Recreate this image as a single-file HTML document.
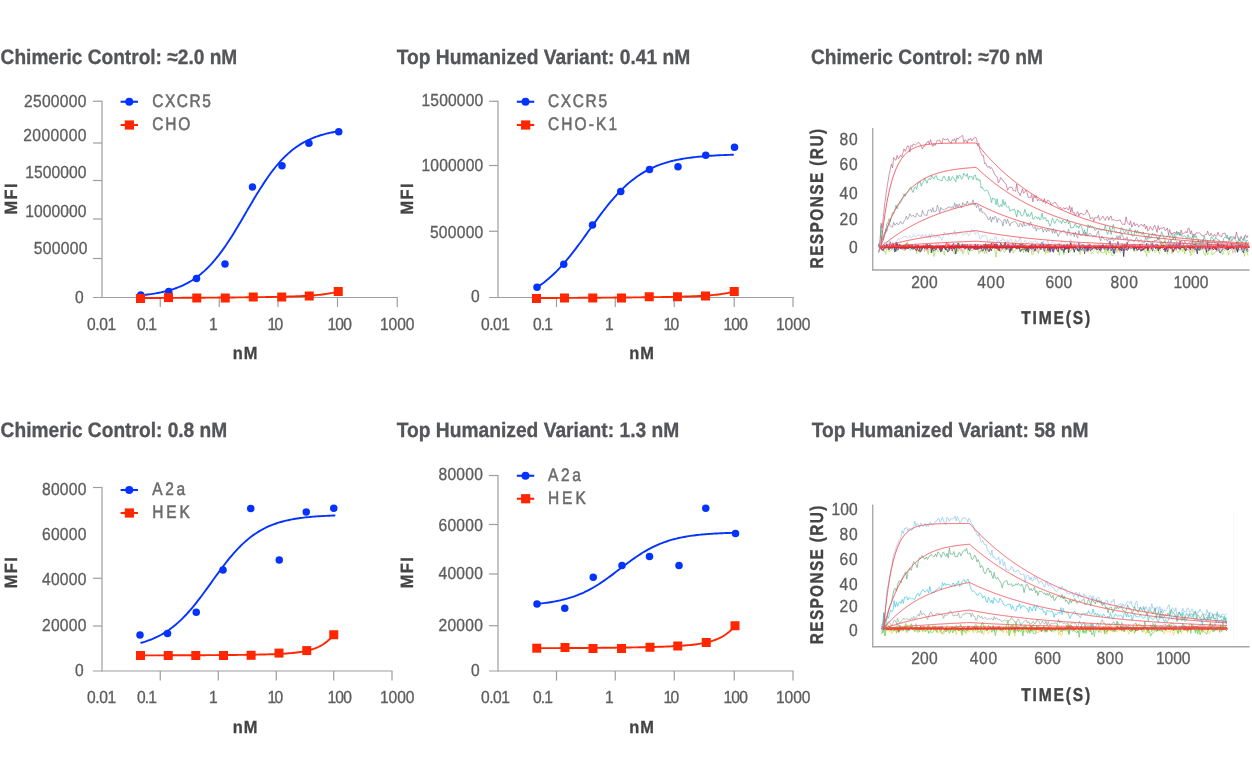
<!DOCTYPE html>
<html lang="en">
<head>
<meta charset="utf-8">
<title>Binding affinity: chimeric control vs. top humanized variant</title>
<style>
html, body { margin: 0; padding: 0; background: #ffffff; }
body { width: 1252px; height: 763px; overflow: hidden; }
svg { display: block; font-family: "Liberation Sans", sans-serif; text-rendering: geometricPrecision; }
</style>
</head>
<body>
<svg width="1252" height="763" viewBox="0 0 1252 763">
<defs>
<filter id="bl" x="-2%" y="-10%" width="104%" height="120%"><feGaussianBlur stdDeviation="0.55"/></filter>
</defs>
<rect width="1252" height="763" fill="#ffffff"/>
<text font-size="19.5" fill="#545558" font-weight="bold" stroke="#545558" stroke-width="0.3" textLength="236.65" lengthAdjust="spacingAndGlyphs" transform="translate(0.60 63.60) scale(1 1.07)">Chimeric Control: ≈2.0 nM</text>
<text font-size="19.5" fill="#545558" font-weight="bold" stroke="#545558" stroke-width="0.3" textLength="293.55" lengthAdjust="spacingAndGlyphs" transform="translate(396.70 63.60) scale(1 1.07)">Top Humanized Variant: 0.41 nM</text>
<text font-size="19.5" fill="#545558" font-weight="bold" stroke="#545558" stroke-width="0.3" textLength="232.00" lengthAdjust="spacingAndGlyphs" transform="translate(811.00 63.60) scale(1 1.07)">Chimeric Control: ≈70 nM</text>
<text font-size="19.5" fill="#545558" font-weight="bold" stroke="#545558" stroke-width="0.3" textLength="226.65" lengthAdjust="spacingAndGlyphs" transform="translate(0.60 437.35) scale(1 1.07)">Chimeric Control: 0.8 nM</text>
<text font-size="19.5" fill="#545558" font-weight="bold" stroke="#545558" stroke-width="0.3" textLength="282.55" lengthAdjust="spacingAndGlyphs" transform="translate(396.70 437.35) scale(1 1.07)">Top Humanized Variant: 1.3 nM</text>
<text font-size="19.5" fill="#545558" font-weight="bold" stroke="#545558" stroke-width="0.3" textLength="276.80" lengthAdjust="spacingAndGlyphs" transform="translate(811.70 437.35) scale(1 1.07)">Top Humanized Variant: 58 nM</text>
<line x1="102.00" y1="100.75" x2="102.00" y2="298.00" stroke="#9e9e9e" stroke-width="1.2"/>
<line x1="93.00" y1="101.25" x2="102.00" y2="101.25" stroke="#9e9e9e" stroke-width="1.2"/>
<line x1="93.00" y1="143.00" x2="102.00" y2="143.00" stroke="#9e9e9e" stroke-width="1.2"/>
<line x1="93.00" y1="180.50" x2="102.00" y2="180.50" stroke="#9e9e9e" stroke-width="1.2"/>
<line x1="93.00" y1="219.00" x2="102.00" y2="219.00" stroke="#9e9e9e" stroke-width="1.2"/>
<line x1="93.00" y1="258.50" x2="102.00" y2="258.50" stroke="#9e9e9e" stroke-width="1.2"/>
<line x1="93.00" y1="297.50" x2="397.75" y2="297.50" stroke="#9e9e9e" stroke-width="1.2"/>
<line x1="160.25" y1="297.50" x2="160.25" y2="307.10" stroke="#9e9e9e" stroke-width="1.2"/>
<line x1="219.25" y1="297.50" x2="219.25" y2="307.10" stroke="#9e9e9e" stroke-width="1.2"/>
<line x1="278.00" y1="297.50" x2="278.00" y2="307.10" stroke="#9e9e9e" stroke-width="1.2"/>
<line x1="337.50" y1="297.50" x2="337.50" y2="307.10" stroke="#9e9e9e" stroke-width="1.2"/>
<line x1="397.25" y1="297.50" x2="397.25" y2="307.10" stroke="#9e9e9e" stroke-width="1.2"/>
<text font-size="15.6" fill="#5e5e5e" stroke="#5e5e5e" stroke-width="0.3" textLength="62.65" lengthAdjust="spacing" transform="translate(23.90 107.00) scale(1 1.12)">2500000</text>
<text font-size="15.6" fill="#5e5e5e" stroke="#5e5e5e" stroke-width="0.3" textLength="63.40" lengthAdjust="spacing" transform="translate(23.15 140.50) scale(1 1.12)">2000000</text>
<text font-size="15.6" fill="#5e5e5e" stroke="#5e5e5e" stroke-width="0.3" textLength="61.40" lengthAdjust="spacing" transform="translate(25.15 178.00) scale(1 1.12)">1500000</text>
<text font-size="15.6" fill="#5e5e5e" stroke="#5e5e5e" stroke-width="0.3" textLength="61.40" lengthAdjust="spacing" transform="translate(25.15 216.75) scale(1 1.12)">1000000</text>
<text font-size="15.6" fill="#5e5e5e" stroke="#5e5e5e" stroke-width="0.3" textLength="53.90" lengthAdjust="spacing" transform="translate(33.65 253.75) scale(1 1.12)">500000</text>
<text font-size="15.6" fill="#5e5e5e" stroke="#5e5e5e" stroke-width="0.3" textLength="8.40" lengthAdjust="spacing" transform="translate(74.90 302.50) scale(1 1.12)">0</text>
<text font-size="15.6" fill="#5e5e5e" stroke="#5e5e5e" stroke-width="0.3" textLength="29.40" lengthAdjust="spacing" transform="translate(86.90 329.50) scale(1 1.12)">0.01</text>
<text font-size="15.6" fill="#5e5e5e" stroke="#5e5e5e" stroke-width="0.3" textLength="20.15" lengthAdjust="spacing" transform="translate(136.90 329.50) scale(1 1.12)">0.1</text>
<text font-size="15.6" fill="#5e5e5e" stroke="#5e5e5e" stroke-width="0.3" textLength="5.90" lengthAdjust="spacing" transform="translate(208.90 329.50) scale(1 1.12)">1</text>
<text font-size="15.6" fill="#5e5e5e" stroke="#5e5e5e" stroke-width="0.3" textLength="15.90" lengthAdjust="spacing" transform="translate(267.40 329.50) scale(1 1.12)">10</text>
<text font-size="15.6" fill="#5e5e5e" stroke="#5e5e5e" stroke-width="0.3" textLength="24.65" lengthAdjust="spacing" transform="translate(327.40 329.50) scale(1 1.12)">100</text>
<text font-size="15.6" fill="#5e5e5e" stroke="#5e5e5e" stroke-width="0.3" textLength="34.65" lengthAdjust="spacing" transform="translate(379.90 329.50) scale(1 1.12)">1000</text>
<text font-size="16.4" fill="#444444" font-weight="bold" stroke="#444444" stroke-width="0.3" text-anchor="middle" transform="translate(245.60 358.75) scale(1 1.07)" letter-spacing="0.9">nM</text>
<text font-size="16.4" fill="#444444" font-weight="bold" stroke="#444444" stroke-width="0.3" text-anchor="middle" transform="translate(17.00 198.20) rotate(-90) scale(1 1.08)" letter-spacing="1.5">MFI</text>
<line x1="120.60" y1="101.75" x2="138.00" y2="101.75" stroke="#0433ff" stroke-width="2.1"/>
<circle cx="129.25" cy="101.75" r="4" fill="#0433ff"/>
<line x1="120.60" y1="125.00" x2="138.00" y2="125.00" stroke="#ff2600" stroke-width="2.1"/>
<rect x="124.80" y="120.40" width="9.2" height="9.2" fill="#ff2600"/>
<text font-size="15.5" fill="#6b6b6b" stroke="#6b6b6b" stroke-width="0.45" textLength="58.60" lengthAdjust="spacing" transform="translate(152.20 107.15) scale(1 1.17)">CXCR5</text>
<text font-size="15.5" fill="#6b6b6b" stroke="#6b6b6b" stroke-width="0.45" textLength="38.10" lengthAdjust="spacing" transform="translate(152.20 130.10) scale(1 1.17)">CHO</text>
<path d="M141.00,295.26 L142.66,295.10 L144.31,294.92 L145.97,294.73 L147.62,294.53 L149.28,294.32 L150.93,294.09 L152.59,293.85 L154.24,293.59 L155.90,293.32 L157.55,293.02 L159.21,292.71 L160.87,292.38 L162.52,292.02 L164.18,291.64 L165.83,291.24 L167.49,290.82 L169.14,290.36 L170.80,289.88 L172.45,289.37 L174.11,288.82 L175.76,288.24 L177.42,287.63 L179.08,286.98 L180.73,286.29 L182.39,285.56 L184.04,284.78 L185.70,283.96 L187.35,283.10 L189.01,282.18 L190.66,281.21 L192.32,280.19 L193.97,279.11 L195.63,277.98 L197.29,276.78 L198.94,275.53 L200.60,274.21 L202.25,272.82 L203.91,271.37 L205.56,269.85 L207.22,268.26 L208.87,266.59 L210.53,264.86 L212.18,263.05 L213.84,261.17 L215.50,259.22 L217.15,257.19 L218.81,255.09 L220.46,252.92 L222.12,250.68 L223.77,248.37 L225.43,246.00 L227.08,243.56 L228.74,241.06 L230.39,238.51 L232.05,235.90 L233.71,233.24 L235.36,230.55 L237.02,227.81 L238.67,225.04 L240.33,222.24 L241.98,219.42 L243.64,216.58 L245.29,213.74 L246.95,210.89 L248.61,208.05 L250.26,205.22 L251.92,202.40 L253.57,199.60 L255.23,196.84 L256.88,194.10 L258.54,191.41 L260.19,188.76 L261.85,186.16 L263.50,183.61 L265.16,181.12 L266.82,178.69 L268.47,176.32 L270.13,174.02 L271.78,171.78 L273.44,169.62 L275.09,167.53 L276.75,165.51 L278.40,163.57 L280.06,161.69 L281.71,159.89 L283.37,158.17 L285.03,156.51 L286.68,154.93 L288.34,153.42 L289.99,151.97 L291.65,150.59 L293.30,149.28 L294.96,148.03 L296.61,146.84 L298.27,145.71 L299.92,144.64 L301.58,143.63 L303.24,142.67 L304.89,141.75 L306.55,140.89 L308.20,140.08 L309.86,139.31 L311.51,138.58 L313.17,137.90 L314.82,137.25 L316.48,136.64 L318.13,136.07 L319.79,135.52 L321.45,135.02 L323.10,134.54 L324.76,134.08 L326.41,133.66 L328.07,133.26 L329.72,132.89 L331.38,132.54 L333.03,132.21 L334.69,131.89 L336.34,131.60 L338.00,131.33" fill="none" stroke="#0433ff" stroke-width="1.9" stroke-linejoin="round" stroke-linecap="round"/>
<path d="M140.50,298.02 L142.50,298.01 L144.49,298.00 L146.49,297.99 L148.49,297.99 L150.49,297.98 L152.48,297.97 L154.48,297.96 L156.48,297.95 L158.48,297.94 L160.47,297.93 L162.47,297.92 L164.47,297.91 L166.47,297.90 L168.46,297.89 L170.46,297.88 L172.46,297.87 L174.46,297.86 L176.45,297.85 L178.45,297.84 L180.45,297.83 L182.45,297.82 L184.44,297.81 L186.44,297.79 L188.44,297.78 L190.44,297.77 L192.43,297.76 L194.43,297.74 L196.43,297.73 L198.43,297.72 L200.42,297.71 L202.42,297.69 L204.42,297.68 L206.42,297.66 L208.41,297.65 L210.41,297.63 L212.41,297.62 L214.41,297.60 L216.40,297.59 L218.40,297.57 L220.40,297.56 L222.40,297.54 L224.39,297.52 L226.39,297.51 L228.39,297.49 L230.39,297.47 L232.38,297.45 L234.38,297.43 L236.38,297.41 L238.38,297.39 L240.37,297.37 L242.37,297.35 L244.37,297.33 L246.37,297.31 L248.36,297.29 L250.36,297.26 L252.36,297.24 L254.36,297.21 L256.35,297.19 L258.35,297.16 L260.35,297.13 L262.35,297.11 L264.34,297.08 L266.34,297.04 L268.34,297.01 L270.34,296.98 L272.33,296.94 L274.33,296.90 L276.33,296.86 L278.33,296.82 L280.32,296.78 L282.32,296.73 L284.32,296.68 L286.32,296.63 L288.31,296.57 L290.31,296.51 L292.31,296.44 L294.31,296.37 L296.30,296.30 L298.30,296.22 L300.30,296.13 L302.30,296.04 L304.29,295.93 L306.29,295.82 L308.29,295.70 L310.29,295.57 L312.28,295.42 L314.28,295.26 L316.28,295.09 L318.28,294.90 L320.27,294.69 L322.27,294.46 L324.27,294.21 L326.27,293.93 L328.26,293.62 L330.26,293.27 L332.26,292.90 L334.26,292.48 L336.25,292.01 L338.25,291.50" fill="none" stroke="#ff2600" stroke-width="1.9" stroke-linejoin="round" stroke-linecap="round"/>
<circle cx="140.75" cy="295.00" r="3.75" fill="#0433ff"/>
<circle cx="168.75" cy="291.50" r="3.75" fill="#0433ff"/>
<circle cx="196.50" cy="278.50" r="3.75" fill="#0433ff"/>
<circle cx="225.00" cy="264.10" r="3.75" fill="#0433ff"/>
<circle cx="252.50" cy="187.00" r="3.75" fill="#0433ff"/>
<circle cx="282.00" cy="165.75" r="3.75" fill="#0433ff"/>
<circle cx="308.90" cy="143.25" r="3.75" fill="#0433ff"/>
<circle cx="338.75" cy="131.75" r="3.75" fill="#0433ff"/>
<rect x="136.00" y="294.00" width="9" height="9" fill="#ff2600"/>
<rect x="164.00" y="293.10" width="9" height="9" fill="#ff2600"/>
<rect x="192.25" y="293.50" width="9" height="9" fill="#ff2600"/>
<rect x="220.75" y="293.50" width="9" height="9" fill="#ff2600"/>
<rect x="248.75" y="292.50" width="9" height="9" fill="#ff2600"/>
<rect x="277.25" y="292.50" width="9" height="9" fill="#ff2600"/>
<rect x="304.75" y="291.50" width="9" height="9" fill="#ff2600"/>
<rect x="333.75" y="287.00" width="9" height="9" fill="#ff2600"/>
<line x1="498.00" y1="100.75" x2="498.00" y2="298.00" stroke="#9e9e9e" stroke-width="1.2"/>
<line x1="489.00" y1="101.25" x2="498.00" y2="101.25" stroke="#9e9e9e" stroke-width="1.2"/>
<line x1="489.00" y1="165.50" x2="498.00" y2="165.50" stroke="#9e9e9e" stroke-width="1.2"/>
<line x1="489.00" y1="231.25" x2="498.00" y2="231.25" stroke="#9e9e9e" stroke-width="1.2"/>
<line x1="489.00" y1="297.50" x2="793.50" y2="297.50" stroke="#9e9e9e" stroke-width="1.2"/>
<line x1="556.50" y1="297.50" x2="556.50" y2="307.10" stroke="#9e9e9e" stroke-width="1.2"/>
<line x1="615.25" y1="297.50" x2="615.25" y2="307.10" stroke="#9e9e9e" stroke-width="1.2"/>
<line x1="674.25" y1="297.50" x2="674.25" y2="307.10" stroke="#9e9e9e" stroke-width="1.2"/>
<line x1="734.25" y1="297.50" x2="734.25" y2="307.10" stroke="#9e9e9e" stroke-width="1.2"/>
<line x1="793.00" y1="297.50" x2="793.00" y2="307.10" stroke="#9e9e9e" stroke-width="1.2"/>
<text font-size="15.6" fill="#5e5e5e" stroke="#5e5e5e" stroke-width="0.3" textLength="61.90" lengthAdjust="spacing" transform="translate(421.40 105.60) scale(1 1.12)">1500000</text>
<text font-size="15.6" fill="#5e5e5e" stroke="#5e5e5e" stroke-width="0.3" textLength="61.90" lengthAdjust="spacing" transform="translate(421.40 171.25) scale(1 1.12)">1000000</text>
<text font-size="15.6" fill="#5e5e5e" stroke="#5e5e5e" stroke-width="0.3" textLength="53.40" lengthAdjust="spacing" transform="translate(429.90 237.50) scale(1 1.12)">500000</text>
<text font-size="15.6" fill="#5e5e5e" stroke="#5e5e5e" stroke-width="0.3" textLength="8.65" lengthAdjust="spacing" transform="translate(470.90 302.00) scale(1 1.12)">0</text>
<text font-size="15.6" fill="#5e5e5e" stroke="#5e5e5e" stroke-width="0.3" textLength="29.10" lengthAdjust="spacing" transform="translate(480.90 329.50) scale(1 1.12)">0.01</text>
<text font-size="15.6" fill="#5e5e5e" stroke="#5e5e5e" stroke-width="0.3" textLength="20.15" lengthAdjust="spacing" transform="translate(532.90 329.50) scale(1 1.12)">0.1</text>
<text font-size="15.6" fill="#5e5e5e" stroke="#5e5e5e" stroke-width="0.3" textLength="5.90" lengthAdjust="spacing" transform="translate(604.90 329.50) scale(1 1.12)">1</text>
<text font-size="15.6" fill="#5e5e5e" stroke="#5e5e5e" stroke-width="0.3" textLength="15.90" lengthAdjust="spacing" transform="translate(663.40 329.50) scale(1 1.12)">10</text>
<text font-size="15.6" fill="#5e5e5e" stroke="#5e5e5e" stroke-width="0.3" textLength="24.65" lengthAdjust="spacing" transform="translate(723.40 329.50) scale(1 1.12)">100</text>
<text font-size="15.6" fill="#5e5e5e" stroke="#5e5e5e" stroke-width="0.3" textLength="34.65" lengthAdjust="spacing" transform="translate(775.90 329.50) scale(1 1.12)">1000</text>
<text font-size="16.4" fill="#444444" font-weight="bold" stroke="#444444" stroke-width="0.3" text-anchor="middle" transform="translate(642.00 358.75) scale(1 1.07)" letter-spacing="0.9">nM</text>
<text font-size="16.4" fill="#444444" font-weight="bold" stroke="#444444" stroke-width="0.3" text-anchor="middle" transform="translate(413.00 198.20) rotate(-90) scale(1 1.08)" letter-spacing="1.5">MFI</text>
<line x1="516.85" y1="101.75" x2="534.25" y2="101.75" stroke="#0433ff" stroke-width="2.1"/>
<circle cx="525.50" cy="101.75" r="4" fill="#0433ff"/>
<line x1="516.85" y1="125.00" x2="534.25" y2="125.00" stroke="#ff2600" stroke-width="2.1"/>
<rect x="521.05" y="120.40" width="9.2" height="9.2" fill="#ff2600"/>
<text font-size="15.5" fill="#6b6b6b" stroke="#6b6b6b" stroke-width="0.45" textLength="59.10" lengthAdjust="spacing" transform="translate(547.95 107.15) scale(1 1.17)">CXCR5</text>
<text font-size="15.5" fill="#6b6b6b" stroke="#6b6b6b" stroke-width="0.45" textLength="69.10" lengthAdjust="spacing" transform="translate(547.95 130.10) scale(1 1.17)">CHO-K1</text>
<path d="M537.00,287.30 L538.65,286.22 L540.29,285.10 L541.94,283.93 L543.59,282.71 L545.24,281.43 L546.88,280.11 L548.53,278.74 L550.18,277.31 L551.82,275.83 L553.47,274.29 L555.12,272.71 L556.76,271.07 L558.41,269.37 L560.06,267.63 L561.71,265.83 L563.35,263.99 L565.00,262.10 L566.65,260.15 L568.29,258.17 L569.94,256.14 L571.59,254.07 L573.24,251.96 L574.88,249.82 L576.53,247.65 L578.18,245.44 L579.82,243.21 L581.47,240.96 L583.12,238.69 L584.76,236.41 L586.41,234.12 L588.06,231.82 L589.71,229.52 L591.35,227.22 L593.00,224.92 L594.65,222.64 L596.29,220.37 L597.94,218.12 L599.59,215.89 L601.24,213.69 L602.88,211.52 L604.53,209.38 L606.18,207.27 L607.82,205.20 L609.47,203.18 L611.12,201.19 L612.76,199.26 L614.41,197.37 L616.06,195.52 L617.71,193.73 L619.35,191.99 L621.00,190.30 L622.65,188.66 L624.29,187.08 L625.94,185.55 L627.59,184.07 L629.24,182.64 L630.88,181.27 L632.53,179.95 L634.18,178.68 L635.82,177.46 L637.47,176.29 L639.12,175.17 L640.76,174.10 L642.41,173.07 L644.06,172.09 L645.71,171.15 L647.35,170.26 L649.00,169.40 L650.65,168.59 L652.29,167.82 L653.94,167.08 L655.59,166.38 L657.24,165.71 L658.88,165.07 L660.53,164.47 L662.18,163.90 L663.82,163.35 L665.47,162.84 L667.12,162.35 L668.76,161.89 L670.41,161.45 L672.06,161.03 L673.71,160.64 L675.35,160.26 L677.00,159.91 L678.65,159.58 L680.29,159.26 L681.94,158.96 L683.59,158.68 L685.24,158.41 L686.88,158.16 L688.53,157.92 L690.18,157.69 L691.82,157.48 L693.47,157.28 L695.12,157.09 L696.76,156.91 L698.41,156.74 L700.06,156.58 L701.71,156.43 L703.35,156.29 L705.00,156.16 L706.65,156.03 L708.29,155.91 L709.94,155.80 L711.59,155.69 L713.24,155.59 L714.88,155.50 L716.53,155.41 L718.18,155.32 L719.82,155.24 L721.47,155.17 L723.12,155.10 L724.76,155.03 L726.41,154.97 L728.06,154.91 L729.71,154.85 L731.35,154.80 L733.00,154.75" fill="none" stroke="#0433ff" stroke-width="1.9" stroke-linejoin="round" stroke-linecap="round"/>
<path d="M536.50,298.02 L538.50,298.01 L540.49,298.00 L542.49,297.99 L544.49,297.99 L546.49,297.98 L548.48,297.97 L550.48,297.96 L552.48,297.95 L554.48,297.94 L556.47,297.93 L558.47,297.92 L560.47,297.91 L562.47,297.90 L564.46,297.89 L566.46,297.88 L568.46,297.87 L570.46,297.86 L572.45,297.85 L574.45,297.84 L576.45,297.83 L578.45,297.82 L580.44,297.81 L582.44,297.79 L584.44,297.78 L586.44,297.77 L588.43,297.76 L590.43,297.74 L592.43,297.73 L594.43,297.72 L596.42,297.71 L598.42,297.69 L600.42,297.68 L602.42,297.66 L604.41,297.65 L606.41,297.63 L608.41,297.62 L610.41,297.60 L612.40,297.59 L614.40,297.57 L616.40,297.56 L618.40,297.54 L620.39,297.52 L622.39,297.51 L624.39,297.49 L626.39,297.47 L628.38,297.45 L630.38,297.43 L632.38,297.41 L634.38,297.39 L636.37,297.37 L638.37,297.35 L640.37,297.33 L642.37,297.31 L644.36,297.29 L646.36,297.26 L648.36,297.24 L650.36,297.21 L652.35,297.19 L654.35,297.16 L656.35,297.13 L658.35,297.11 L660.34,297.08 L662.34,297.04 L664.34,297.01 L666.34,296.98 L668.33,296.94 L670.33,296.90 L672.33,296.86 L674.33,296.82 L676.32,296.78 L678.32,296.73 L680.32,296.68 L682.32,296.63 L684.31,296.57 L686.31,296.51 L688.31,296.44 L690.31,296.37 L692.30,296.30 L694.30,296.22 L696.30,296.13 L698.30,296.04 L700.29,295.93 L702.29,295.82 L704.29,295.70 L706.29,295.57 L708.28,295.42 L710.28,295.26 L712.28,295.09 L714.28,294.90 L716.27,294.69 L718.27,294.46 L720.27,294.21 L722.27,293.93 L724.26,293.62 L726.26,293.27 L728.26,292.90 L730.26,292.48 L732.25,292.01 L734.25,291.50" fill="none" stroke="#ff2600" stroke-width="1.9" stroke-linejoin="round" stroke-linecap="round"/>
<circle cx="537.00" cy="287.25" r="3.75" fill="#0433ff"/>
<circle cx="563.75" cy="264.25" r="3.75" fill="#0433ff"/>
<circle cx="592.50" cy="225.00" r="3.75" fill="#0433ff"/>
<circle cx="620.75" cy="191.50" r="3.75" fill="#0433ff"/>
<circle cx="649.50" cy="169.50" r="3.75" fill="#0433ff"/>
<circle cx="678.00" cy="166.75" r="3.75" fill="#0433ff"/>
<circle cx="705.75" cy="155.25" r="3.75" fill="#0433ff"/>
<circle cx="734.50" cy="147.25" r="3.75" fill="#0433ff"/>
<rect x="532.00" y="294.00" width="9" height="9" fill="#ff2600"/>
<rect x="560.00" y="293.50" width="9" height="9" fill="#ff2600"/>
<rect x="588.25" y="293.50" width="9" height="9" fill="#ff2600"/>
<rect x="617.00" y="293.50" width="9" height="9" fill="#ff2600"/>
<rect x="644.75" y="292.25" width="9" height="9" fill="#ff2600"/>
<rect x="673.00" y="292.25" width="9" height="9" fill="#ff2600"/>
<rect x="701.00" y="291.50" width="9" height="9" fill="#ff2600"/>
<rect x="729.75" y="287.00" width="9" height="9" fill="#ff2600"/>
<line x1="102.00" y1="487.00" x2="102.00" y2="671.50" stroke="#9e9e9e" stroke-width="1.2"/>
<line x1="93.00" y1="487.50" x2="102.00" y2="487.50" stroke="#9e9e9e" stroke-width="1.2"/>
<line x1="93.00" y1="578.25" x2="102.00" y2="578.25" stroke="#9e9e9e" stroke-width="1.2"/>
<line x1="93.00" y1="626.00" x2="102.00" y2="626.00" stroke="#9e9e9e" stroke-width="1.2"/>
<line x1="93.00" y1="671.00" x2="392.50" y2="671.00" stroke="#9e9e9e" stroke-width="1.2"/>
<line x1="160.25" y1="671.00" x2="160.25" y2="680.60" stroke="#9e9e9e" stroke-width="1.2"/>
<line x1="218.25" y1="671.00" x2="218.25" y2="680.60" stroke="#9e9e9e" stroke-width="1.2"/>
<line x1="276.25" y1="671.00" x2="276.25" y2="680.60" stroke="#9e9e9e" stroke-width="1.2"/>
<line x1="333.75" y1="671.00" x2="333.75" y2="680.60" stroke="#9e9e9e" stroke-width="1.2"/>
<line x1="392.00" y1="671.00" x2="392.00" y2="680.60" stroke="#9e9e9e" stroke-width="1.2"/>
<text font-size="15.6" fill="#5e5e5e" stroke="#5e5e5e" stroke-width="0.3" textLength="44.65" lengthAdjust="spacing" transform="translate(41.90 494.50) scale(1 1.12)">80000</text>
<text font-size="15.6" fill="#5e5e5e" stroke="#5e5e5e" stroke-width="0.3" textLength="44.65" lengthAdjust="spacing" transform="translate(41.90 540.00) scale(1 1.12)">60000</text>
<text font-size="15.6" fill="#5e5e5e" stroke="#5e5e5e" stroke-width="0.3" textLength="44.65" lengthAdjust="spacing" transform="translate(41.90 584.50) scale(1 1.12)">40000</text>
<text font-size="15.6" fill="#5e5e5e" stroke="#5e5e5e" stroke-width="0.3" textLength="44.65" lengthAdjust="spacing" transform="translate(41.90 631.25) scale(1 1.12)">20000</text>
<text font-size="15.6" fill="#5e5e5e" stroke="#5e5e5e" stroke-width="0.3" textLength="8.40" lengthAdjust="spacing" transform="translate(74.90 676.25) scale(1 1.12)">0</text>
<text font-size="15.6" fill="#5e5e5e" stroke="#5e5e5e" stroke-width="0.3" textLength="29.40" lengthAdjust="spacing" transform="translate(86.90 703.00) scale(1 1.12)">0.01</text>
<text font-size="15.6" fill="#5e5e5e" stroke="#5e5e5e" stroke-width="0.3" textLength="20.15" lengthAdjust="spacing" transform="translate(136.90 703.00) scale(1 1.12)">0.1</text>
<text font-size="15.6" fill="#5e5e5e" stroke="#5e5e5e" stroke-width="0.3" textLength="5.90" lengthAdjust="spacing" transform="translate(208.90 703.00) scale(1 1.12)">1</text>
<text font-size="15.6" fill="#5e5e5e" stroke="#5e5e5e" stroke-width="0.3" textLength="15.90" lengthAdjust="spacing" transform="translate(267.40 703.00) scale(1 1.12)">10</text>
<text font-size="15.6" fill="#5e5e5e" stroke="#5e5e5e" stroke-width="0.3" textLength="24.65" lengthAdjust="spacing" transform="translate(327.40 703.00) scale(1 1.12)">100</text>
<text font-size="15.6" fill="#5e5e5e" stroke="#5e5e5e" stroke-width="0.3" textLength="34.65" lengthAdjust="spacing" transform="translate(379.90 703.00) scale(1 1.12)">1000</text>
<text font-size="16.4" fill="#444444" font-weight="bold" stroke="#444444" stroke-width="0.3" text-anchor="middle" transform="translate(245.60 732.50) scale(1 1.07)" letter-spacing="0.9">nM</text>
<text font-size="16.4" fill="#444444" font-weight="bold" stroke="#444444" stroke-width="0.3" text-anchor="middle" transform="translate(17.00 572.00) rotate(-90) scale(1 1.08)" letter-spacing="1.5">MFI</text>
<line x1="120.60" y1="490.00" x2="138.00" y2="490.00" stroke="#0433ff" stroke-width="2.1"/>
<circle cx="129.25" cy="490.00" r="4" fill="#0433ff"/>
<line x1="120.60" y1="513.00" x2="138.00" y2="513.00" stroke="#ff2600" stroke-width="2.1"/>
<rect x="124.80" y="508.40" width="9.2" height="9.2" fill="#ff2600"/>
<text font-size="15.5" fill="#6b6b6b" stroke="#6b6b6b" stroke-width="0.45" textLength="32.85" lengthAdjust="spacing" transform="translate(152.20 495.40) scale(1 1.17)">A2a</text>
<text font-size="15.5" fill="#6b6b6b" stroke="#6b6b6b" stroke-width="0.45" textLength="37.60" lengthAdjust="spacing" transform="translate(152.20 518.10) scale(1 1.17)">HEK</text>
<path d="M141.25,642.75 L142.87,642.29 L144.50,641.80 L146.12,641.28 L147.75,640.72 L149.37,640.14 L150.99,639.52 L152.62,638.86 L154.24,638.17 L155.87,637.43 L157.49,636.66 L159.11,635.84 L160.74,634.98 L162.36,634.07 L163.99,633.12 L165.61,632.11 L167.23,631.05 L168.86,629.94 L170.48,628.78 L172.11,627.57 L173.73,626.29 L175.35,624.96 L176.98,623.58 L178.60,622.13 L180.22,620.63 L181.85,619.07 L183.47,617.45 L185.10,615.77 L186.72,614.04 L188.34,612.25 L189.97,610.41 L191.59,608.51 L193.22,606.57 L194.84,604.57 L196.46,602.54 L198.09,600.46 L199.71,598.35 L201.34,596.20 L202.96,594.02 L204.58,591.81 L206.21,589.59 L207.83,587.34 L209.46,585.09 L211.08,582.83 L212.70,580.57 L214.33,578.31 L215.95,576.06 L217.58,573.83 L219.20,571.61 L220.82,569.42 L222.45,567.25 L224.07,565.12 L225.70,563.02 L227.32,560.96 L228.94,558.95 L230.57,556.98 L232.19,555.06 L233.82,553.19 L235.44,551.37 L237.06,549.61 L238.69,547.90 L240.31,546.25 L241.93,544.66 L243.56,543.13 L245.18,541.65 L246.81,540.24 L248.43,538.88 L250.05,537.58 L251.68,536.33 L253.30,535.14 L254.93,534.00 L256.55,532.92 L258.17,531.89 L259.80,530.91 L261.42,529.97 L263.05,529.09 L264.67,528.25 L266.29,527.45 L267.92,526.70 L269.54,525.98 L271.17,525.31 L272.79,524.67 L274.41,524.06 L276.04,523.50 L277.66,522.96 L279.29,522.45 L280.91,521.97 L282.53,521.52 L284.16,521.10 L285.78,520.70 L287.41,520.33 L289.03,519.97 L290.65,519.64 L292.28,519.33 L293.90,519.04 L295.53,518.76 L297.15,518.50 L298.77,518.26 L300.40,518.03 L302.02,517.82 L303.64,517.62 L305.27,517.43 L306.89,517.25 L308.52,517.09 L310.14,516.93 L311.76,516.79 L313.39,516.65 L315.01,516.52 L316.64,516.40 L318.26,516.29 L319.88,516.19 L321.51,516.09 L323.13,516.00 L324.76,515.91 L326.38,515.83 L328.00,515.75 L329.63,515.68 L331.25,515.62 L332.88,515.55 L334.50,515.50" fill="none" stroke="#0433ff" stroke-width="1.9" stroke-linejoin="round" stroke-linecap="round"/>
<path d="M140.50,655.39 L142.45,655.39 L144.40,655.38 L146.36,655.38 L148.31,655.37 L150.26,655.37 L152.21,655.37 L154.16,655.36 L156.12,655.36 L158.07,655.35 L160.02,655.35 L161.97,655.34 L163.92,655.34 L165.88,655.33 L167.83,655.33 L169.78,655.32 L171.73,655.31 L173.68,655.31 L175.64,655.30 L177.59,655.30 L179.54,655.29 L181.49,655.28 L183.44,655.27 L185.40,655.27 L187.35,655.26 L189.30,655.25 L191.25,655.24 L193.20,655.23 L195.16,655.23 L197.11,655.22 L199.06,655.21 L201.01,655.20 L202.96,655.19 L204.92,655.18 L206.87,655.16 L208.82,655.15 L210.77,655.14 L212.72,655.13 L214.68,655.12 L216.63,655.10 L218.58,655.09 L220.53,655.07 L222.48,655.06 L224.44,655.04 L226.39,655.03 L228.34,655.01 L230.29,654.99 L232.24,654.97 L234.20,654.95 L236.15,654.93 L238.10,654.91 L240.05,654.89 L242.01,654.86 L243.96,654.84 L245.91,654.81 L247.86,654.78 L249.81,654.75 L251.77,654.72 L253.72,654.69 L255.67,654.65 L257.62,654.61 L259.57,654.57 L261.53,654.53 L263.48,654.48 L265.43,654.43 L267.38,654.37 L269.33,654.31 L271.29,654.25 L273.24,654.18 L275.19,654.10 L277.14,654.02 L279.09,653.92 L281.05,653.82 L283.00,653.71 L284.95,653.59 L286.90,653.45 L288.85,653.30 L290.81,653.13 L292.76,652.94 L294.71,652.73 L296.66,652.50 L298.61,652.24 L300.57,651.95 L302.52,651.62 L304.47,651.26 L306.42,650.85 L308.37,650.38 L310.33,649.86 L312.28,649.28 L314.23,648.61 L316.18,647.87 L318.13,647.02 L320.09,646.07 L322.04,644.99 L323.99,643.77 L325.94,642.39 L327.89,640.82 L329.85,639.05 L331.80,637.03 L333.75,634.75" fill="none" stroke="#ff2600" stroke-width="1.9" stroke-linejoin="round" stroke-linecap="round"/>
<circle cx="140.00" cy="635.00" r="3.75" fill="#0433ff"/>
<circle cx="167.50" cy="633.50" r="3.75" fill="#0433ff"/>
<circle cx="196.25" cy="612.25" r="3.75" fill="#0433ff"/>
<circle cx="223.00" cy="570.00" r="3.75" fill="#0433ff"/>
<circle cx="250.75" cy="508.40" r="3.75" fill="#0433ff"/>
<circle cx="279.25" cy="560.00" r="3.75" fill="#0433ff"/>
<circle cx="306.25" cy="511.90" r="3.75" fill="#0433ff"/>
<circle cx="333.75" cy="508.25" r="3.75" fill="#0433ff"/>
<rect x="136.00" y="651.00" width="9" height="9" fill="#ff2600"/>
<rect x="163.75" y="651.00" width="9" height="9" fill="#ff2600"/>
<rect x="191.25" y="651.00" width="9" height="9" fill="#ff2600"/>
<rect x="219.00" y="651.00" width="9" height="9" fill="#ff2600"/>
<rect x="246.60" y="650.80" width="9" height="9" fill="#ff2600"/>
<rect x="274.50" y="648.60" width="9" height="9" fill="#ff2600"/>
<rect x="302.25" y="646.10" width="9" height="9" fill="#ff2600"/>
<rect x="329.25" y="630.25" width="9" height="9" fill="#ff2600"/>
<line x1="498.00" y1="475.00" x2="498.00" y2="671.50" stroke="#9e9e9e" stroke-width="1.2"/>
<line x1="489.00" y1="475.50" x2="498.00" y2="475.50" stroke="#9e9e9e" stroke-width="1.2"/>
<line x1="489.00" y1="524.50" x2="498.00" y2="524.50" stroke="#9e9e9e" stroke-width="1.2"/>
<line x1="489.00" y1="574.00" x2="498.00" y2="574.00" stroke="#9e9e9e" stroke-width="1.2"/>
<line x1="489.00" y1="625.75" x2="498.00" y2="625.75" stroke="#9e9e9e" stroke-width="1.2"/>
<line x1="489.00" y1="671.00" x2="793.50" y2="671.00" stroke="#9e9e9e" stroke-width="1.2"/>
<line x1="556.50" y1="671.00" x2="556.50" y2="680.60" stroke="#9e9e9e" stroke-width="1.2"/>
<line x1="615.25" y1="671.00" x2="615.25" y2="680.60" stroke="#9e9e9e" stroke-width="1.2"/>
<line x1="674.25" y1="671.00" x2="674.25" y2="680.60" stroke="#9e9e9e" stroke-width="1.2"/>
<line x1="734.25" y1="671.00" x2="734.25" y2="680.60" stroke="#9e9e9e" stroke-width="1.2"/>
<line x1="793.00" y1="671.00" x2="793.00" y2="680.60" stroke="#9e9e9e" stroke-width="1.2"/>
<text font-size="15.6" fill="#5e5e5e" stroke="#5e5e5e" stroke-width="0.3" textLength="44.65" lengthAdjust="spacing" transform="translate(438.40 480.00) scale(1 1.12)">80000</text>
<text font-size="15.6" fill="#5e5e5e" stroke="#5e5e5e" stroke-width="0.3" textLength="44.65" lengthAdjust="spacing" transform="translate(438.40 530.60) scale(1 1.12)">60000</text>
<text font-size="15.6" fill="#5e5e5e" stroke="#5e5e5e" stroke-width="0.3" textLength="44.65" lengthAdjust="spacing" transform="translate(438.40 578.75) scale(1 1.12)">40000</text>
<text font-size="15.6" fill="#5e5e5e" stroke="#5e5e5e" stroke-width="0.3" textLength="44.65" lengthAdjust="spacing" transform="translate(438.40 630.75) scale(1 1.12)">20000</text>
<text font-size="15.6" fill="#5e5e5e" stroke="#5e5e5e" stroke-width="0.3" textLength="8.65" lengthAdjust="spacing" transform="translate(470.90 676.00) scale(1 1.12)">0</text>
<text font-size="15.6" fill="#5e5e5e" stroke="#5e5e5e" stroke-width="0.3" textLength="29.10" lengthAdjust="spacing" transform="translate(480.90 703.00) scale(1 1.12)">0.01</text>
<text font-size="15.6" fill="#5e5e5e" stroke="#5e5e5e" stroke-width="0.3" textLength="20.15" lengthAdjust="spacing" transform="translate(532.90 703.00) scale(1 1.12)">0.1</text>
<text font-size="15.6" fill="#5e5e5e" stroke="#5e5e5e" stroke-width="0.3" textLength="5.90" lengthAdjust="spacing" transform="translate(604.90 703.00) scale(1 1.12)">1</text>
<text font-size="15.6" fill="#5e5e5e" stroke="#5e5e5e" stroke-width="0.3" textLength="15.90" lengthAdjust="spacing" transform="translate(663.40 703.00) scale(1 1.12)">10</text>
<text font-size="15.6" fill="#5e5e5e" stroke="#5e5e5e" stroke-width="0.3" textLength="24.65" lengthAdjust="spacing" transform="translate(723.40 703.00) scale(1 1.12)">100</text>
<text font-size="15.6" fill="#5e5e5e" stroke="#5e5e5e" stroke-width="0.3" textLength="34.65" lengthAdjust="spacing" transform="translate(775.90 703.00) scale(1 1.12)">1000</text>
<text font-size="16.4" fill="#444444" font-weight="bold" stroke="#444444" stroke-width="0.3" text-anchor="middle" transform="translate(642.00 732.50) scale(1 1.07)" letter-spacing="0.9">nM</text>
<text font-size="16.4" fill="#444444" font-weight="bold" stroke="#444444" stroke-width="0.3" text-anchor="middle" transform="translate(413.00 572.00) rotate(-90) scale(1 1.08)" letter-spacing="1.5">MFI</text>
<line x1="516.85" y1="475.75" x2="534.25" y2="475.75" stroke="#0433ff" stroke-width="2.1"/>
<circle cx="525.50" cy="475.75" r="4" fill="#0433ff"/>
<line x1="516.85" y1="498.75" x2="534.25" y2="498.75" stroke="#ff2600" stroke-width="2.1"/>
<rect x="521.05" y="494.15" width="9.2" height="9.2" fill="#ff2600"/>
<text font-size="15.5" fill="#6b6b6b" stroke="#6b6b6b" stroke-width="0.45" textLength="32.85" lengthAdjust="spacing" transform="translate(547.95 481.15) scale(1 1.17)">A2a</text>
<text font-size="15.5" fill="#6b6b6b" stroke="#6b6b6b" stroke-width="0.45" textLength="37.85" lengthAdjust="spacing" transform="translate(547.95 503.85) scale(1 1.17)">HEK</text>
<path d="M537.00,603.85 L538.67,603.69 L540.34,603.51 L542.00,603.33 L543.67,603.13 L545.34,602.92 L547.01,602.70 L548.68,602.46 L550.34,602.21 L552.01,601.94 L553.68,601.65 L555.35,601.35 L557.02,601.03 L558.68,600.68 L560.35,600.32 L562.02,599.94 L563.69,599.53 L565.36,599.10 L567.03,598.64 L568.69,598.16 L570.36,597.65 L572.03,597.12 L573.70,596.55 L575.37,595.96 L577.03,595.33 L578.70,594.68 L580.37,593.99 L582.04,593.27 L583.71,592.52 L585.37,591.73 L587.04,590.91 L588.71,590.05 L590.38,589.16 L592.05,588.24 L593.71,587.29 L595.38,586.30 L597.05,585.28 L598.72,584.23 L600.39,583.14 L602.05,582.03 L603.72,580.90 L605.39,579.73 L607.06,578.55 L608.73,577.34 L610.39,576.12 L612.06,574.88 L613.73,573.62 L615.40,572.36 L617.07,571.09 L618.74,569.81 L620.40,568.53 L622.07,567.26 L623.74,565.99 L625.41,564.72 L627.08,563.47 L628.74,562.23 L630.41,561.00 L632.08,559.80 L633.75,558.61 L635.42,557.45 L637.08,556.31 L638.75,555.20 L640.42,554.12 L642.09,553.07 L643.76,552.05 L645.42,551.06 L647.09,550.11 L648.76,549.19 L650.43,548.30 L652.10,547.44 L653.76,546.62 L655.43,545.84 L657.10,545.08 L658.77,544.36 L660.44,543.67 L662.11,543.02 L663.77,542.40 L665.44,541.80 L667.11,541.24 L668.78,540.70 L670.45,540.19 L672.11,539.71 L673.78,539.26 L675.45,538.83 L677.12,538.42 L678.79,538.03 L680.45,537.67 L682.12,537.33 L683.79,537.01 L685.46,536.70 L687.13,536.42 L688.79,536.15 L690.46,535.90 L692.13,535.66 L693.80,535.44 L695.47,535.23 L697.13,535.03 L698.80,534.85 L700.47,534.67 L702.14,534.51 L703.81,534.36 L705.47,534.22 L707.14,534.08 L708.81,533.96 L710.48,533.84 L712.15,533.73 L713.82,533.63 L715.48,533.53 L717.15,533.44 L718.82,533.36 L720.49,533.28 L722.16,533.20 L723.82,533.14 L725.49,533.07 L727.16,533.01 L728.83,532.96 L730.50,532.90 L732.16,532.85 L733.83,532.81 L735.50,532.77" fill="none" stroke="#0433ff" stroke-width="1.9" stroke-linejoin="round" stroke-linecap="round"/>
<path d="M536.75,648.15 L538.75,648.14 L540.76,648.14 L542.76,648.13 L544.76,648.13 L546.76,648.12 L548.77,648.11 L550.77,648.11 L552.77,648.10 L554.77,648.09 L556.78,648.08 L558.78,648.08 L560.78,648.07 L562.78,648.06 L564.79,648.05 L566.79,648.04 L568.79,648.03 L570.79,648.02 L572.80,648.01 L574.80,648.00 L576.80,647.99 L578.80,647.98 L580.81,647.97 L582.81,647.95 L584.81,647.94 L586.81,647.93 L588.82,647.91 L590.82,647.90 L592.82,647.88 L594.82,647.87 L596.83,647.85 L598.83,647.84 L600.83,647.82 L602.83,647.80 L604.84,647.78 L606.84,647.76 L608.84,647.74 L610.84,647.72 L612.85,647.70 L614.85,647.68 L616.85,647.65 L618.85,647.63 L620.86,647.60 L622.86,647.57 L624.86,647.55 L626.86,647.52 L628.87,647.49 L630.87,647.46 L632.87,647.42 L634.87,647.39 L636.88,647.35 L638.88,647.31 L640.88,647.27 L642.88,647.23 L644.89,647.19 L646.89,647.14 L648.89,647.10 L650.89,647.05 L652.90,646.99 L654.90,646.94 L656.90,646.88 L658.90,646.81 L660.91,646.75 L662.91,646.68 L664.91,646.60 L666.91,646.52 L668.92,646.44 L670.92,646.35 L672.92,646.25 L674.92,646.15 L676.93,646.03 L678.93,645.91 L680.93,645.78 L682.93,645.64 L684.94,645.48 L686.94,645.31 L688.94,645.13 L690.94,644.93 L692.95,644.71 L694.95,644.47 L696.95,644.20 L698.95,643.91 L700.96,643.58 L702.96,643.22 L704.96,642.82 L706.96,642.37 L708.97,641.88 L710.97,641.32 L712.97,640.70 L714.97,640.00 L716.98,639.22 L718.98,638.35 L720.98,637.36 L722.98,636.25 L724.99,634.99 L726.99,633.58 L728.99,631.98 L730.99,630.17 L733.00,628.12 L735.00,625.80" fill="none" stroke="#ff2600" stroke-width="1.9" stroke-linejoin="round" stroke-linecap="round"/>
<circle cx="537.00" cy="604.00" r="3.75" fill="#0433ff"/>
<circle cx="564.75" cy="608.25" r="3.75" fill="#0433ff"/>
<circle cx="593.25" cy="577.25" r="3.75" fill="#0433ff"/>
<circle cx="622.00" cy="565.50" r="3.75" fill="#0433ff"/>
<circle cx="649.50" cy="556.50" r="3.75" fill="#0433ff"/>
<circle cx="679.00" cy="565.50" r="3.75" fill="#0433ff"/>
<circle cx="705.75" cy="508.25" r="3.75" fill="#0433ff"/>
<circle cx="735.50" cy="533.50" r="3.75" fill="#0433ff"/>
<rect x="532.25" y="643.70" width="9" height="9" fill="#ff2600"/>
<rect x="560.50" y="643.00" width="9" height="9" fill="#ff2600"/>
<rect x="588.50" y="644.00" width="9" height="9" fill="#ff2600"/>
<rect x="617.00" y="644.00" width="9" height="9" fill="#ff2600"/>
<rect x="645.50" y="642.75" width="9" height="9" fill="#ff2600"/>
<rect x="673.25" y="641.50" width="9" height="9" fill="#ff2600"/>
<rect x="701.75" y="638.00" width="9" height="9" fill="#ff2600"/>
<rect x="730.50" y="621.25" width="9" height="9" fill="#ff2600"/>
<g filter="url(#bl)">
<path d="M878.75,250.98 L879.90,249.10 L881.05,247.09 L882.20,248.52 L883.35,246.76 L884.50,250.20 L885.65,254.38 L886.80,248.39 L887.95,247.97 L889.10,251.60 L890.25,251.17 L891.40,250.34 L892.55,246.96 L893.70,249.90 L894.85,252.27 L896.00,245.61 L897.15,248.51 L898.30,243.79 L899.45,245.79 L900.60,243.99 L901.75,249.23 L902.90,245.86 L904.05,250.89 L905.20,250.51 L906.35,249.39 L907.50,241.78 L908.65,248.24 L909.80,249.84 L910.95,250.37 L912.10,245.00 L913.25,248.44 L914.40,246.80 L915.55,247.36 L916.70,253.46 L917.85,247.36 L919.00,249.89 L920.15,252.89 L921.30,248.09 L922.45,249.64 L923.60,250.36 L924.75,250.21 L925.90,246.00 L927.05,250.25 L928.20,254.44 L929.35,244.95 L930.50,252.81 L931.65,250.39 L932.80,247.91 L933.95,256.53 L935.10,252.49 L936.25,246.08 L937.40,250.24 L938.55,251.88 L939.70,249.38 L940.85,252.23 L942.00,249.78 L943.15,252.18 L944.30,254.70 L945.45,247.79 L946.60,250.66 L947.75,248.49 L948.90,250.42 L950.05,246.12 L951.20,248.11 L952.35,249.36 L953.50,252.94 L954.65,253.74 L955.80,245.68 L956.95,247.40 L958.10,252.11 L959.25,243.49 L960.40,248.49 L961.55,249.68 L962.70,254.11 L963.85,252.25 L965.00,248.93 L966.15,248.80 L967.30,249.18 L968.45,254.98 L969.60,248.60 L970.75,249.01 L971.90,251.15 L973.05,249.61 L974.20,249.36 L975.35,246.36 L976.50,249.96 L977.65,248.55 L978.80,253.81 L979.95,252.13 L981.10,249.92 L982.25,252.18 L983.40,248.89 L984.55,253.44 L985.70,249.98 L986.85,253.38 L988.00,245.78 L989.15,251.13 L990.30,244.49 L991.45,243.35 L992.60,249.01 L993.75,247.06 L994.90,250.54 L996.05,257.33 L997.20,247.28 L998.35,247.96 L999.50,250.67 L1000.65,251.61 L1001.80,249.42 L1002.95,249.33 L1004.10,252.29 L1005.25,251.70 L1006.40,246.62 L1007.55,249.74 L1008.70,250.12 L1009.85,246.56 L1011.00,250.85 L1012.15,247.20 L1013.30,253.17 L1014.45,250.63 L1015.60,250.29 L1016.75,248.07 L1017.90,249.61 L1019.05,243.48 L1020.20,246.31 L1021.35,251.18 L1022.50,243.05 L1023.65,252.76 L1024.80,244.30 L1025.95,252.47 L1027.10,247.24 L1028.25,252.54 L1029.40,250.43 L1030.55,244.98 L1031.70,254.08 L1032.85,254.71 L1034.00,249.79 L1035.15,249.11 L1036.30,249.48 L1037.45,246.82 L1038.60,253.59 L1039.75,248.23 L1040.90,249.83 L1042.05,247.41 L1043.20,247.96 L1044.35,245.83 L1045.50,254.11 L1046.65,249.50 L1047.80,253.15 L1048.95,250.04 L1050.10,247.73 L1051.25,248.93 L1052.40,248.17 L1053.55,250.03 L1054.70,248.77 L1055.85,249.02 L1057.00,245.50 L1058.15,247.37 L1059.30,255.40 L1060.45,247.81 L1061.60,246.56 L1062.75,251.10 L1063.90,254.60 L1065.05,245.25 L1066.20,249.32 L1067.35,247.94 L1068.50,244.25 L1069.65,252.40 L1070.80,249.92 L1071.95,250.23 L1073.10,247.54 L1074.25,251.49 L1075.40,248.24 L1076.55,249.53 L1077.70,246.38 L1078.85,246.03 L1080.00,254.36 L1081.15,248.34 L1082.30,250.95 L1083.45,249.89 L1084.60,248.56 L1085.75,248.34 L1086.90,252.06 L1088.05,249.01 L1089.20,249.51 L1090.35,250.07 L1091.50,253.84 L1092.65,252.22 L1093.80,251.25 L1094.95,248.16 L1096.10,245.49 L1097.25,253.10 L1098.40,253.16 L1099.55,249.54 L1100.70,251.77 L1101.85,252.55 L1103.00,252.71 L1104.15,253.01 L1105.30,248.51 L1106.45,254.95 L1107.60,245.93 L1108.75,252.81 L1109.90,251.61 L1111.05,252.85 L1112.20,256.14 L1113.35,254.85 L1114.50,246.26 L1115.65,244.49 L1116.80,252.67 L1117.95,246.69 L1119.10,249.96 L1120.25,252.74 L1121.40,244.63 L1122.55,243.11 L1123.70,250.85 L1124.85,250.14 L1126.00,249.20 L1127.15,250.13 L1128.30,247.19 L1129.45,245.06 L1130.60,249.46 L1131.75,246.83 L1132.90,244.63 L1134.05,251.65 L1135.20,249.80 L1136.35,251.33 L1137.50,246.77 L1138.65,247.85 L1139.80,244.62 L1140.95,247.10 L1142.10,250.64 L1143.25,247.44 L1144.40,251.64 L1145.55,251.11 L1146.70,256.61 L1147.85,245.45 L1149.00,252.90 L1150.15,249.71 L1151.30,249.95 L1152.45,245.27 L1153.60,248.50 L1154.75,252.43 L1155.90,249.73 L1157.05,250.26 L1158.20,249.05 L1159.35,253.77 L1160.50,249.93 L1161.65,242.81 L1162.80,247.74 L1163.95,243.57 L1165.10,239.38 L1166.25,248.27 L1167.40,254.36 L1168.55,250.15 L1169.70,246.17 L1170.85,246.93 L1172.00,253.69 L1173.15,250.51 L1174.30,250.16 L1175.45,249.83 L1176.60,250.13 L1177.75,252.63 L1178.90,251.80 L1180.05,250.70 L1181.20,246.59 L1182.35,251.67 L1183.50,247.77 L1184.65,254.01 L1185.80,245.85 L1186.95,249.55 L1188.10,249.98 L1189.25,245.67 L1190.40,255.62 L1191.55,254.77 L1192.70,248.49 L1193.85,252.52 L1195.00,251.24 L1196.15,241.46 L1197.30,250.82 L1198.45,249.80 L1199.60,250.27 L1200.75,246.48 L1201.90,249.12 L1203.05,249.42 L1204.20,253.88 L1205.35,255.57 L1206.50,249.98 L1207.65,254.99 L1208.80,248.19 L1209.95,248.73 L1211.10,244.07 L1212.25,255.12 L1213.40,253.15 L1214.55,252.99 L1215.70,252.18 L1216.85,250.36 L1218.00,250.70 L1219.15,249.18 L1220.30,249.34 L1221.45,250.18 L1222.60,254.94 L1223.75,251.81 L1224.90,249.81 L1226.05,248.11 L1227.20,247.93 L1228.35,255.23 L1229.50,251.65 L1230.65,250.22 L1231.80,248.87 L1232.95,246.38 L1234.10,249.78 L1235.25,252.85 L1236.40,248.72 L1237.55,249.26 L1238.70,249.28 L1239.85,250.36 L1241.00,244.80 L1242.15,249.23 L1243.30,247.21 L1244.45,256.38 L1245.60,247.48 L1246.75,251.88 L1247.90,254.98" fill="none" stroke="#9be04a" stroke-width="0.9" stroke-linejoin="round" stroke-linecap="round" opacity="0.8"/>
<path d="M878.75,245.52 L879.90,248.86 L881.05,249.11 L882.20,249.00 L883.35,247.36 L884.50,248.43 L885.65,248.83 L886.80,247.34 L887.95,249.60 L889.10,242.88 L890.25,248.79 L891.40,245.39 L892.55,249.46 L893.70,247.03 L894.85,245.68 L896.00,248.26 L897.15,245.64 L898.30,245.64 L899.45,244.30 L900.60,247.45 L901.75,248.51 L902.90,249.59 L904.05,247.21 L905.20,249.64 L906.35,247.54 L907.50,247.31 L908.65,248.67 L909.80,249.66 L910.95,246.80 L912.10,247.00 L913.25,247.97 L914.40,247.67 L915.55,245.66 L916.70,249.60 L917.85,246.68 L919.00,248.44 L920.15,245.81 L921.30,248.23 L922.45,248.30 L923.60,246.64 L924.75,251.63 L925.90,248.26 L927.05,251.13 L928.20,249.46 L929.35,246.15 L930.50,246.72 L931.65,248.39 L932.80,247.62 L933.95,247.60 L935.10,246.92 L936.25,243.81 L937.40,247.04 L938.55,242.97 L939.70,248.26 L940.85,246.02 L942.00,246.04 L943.15,247.05 L944.30,248.06 L945.45,244.57 L946.60,243.93 L947.75,245.32 L948.90,243.33 L950.05,245.53 L951.20,250.75 L952.35,245.34 L953.50,248.83 L954.65,244.70 L955.80,248.11 L956.95,246.85 L958.10,247.38 L959.25,248.66 L960.40,251.09 L961.55,247.90 L962.70,252.14 L963.85,245.51 L965.00,248.69 L966.15,247.00 L967.30,249.20 L968.45,247.41 L969.60,251.06 L970.75,243.45 L971.90,246.89 L973.05,249.30 L974.20,246.78 L975.35,245.88 L976.50,246.96 L977.65,244.68 L978.80,247.74 L979.95,252.48 L981.10,249.84 L982.25,245.23 L983.40,245.72 L984.55,246.67 L985.70,249.55 L986.85,245.82 L988.00,246.09 L989.15,249.31 L990.30,249.27 L991.45,246.74 L992.60,245.22 L993.75,244.33 L994.90,246.07 L996.05,242.94 L997.20,249.03 L998.35,246.21 L999.50,248.48 L1000.65,251.32 L1001.80,249.90 L1002.95,245.15 L1004.10,249.28 L1005.25,249.87 L1006.40,245.98 L1007.55,245.55 L1008.70,247.28 L1009.85,244.23 L1011.00,250.50 L1012.15,242.59 L1013.30,245.24 L1014.45,246.95 L1015.60,247.04 L1016.75,247.84 L1017.90,248.05 L1019.05,247.06 L1020.20,249.82 L1021.35,243.13 L1022.50,247.50 L1023.65,246.04 L1024.80,247.77 L1025.95,247.95 L1027.10,245.64 L1028.25,246.19 L1029.40,249.12 L1030.55,248.21 L1031.70,246.11 L1032.85,251.67 L1034.00,252.22 L1035.15,244.51 L1036.30,248.12 L1037.45,252.62 L1038.60,249.10 L1039.75,247.95 L1040.90,247.08 L1042.05,246.39 L1043.20,247.07 L1044.35,246.38 L1045.50,249.02 L1046.65,246.69 L1047.80,246.60 L1048.95,245.04 L1050.10,247.40 L1051.25,245.67 L1052.40,247.13 L1053.55,249.63 L1054.70,248.25 L1055.85,248.53 L1057.00,248.23 L1058.15,247.83 L1059.30,247.24 L1060.45,246.87 L1061.60,249.05 L1062.75,245.29 L1063.90,250.24 L1065.05,247.57 L1066.20,245.97 L1067.35,246.50 L1068.50,246.12 L1069.65,247.83 L1070.80,246.03 L1071.95,249.83 L1073.10,245.90 L1074.25,242.86 L1075.40,246.01 L1076.55,243.40 L1077.70,247.42 L1078.85,249.66 L1080.00,248.82 L1081.15,244.77 L1082.30,245.94 L1083.45,251.13 L1084.60,248.15 L1085.75,247.51 L1086.90,249.66 L1088.05,252.51 L1089.20,250.15 L1090.35,247.78 L1091.50,248.22 L1092.65,248.76 L1093.80,246.25 L1094.95,245.34 L1096.10,247.61 L1097.25,245.57 L1098.40,247.37 L1099.55,247.70 L1100.70,252.28 L1101.85,245.76 L1103.00,247.25 L1104.15,247.16 L1105.30,248.39 L1106.45,249.64 L1107.60,246.50 L1108.75,245.82 L1109.90,244.15 L1111.05,245.61 L1112.20,248.60 L1113.35,247.59 L1114.50,245.43 L1115.65,249.64 L1116.80,247.56 L1117.95,248.53 L1119.10,246.29 L1120.25,246.99 L1121.40,243.79 L1122.55,245.15 L1123.70,250.80 L1124.85,243.03 L1126.00,246.81 L1127.15,247.95 L1128.30,246.74 L1129.45,245.85 L1130.60,247.38 L1131.75,247.49 L1132.90,247.33 L1134.05,243.66 L1135.20,247.20 L1136.35,245.75 L1137.50,246.38 L1138.65,247.96 L1139.80,248.81 L1140.95,249.33 L1142.10,246.49 L1143.25,249.39 L1144.40,249.90 L1145.55,249.82 L1146.70,250.34 L1147.85,246.68 L1149.00,247.14 L1150.15,249.19 L1151.30,244.71 L1152.45,247.93 L1153.60,246.42 L1154.75,246.75 L1155.90,243.94 L1157.05,245.68 L1158.20,247.46 L1159.35,249.31 L1160.50,246.40 L1161.65,247.34 L1162.80,247.11 L1163.95,245.80 L1165.10,248.32 L1166.25,246.99 L1167.40,248.74 L1168.55,251.08 L1169.70,247.43 L1170.85,244.44 L1172.00,245.74 L1173.15,244.52 L1174.30,245.05 L1175.45,250.17 L1176.60,247.96 L1177.75,244.39 L1178.90,248.84 L1180.05,250.07 L1181.20,246.76 L1182.35,246.12 L1183.50,246.81 L1184.65,248.08 L1185.80,248.81 L1186.95,249.91 L1188.10,249.98 L1189.25,249.92 L1190.40,252.97 L1191.55,248.85 L1192.70,244.37 L1193.85,247.23 L1195.00,248.14 L1196.15,246.72 L1197.30,249.36 L1198.45,247.64 L1199.60,245.61 L1200.75,250.45 L1201.90,248.86 L1203.05,247.95 L1204.20,249.39 L1205.35,249.67 L1206.50,248.20 L1207.65,242.48 L1208.80,246.12 L1209.95,246.57 L1211.10,245.49 L1212.25,247.91 L1213.40,249.94 L1214.55,246.51 L1215.70,245.18 L1216.85,251.64 L1218.00,246.58 L1219.15,244.98 L1220.30,247.99 L1221.45,248.37 L1222.60,246.06 L1223.75,249.11 L1224.90,246.50 L1226.05,245.61 L1227.20,247.86 L1228.35,249.07 L1229.50,246.21 L1230.65,248.18 L1231.80,247.31 L1232.95,253.27 L1234.10,246.05 L1235.25,250.33 L1236.40,247.39 L1237.55,247.24 L1238.70,248.97 L1239.85,249.33 L1241.00,250.09 L1242.15,248.17 L1243.30,250.34 L1244.45,246.40 L1245.60,248.54 L1246.75,248.69 L1247.90,250.36" fill="none" stroke="#f29bc0" stroke-width="0.9" stroke-linejoin="round" stroke-linecap="round" opacity="0.7"/>
<path d="M878.75,252.04 L879.90,247.03 L881.05,247.66 L882.20,249.95 L883.35,250.73 L884.50,245.21 L885.65,246.99 L886.80,244.55 L887.95,248.12 L889.10,247.56 L890.25,246.99 L891.40,246.20 L892.55,246.90 L893.70,246.06 L894.85,249.03 L896.00,251.33 L897.15,243.30 L898.30,247.53 L899.45,246.83 L900.60,248.95 L901.75,245.58 L902.90,247.46 L904.05,245.38 L905.20,249.42 L906.35,248.03 L907.50,247.42 L908.65,248.66 L909.80,247.23 L910.95,247.79 L912.10,249.19 L913.25,248.47 L914.40,247.44 L915.55,250.10 L916.70,250.64 L917.85,245.25 L919.00,245.98 L920.15,251.41 L921.30,251.11 L922.45,246.08 L923.60,245.05 L924.75,246.31 L925.90,246.64 L927.05,244.11 L928.20,247.87 L929.35,244.82 L930.50,244.98 L931.65,252.67 L932.80,246.21 L933.95,247.63 L935.10,249.27 L936.25,249.70 L937.40,247.01 L938.55,247.90 L939.70,245.88 L940.85,251.87 L942.00,249.31 L943.15,245.23 L944.30,247.81 L945.45,249.46 L946.60,248.92 L947.75,252.06 L948.90,251.00 L950.05,246.54 L951.20,248.95 L952.35,244.81 L953.50,248.38 L954.65,248.15 L955.80,254.10 L956.95,248.03 L958.10,242.92 L959.25,246.23 L960.40,248.06 L961.55,244.87 L962.70,245.78 L963.85,246.95 L965.00,248.60 L966.15,247.41 L967.30,245.73 L968.45,249.64 L969.60,246.54 L970.75,246.64 L971.90,247.03 L973.05,245.97 L974.20,249.32 L975.35,244.03 L976.50,247.63 L977.65,249.47 L978.80,246.92 L979.95,248.36 L981.10,245.20 L982.25,250.85 L983.40,250.37 L984.55,248.35 L985.70,243.71 L986.85,245.36 L988.00,250.08 L989.15,251.79 L990.30,248.49 L991.45,250.71 L992.60,246.38 L993.75,247.36 L994.90,243.80 L996.05,248.79 L997.20,244.24 L998.35,249.99 L999.50,250.88 L1000.65,245.12 L1001.80,244.64 L1002.95,248.62 L1004.10,246.27 L1005.25,242.27 L1006.40,249.68 L1007.55,248.16 L1008.70,246.69 L1009.85,252.73 L1011.00,248.12 L1012.15,246.04 L1013.30,248.04 L1014.45,245.38 L1015.60,246.02 L1016.75,248.70 L1017.90,246.51 L1019.05,246.75 L1020.20,251.69 L1021.35,249.80 L1022.50,249.67 L1023.65,249.03 L1024.80,248.93 L1025.95,251.20 L1027.10,247.75 L1028.25,252.13 L1029.40,245.58 L1030.55,247.21 L1031.70,244.59 L1032.85,247.00 L1034.00,249.01 L1035.15,251.18 L1036.30,246.25 L1037.45,247.81 L1038.60,246.96 L1039.75,246.08 L1040.90,245.03 L1042.05,247.94 L1043.20,243.76 L1044.35,248.06 L1045.50,247.85 L1046.65,246.27 L1047.80,245.44 L1048.95,244.57 L1050.10,252.16 L1051.25,244.67 L1052.40,251.43 L1053.55,249.20 L1054.70,246.95 L1055.85,245.10 L1057.00,250.23 L1058.15,251.83 L1059.30,245.62 L1060.45,247.10 L1061.60,250.25 L1062.75,248.58 L1063.90,252.46 L1065.05,246.47 L1066.20,249.06 L1067.35,244.88 L1068.50,252.69 L1069.65,246.10 L1070.80,242.65 L1071.95,247.51 L1073.10,247.48 L1074.25,252.26 L1075.40,247.01 L1076.55,247.77 L1077.70,249.18 L1078.85,251.50 L1080.00,247.65 L1081.15,250.22 L1082.30,249.01 L1083.45,247.11 L1084.60,247.98 L1085.75,247.87 L1086.90,245.66 L1088.05,250.63 L1089.20,244.57 L1090.35,250.53 L1091.50,250.02 L1092.65,247.58 L1093.80,246.02 L1094.95,247.27 L1096.10,248.90 L1097.25,249.53 L1098.40,248.47 L1099.55,250.11 L1100.70,246.50 L1101.85,248.35 L1103.00,244.14 L1104.15,249.58 L1105.30,248.16 L1106.45,246.83 L1107.60,250.51 L1108.75,249.41 L1109.90,241.24 L1111.05,247.89 L1112.20,244.41 L1113.35,250.29 L1114.50,253.60 L1115.65,246.59 L1116.80,247.97 L1117.95,247.21 L1119.10,248.62 L1120.25,249.30 L1121.40,250.80 L1122.55,245.50 L1123.70,256.59 L1124.85,245.63 L1126.00,248.45 L1127.15,250.50 L1128.30,249.46 L1129.45,245.61 L1130.60,246.16 L1131.75,246.72 L1132.90,247.68 L1134.05,250.47 L1135.20,244.79 L1136.35,248.89 L1137.50,249.22 L1138.65,249.10 L1139.80,248.89 L1140.95,251.34 L1142.10,248.94 L1143.25,249.80 L1144.40,249.11 L1145.55,247.71 L1146.70,243.37 L1147.85,250.79 L1149.00,247.19 L1150.15,247.15 L1151.30,245.54 L1152.45,243.44 L1153.60,246.91 L1154.75,246.20 L1155.90,248.95 L1157.05,244.37 L1158.20,251.14 L1159.35,248.43 L1160.50,247.22 L1161.65,246.15 L1162.80,245.97 L1163.95,245.17 L1165.10,251.87 L1166.25,247.81 L1167.40,247.39 L1168.55,244.50 L1169.70,247.18 L1170.85,245.72 L1172.00,248.17 L1173.15,252.15 L1174.30,249.26 L1175.45,247.07 L1176.60,244.01 L1177.75,244.50 L1178.90,243.87 L1180.05,249.49 L1181.20,246.02 L1182.35,247.95 L1183.50,246.35 L1184.65,248.01 L1185.80,251.07 L1186.95,246.20 L1188.10,247.01 L1189.25,245.92 L1190.40,249.84 L1191.55,245.41 L1192.70,245.16 L1193.85,244.57 L1195.00,244.52 L1196.15,248.90 L1197.30,253.79 L1198.45,245.48 L1199.60,250.02 L1200.75,248.39 L1201.90,245.23 L1203.05,247.16 L1204.20,247.26 L1205.35,246.19 L1206.50,252.30 L1207.65,243.36 L1208.80,248.69 L1209.95,248.57 L1211.10,246.45 L1212.25,248.15 L1213.40,249.85 L1214.55,248.16 L1215.70,248.77 L1216.85,249.42 L1218.00,243.06 L1219.15,251.25 L1220.30,253.11 L1221.45,250.09 L1222.60,250.16 L1223.75,244.52 L1224.90,247.52 L1226.05,245.91 L1227.20,246.43 L1228.35,250.05 L1229.50,245.93 L1230.65,247.50 L1231.80,243.35 L1232.95,247.43 L1234.10,248.01 L1235.25,246.16 L1236.40,246.12 L1237.55,252.20 L1238.70,244.98 L1239.85,245.35 L1241.00,245.91 L1242.15,250.59 L1243.30,252.70 L1244.45,248.57 L1245.60,246.13 L1246.75,246.80 L1247.90,250.28" fill="none" stroke="#3a2a6e" stroke-width="0.9" stroke-linejoin="round" stroke-linecap="round" opacity="0.85"/>
<path d="M878.75,246.81 L879.90,246.88 L881.05,247.37 L882.20,247.78 L883.35,245.10 L884.50,245.55 L885.65,248.46 L886.80,243.68 L887.95,245.79 L889.10,250.04 L890.25,241.71 L891.40,245.64 L892.55,248.34 L893.70,243.77 L894.85,252.08 L896.00,241.94 L897.15,249.81 L898.30,250.05 L899.45,244.14 L900.60,246.57 L901.75,247.70 L902.90,245.25 L904.05,248.58 L905.20,244.81 L906.35,246.46 L907.50,248.95 L908.65,244.82 L909.80,246.29 L910.95,247.32 L912.10,244.38 L913.25,249.28 L914.40,247.67 L915.55,244.04 L916.70,246.91 L917.85,245.48 L919.00,245.71 L920.15,247.15 L921.30,245.61 L922.45,248.89 L923.60,245.62 L924.75,248.92 L925.90,246.91 L927.05,248.67 L928.20,245.94 L929.35,246.01 L930.50,244.75 L931.65,248.13 L932.80,248.83 L933.95,251.14 L935.10,249.52 L936.25,247.49 L937.40,246.59 L938.55,247.76 L939.70,246.95 L940.85,249.86 L942.00,248.85 L943.15,245.36 L944.30,245.66 L945.45,249.67 L946.60,247.60 L947.75,246.55 L948.90,249.32 L950.05,246.24 L951.20,246.45 L952.35,246.10 L953.50,243.16 L954.65,248.69 L955.80,244.64 L956.95,245.89 L958.10,245.55 L959.25,248.42 L960.40,246.87 L961.55,247.03 L962.70,243.72 L963.85,246.83 L965.00,244.11 L966.15,247.60 L967.30,247.72 L968.45,246.97 L969.60,251.00 L970.75,248.03 L971.90,248.17 L973.05,247.28 L974.20,246.62 L975.35,248.89 L976.50,249.15 L977.65,244.46 L978.80,249.06 L979.95,248.00 L981.10,248.88 L982.25,247.91 L983.40,244.57 L984.55,244.71 L985.70,250.57 L986.85,247.49 L988.00,244.23 L989.15,247.68 L990.30,246.29 L991.45,243.40 L992.60,242.52 L993.75,243.87 L994.90,247.53 L996.05,246.91 L997.20,246.51 L998.35,247.56 L999.50,248.18 L1000.65,242.89 L1001.80,246.41 L1002.95,245.38 L1004.10,244.59 L1005.25,245.93 L1006.40,246.76 L1007.55,246.48 L1008.70,244.16 L1009.85,246.06 L1011.00,250.94 L1012.15,244.38 L1013.30,243.70 L1014.45,247.54 L1015.60,248.17 L1016.75,247.91 L1017.90,244.81 L1019.05,248.95 L1020.20,245.46 L1021.35,244.78 L1022.50,243.78 L1023.65,246.79 L1024.80,248.40 L1025.95,248.22 L1027.10,246.96 L1028.25,248.82 L1029.40,247.16 L1030.55,248.75 L1031.70,244.25 L1032.85,243.92 L1034.00,248.52 L1035.15,244.28 L1036.30,246.41 L1037.45,248.70 L1038.60,246.05 L1039.75,246.11 L1040.90,249.72 L1042.05,242.05 L1043.20,248.73 L1044.35,251.49 L1045.50,247.05 L1046.65,246.96 L1047.80,248.42 L1048.95,250.58 L1050.10,244.68 L1051.25,247.17 L1052.40,246.64 L1053.55,252.37 L1054.70,247.31 L1055.85,248.29 L1057.00,246.18 L1058.15,247.10 L1059.30,245.69 L1060.45,245.70 L1061.60,246.72 L1062.75,246.72 L1063.90,244.71 L1065.05,250.07 L1066.20,246.74 L1067.35,244.29 L1068.50,249.15 L1069.65,245.54 L1070.80,247.99 L1071.95,246.97 L1073.10,247.49 L1074.25,247.33 L1075.40,245.88 L1076.55,247.08 L1077.70,250.98 L1078.85,242.62 L1080.00,247.13 L1081.15,247.85 L1082.30,244.94 L1083.45,244.32 L1084.60,253.96 L1085.75,246.27 L1086.90,251.07 L1088.05,248.05 L1089.20,247.15 L1090.35,247.93 L1091.50,248.24 L1092.65,249.31 L1093.80,247.85 L1094.95,247.28 L1096.10,247.34 L1097.25,249.64 L1098.40,248.60 L1099.55,245.04 L1100.70,250.78 L1101.85,247.65 L1103.00,245.78 L1104.15,246.26 L1105.30,245.13 L1106.45,246.49 L1107.60,247.83 L1108.75,248.95 L1109.90,247.02 L1111.05,251.06 L1112.20,246.85 L1113.35,253.24 L1114.50,248.96 L1115.65,247.97 L1116.80,246.02 L1117.95,241.48 L1119.10,246.70 L1120.25,247.35 L1121.40,250.76 L1122.55,244.30 L1123.70,250.73 L1124.85,246.51 L1126.00,248.42 L1127.15,242.03 L1128.30,247.27 L1129.45,246.33 L1130.60,248.33 L1131.75,247.18 L1132.90,244.77 L1134.05,248.85 L1135.20,248.36 L1136.35,248.17 L1137.50,250.62 L1138.65,249.15 L1139.80,246.96 L1140.95,244.35 L1142.10,244.29 L1143.25,249.64 L1144.40,248.39 L1145.55,247.20 L1146.70,246.15 L1147.85,247.06 L1149.00,247.05 L1150.15,246.34 L1151.30,245.63 L1152.45,251.23 L1153.60,247.45 L1154.75,245.82 L1155.90,244.45 L1157.05,245.58 L1158.20,248.41 L1159.35,248.48 L1160.50,246.57 L1161.65,247.10 L1162.80,246.40 L1163.95,244.83 L1165.10,249.55 L1166.25,247.73 L1167.40,251.84 L1168.55,245.52 L1169.70,246.73 L1170.85,248.73 L1172.00,246.52 L1173.15,244.29 L1174.30,245.14 L1175.45,248.25 L1176.60,247.67 L1177.75,246.82 L1178.90,248.96 L1180.05,241.06 L1181.20,247.63 L1182.35,247.05 L1183.50,246.51 L1184.65,247.21 L1185.80,248.80 L1186.95,247.12 L1188.10,247.88 L1189.25,246.37 L1190.40,244.24 L1191.55,245.04 L1192.70,248.50 L1193.85,247.87 L1195.00,250.11 L1196.15,247.11 L1197.30,248.69 L1198.45,249.59 L1199.60,248.94 L1200.75,245.81 L1201.90,246.64 L1203.05,247.25 L1204.20,245.07 L1205.35,247.93 L1206.50,249.00 L1207.65,246.06 L1208.80,250.86 L1209.95,246.43 L1211.10,246.60 L1212.25,246.53 L1213.40,245.62 L1214.55,247.82 L1215.70,247.04 L1216.85,250.25 L1218.00,248.19 L1219.15,248.05 L1220.30,246.57 L1221.45,244.23 L1222.60,246.82 L1223.75,245.34 L1224.90,248.86 L1226.05,246.94 L1227.20,250.26 L1228.35,248.44 L1229.50,248.63 L1230.65,247.45 L1231.80,247.41 L1232.95,248.28 L1234.10,248.80 L1235.25,245.61 L1236.40,247.96 L1237.55,252.13 L1238.70,246.82 L1239.85,246.50 L1241.00,245.65 L1242.15,244.17 L1243.30,249.32 L1244.45,247.12 L1245.60,247.59 L1246.75,250.61 L1247.90,251.91" fill="none" stroke="#4b3080" stroke-width="0.9" stroke-linejoin="round" stroke-linecap="round" opacity="0.7"/>
<path d="M880.75,247.20 L1249.00,247.20" fill="none" stroke="#dc1f2e" stroke-width="1.8" stroke-linejoin="round" stroke-linecap="round" opacity="0.9"/>
<path d="M878.75,244.38 L879.90,246.96 L881.05,248.82 L882.20,250.21 L883.35,248.83 L884.50,248.05 L885.65,247.08 L886.80,246.08 L887.95,246.75 L889.10,247.94 L890.25,245.80 L891.40,248.43 L892.55,245.49 L893.70,244.28 L894.85,245.45 L896.00,244.45 L897.15,244.90 L898.30,248.73 L899.45,246.69 L900.60,247.33 L901.75,248.77 L902.90,248.93 L904.05,246.23 L905.20,249.03 L906.35,247.59 L907.50,247.01 L908.65,247.68 L909.80,244.82 L910.95,245.80 L912.10,246.83 L913.25,247.93 L914.40,246.43 L915.55,246.81 L916.70,248.48 L917.85,249.16 L919.00,251.54 L920.15,248.94 L921.30,246.38 L922.45,246.53 L923.60,247.49 L924.75,246.54 L925.90,246.22 L927.05,249.53 L928.20,246.69 L929.35,245.52 L930.50,247.75 L931.65,249.81 L932.80,247.12 L933.95,248.88 L935.10,246.33 L936.25,246.25 L937.40,245.94 L938.55,246.78 L939.70,249.81 L940.85,245.23 L942.00,249.50 L943.15,245.46 L944.30,246.64 L945.45,248.28 L946.60,247.96 L947.75,247.43 L948.90,244.48 L950.05,247.55 L951.20,245.44 L952.35,250.93 L953.50,246.67 L954.65,247.29 L955.80,245.25 L956.95,246.27 L958.10,245.03 L959.25,248.50 L960.40,246.60 L961.55,247.86 L962.70,245.95 L963.85,246.23 L965.00,248.97 L966.15,245.51 L967.30,244.24 L968.45,247.62 L969.60,245.25 L970.75,246.33 L971.90,248.39 L973.05,245.75 L974.20,248.34 L975.35,245.96 L976.50,249.28 L977.65,249.03 L978.80,246.28 L979.95,246.67 L981.10,245.73 L982.25,247.31 L983.40,248.76 L984.55,244.79 L985.70,248.40 L986.85,244.97 L988.00,245.69 L989.15,244.27 L990.30,250.22 L991.45,245.49 L992.60,247.37 L993.75,245.97 L994.90,248.63 L996.05,243.78 L997.20,244.63 L998.35,250.38 L999.50,246.42 L1000.65,247.03 L1001.80,248.03 L1002.95,245.76 L1004.10,247.03 L1005.25,248.47 L1006.40,247.30 L1007.55,247.57 L1008.70,246.47 L1009.85,247.48 L1011.00,247.09 L1012.15,249.23 L1013.30,248.11 L1014.45,246.63 L1015.60,243.26 L1016.75,248.09 L1017.90,248.16 L1019.05,245.60 L1020.20,243.94 L1021.35,245.25 L1022.50,248.42 L1023.65,245.37 L1024.80,246.30 L1025.95,247.34 L1027.10,248.87 L1028.25,246.97 L1029.40,246.85 L1030.55,246.16 L1031.70,249.49 L1032.85,248.63 L1034.00,246.85 L1035.15,244.86 L1036.30,245.79 L1037.45,247.89 L1038.60,245.90 L1039.75,248.36 L1040.90,247.55 L1042.05,247.45 L1043.20,248.00 L1044.35,247.76 L1045.50,245.69 L1046.65,245.89 L1047.80,250.58 L1048.95,245.15 L1050.10,246.27 L1051.25,248.63 L1052.40,246.76 L1053.55,245.76 L1054.70,244.98 L1055.85,247.82 L1057.00,248.56 L1058.15,249.14 L1059.30,247.08 L1060.45,248.60 L1061.60,245.42 L1062.75,247.26 L1063.90,245.96 L1065.05,247.27 L1066.20,248.15 L1067.35,248.64 L1068.50,245.49 L1069.65,248.94 L1070.80,246.27 L1071.95,248.65 L1073.10,246.74 L1074.25,244.76 L1075.40,247.01 L1076.55,247.44 L1077.70,246.69 L1078.85,247.82 L1080.00,246.52 L1081.15,247.01 L1082.30,244.80 L1083.45,247.07 L1084.60,245.70 L1085.75,246.31 L1086.90,246.86 L1088.05,247.29 L1089.20,244.48 L1090.35,244.61 L1091.50,246.54 L1092.65,247.73 L1093.80,247.55 L1094.95,248.37 L1096.10,248.99 L1097.25,247.76 L1098.40,246.97 L1099.55,245.42 L1100.70,245.55 L1101.85,246.29 L1103.00,247.41 L1104.15,247.34 L1105.30,247.01 L1106.45,246.77 L1107.60,247.96 L1108.75,247.32 L1109.90,247.46 L1111.05,247.47 L1112.20,246.16 L1113.35,245.42 L1114.50,247.75 L1115.65,247.64 L1116.80,246.66 L1117.95,246.36 L1119.10,250.48 L1120.25,245.84 L1121.40,246.67 L1122.55,247.41 L1123.70,245.23 L1124.85,247.18 L1126.00,249.75 L1127.15,248.43 L1128.30,247.97 L1129.45,247.91 L1130.60,247.17 L1131.75,248.47 L1132.90,246.76 L1134.05,246.35 L1135.20,247.16 L1136.35,248.39 L1137.50,247.51 L1138.65,248.03 L1139.80,243.90 L1140.95,248.82 L1142.10,250.58 L1143.25,249.04 L1144.40,246.51 L1145.55,245.70 L1146.70,247.42 L1147.85,245.49 L1149.00,248.11 L1150.15,246.20 L1151.30,248.47 L1152.45,249.08 L1153.60,245.37 L1154.75,247.45 L1155.90,245.93 L1157.05,244.84 L1158.20,246.06 L1159.35,246.67 L1160.50,248.58 L1161.65,244.67 L1162.80,248.61 L1163.95,250.09 L1165.10,247.91 L1166.25,247.84 L1167.40,246.98 L1168.55,245.20 L1169.70,247.82 L1170.85,247.59 L1172.00,248.12 L1173.15,250.93 L1174.30,248.11 L1175.45,247.65 L1176.60,249.39 L1177.75,244.94 L1178.90,245.25 L1180.05,246.43 L1181.20,246.00 L1182.35,248.06 L1183.50,246.51 L1184.65,249.66 L1185.80,249.33 L1186.95,248.18 L1188.10,246.41 L1189.25,247.94 L1190.40,248.24 L1191.55,245.37 L1192.70,247.53 L1193.85,248.08 L1195.00,247.33 L1196.15,249.40 L1197.30,248.86 L1198.45,245.74 L1199.60,247.19 L1200.75,245.72 L1201.90,247.89 L1203.05,245.67 L1204.20,248.41 L1205.35,247.59 L1206.50,248.48 L1207.65,246.78 L1208.80,244.77 L1209.95,249.70 L1211.10,246.74 L1212.25,249.11 L1213.40,246.04 L1214.55,248.03 L1215.70,249.80 L1216.85,247.52 L1218.00,249.14 L1219.15,244.73 L1220.30,248.33 L1221.45,246.63 L1222.60,246.79 L1223.75,247.01 L1224.90,247.53 L1226.05,249.53 L1227.20,244.16 L1228.35,247.07 L1229.50,245.90 L1230.65,248.78 L1231.80,246.35 L1232.95,247.70 L1234.10,246.39 L1235.25,248.02 L1236.40,248.55 L1237.55,246.39 L1238.70,247.08 L1239.85,244.83 L1241.00,247.47 L1242.15,248.31 L1243.30,246.15 L1244.45,248.71 L1245.60,243.83 L1246.75,244.17 L1247.90,244.88" fill="none" stroke="#e8202a" stroke-width="0.9" stroke-linejoin="round" stroke-linecap="round" opacity="0.9"/>
<path d="M878.75,245.43 L879.90,248.14 L881.05,247.85 L882.20,247.37 L883.35,246.91 L884.50,246.74 L885.65,245.44 L886.80,245.86 L887.95,247.32 L889.10,246.63 L890.25,248.63 L891.40,246.07 L892.55,243.65 L893.70,246.07 L894.85,246.79 L896.00,246.91 L897.15,246.55 L898.30,245.50 L899.45,248.22 L900.60,245.69 L901.75,247.30 L902.90,246.13 L904.05,245.06 L905.20,248.13 L906.35,243.52 L907.50,245.47 L908.65,246.98 L909.80,246.05 L910.95,247.35 L912.10,246.35 L913.25,245.94 L914.40,249.01 L915.55,246.21 L916.70,246.29 L917.85,245.20 L919.00,245.60 L920.15,247.23 L921.30,247.13 L922.45,246.48 L923.60,245.65 L924.75,247.28 L925.90,244.48 L927.05,246.08 L928.20,246.18 L929.35,245.49 L930.50,246.66 L931.65,245.70 L932.80,245.54 L933.95,248.59 L935.10,247.35 L936.25,247.89 L937.40,246.54 L938.55,247.61 L939.70,247.40 L940.85,247.91 L942.00,249.26 L943.15,246.22 L944.30,246.79 L945.45,246.43 L946.60,242.37 L947.75,244.85 L948.90,246.51 L950.05,247.23 L951.20,245.82 L952.35,247.82 L953.50,248.00 L954.65,246.01 L955.80,248.16 L956.95,248.55 L958.10,247.04 L959.25,245.34 L960.40,248.22 L961.55,246.30 L962.70,246.05 L963.85,246.63 L965.00,245.87 L966.15,247.75 L967.30,247.41 L968.45,247.93 L969.60,247.18 L970.75,245.57 L971.90,246.31 L973.05,247.53 L974.20,246.02 L975.35,249.92 L976.50,246.22 L977.65,245.81 L978.80,247.85 L979.95,247.38 L981.10,246.47 L982.25,246.23 L983.40,247.00 L984.55,247.48 L985.70,247.39 L986.85,246.15 L988.00,247.01 L989.15,247.49 L990.30,247.40 L991.45,242.88 L992.60,245.46 L993.75,245.59 L994.90,246.23 L996.05,246.71 L997.20,247.58 L998.35,247.22 L999.50,246.35 L1000.65,246.53 L1001.80,248.56 L1002.95,245.78 L1004.10,246.86 L1005.25,248.33 L1006.40,246.91 L1007.55,243.94 L1008.70,246.94 L1009.85,246.05 L1011.00,246.37 L1012.15,247.73 L1013.30,247.05 L1014.45,246.19 L1015.60,247.55 L1016.75,247.01 L1017.90,246.62 L1019.05,246.85 L1020.20,246.80 L1021.35,246.32 L1022.50,245.96 L1023.65,246.53 L1024.80,245.38 L1025.95,245.03 L1027.10,248.02 L1028.25,246.22 L1029.40,246.47 L1030.55,246.34 L1031.70,246.53 L1032.85,246.53 L1034.00,246.58 L1035.15,245.56 L1036.30,247.59 L1037.45,245.69 L1038.60,247.71 L1039.75,244.25 L1040.90,245.26 L1042.05,247.66 L1043.20,246.33 L1044.35,245.71 L1045.50,246.94 L1046.65,244.76 L1047.80,246.59 L1048.95,243.90 L1050.10,245.97 L1051.25,245.74 L1052.40,247.13 L1053.55,247.53 L1054.70,245.50 L1055.85,248.38 L1057.00,245.81 L1058.15,244.09 L1059.30,243.71 L1060.45,248.30 L1061.60,246.40 L1062.75,245.74 L1063.90,245.62 L1065.05,245.22 L1066.20,248.08 L1067.35,246.40 L1068.50,248.60 L1069.65,246.27 L1070.80,243.24 L1071.95,247.49 L1073.10,246.07 L1074.25,246.22 L1075.40,248.34 L1076.55,246.19 L1077.70,247.86 L1078.85,246.49 L1080.00,245.62 L1081.15,247.09 L1082.30,245.80 L1083.45,247.94 L1084.60,247.62 L1085.75,246.57 L1086.90,247.21 L1088.05,247.16 L1089.20,246.18 L1090.35,247.55 L1091.50,246.23 L1092.65,247.22 L1093.80,245.39 L1094.95,246.62 L1096.10,246.99 L1097.25,245.58 L1098.40,246.01 L1099.55,245.88 L1100.70,247.36 L1101.85,245.66 L1103.00,247.02 L1104.15,248.29 L1105.30,246.92 L1106.45,244.62 L1107.60,246.65 L1108.75,247.73 L1109.90,246.17 L1111.05,247.81 L1112.20,247.23 L1113.35,247.00 L1114.50,246.20 L1115.65,245.91 L1116.80,246.21 L1117.95,246.58 L1119.10,247.12 L1120.25,247.00 L1121.40,246.16 L1122.55,246.59 L1123.70,246.97 L1124.85,244.61 L1126.00,245.61 L1127.15,245.58 L1128.30,246.28 L1129.45,246.19 L1130.60,246.21 L1131.75,245.49 L1132.90,247.30 L1134.05,246.84 L1135.20,244.59 L1136.35,246.53 L1137.50,245.20 L1138.65,248.51 L1139.80,245.98 L1140.95,246.06 L1142.10,247.21 L1143.25,246.28 L1144.40,246.45 L1145.55,248.33 L1146.70,248.08 L1147.85,247.50 L1149.00,247.84 L1150.15,245.38 L1151.30,248.50 L1152.45,247.33 L1153.60,247.64 L1154.75,245.51 L1155.90,247.48 L1157.05,247.01 L1158.20,245.89 L1159.35,249.20 L1160.50,247.19 L1161.65,246.24 L1162.80,246.75 L1163.95,247.59 L1165.10,247.85 L1166.25,247.20 L1167.40,247.95 L1168.55,248.24 L1169.70,245.08 L1170.85,244.26 L1172.00,245.42 L1173.15,246.64 L1174.30,248.21 L1175.45,247.29 L1176.60,245.30 L1177.75,246.18 L1178.90,247.73 L1180.05,245.90 L1181.20,246.41 L1182.35,246.88 L1183.50,244.39 L1184.65,247.44 L1185.80,246.92 L1186.95,247.19 L1188.10,245.38 L1189.25,245.62 L1190.40,245.82 L1191.55,246.82 L1192.70,246.61 L1193.85,246.67 L1195.00,248.62 L1196.15,248.05 L1197.30,245.68 L1198.45,245.76 L1199.60,248.53 L1200.75,246.15 L1201.90,248.14 L1203.05,248.40 L1204.20,245.89 L1205.35,247.73 L1206.50,246.62 L1207.65,248.13 L1208.80,245.38 L1209.95,246.05 L1211.10,247.52 L1212.25,246.00 L1213.40,246.28 L1214.55,245.98 L1215.70,244.92 L1216.85,248.26 L1218.00,243.78 L1219.15,245.76 L1220.30,247.18 L1221.45,244.89 L1222.60,247.23 L1223.75,247.99 L1224.90,245.52 L1226.05,246.77 L1227.20,245.22 L1228.35,247.12 L1229.50,246.63 L1230.65,246.78 L1231.80,248.12 L1232.95,247.07 L1234.10,248.10 L1235.25,247.27 L1236.40,245.12 L1237.55,246.83 L1238.70,247.10 L1239.85,244.83 L1241.00,248.08 L1242.15,246.60 L1243.30,246.95 L1244.45,245.47 L1245.60,246.61 L1246.75,246.87 L1247.90,246.14" fill="none" stroke="#e8202a" stroke-width="0.9" stroke-linejoin="round" stroke-linecap="round" opacity="0.8"/>
<path d="M878.75,245.53 L879.90,243.74 L881.05,223.21 L882.20,228.08 L883.35,216.73 L884.50,205.98 L885.65,197.29 L886.80,188.41 L887.95,181.94 L889.10,174.70 L890.25,169.41 L891.40,164.14 L892.55,167.78 L893.70,157.34 L894.85,159.46 L896.00,160.16 L897.15,155.25 L898.30,158.74 L899.45,157.51 L900.60,154.96 L901.75,156.77 L902.90,152.69 L904.05,148.87 L905.20,151.41 L906.35,148.93 L907.50,145.80 L908.65,146.09 L909.80,152.19 L910.95,145.38 L912.10,146.55 L913.25,144.01 L914.40,144.68 L915.55,145.00 L916.70,143.88 L917.85,142.87 L919.00,142.45 L920.15,144.10 L921.30,146.30 L922.45,148.88 L923.60,146.30 L924.75,146.26 L925.90,143.53 L927.05,142.77 L928.20,141.14 L929.35,144.10 L930.50,139.68 L931.65,143.31 L932.80,146.42 L933.95,143.74 L935.10,145.47 L936.25,142.54 L937.40,140.21 L938.55,140.82 L939.70,140.06 L940.85,142.83 L942.00,143.25 L943.15,138.35 L944.30,139.56 L945.45,139.42 L946.60,139.53 L947.75,138.69 L948.90,141.63 L950.05,142.17 L951.20,143.25 L952.35,139.73 L953.50,140.54 L954.65,138.60 L955.80,142.62 L956.95,137.90 L958.10,139.25 L959.25,137.52 L960.40,136.93 L961.55,135.98 L962.70,135.50 L963.85,142.36 L965.00,139.81 L966.15,140.45 L967.30,142.99 L968.45,138.88 L969.60,140.03 L970.75,138.21 L971.90,140.84 L973.05,138.96 L974.20,138.58 L975.35,136.86 L976.50,138.65 L977.65,145.33 L978.80,143.12 L979.95,150.54 L981.10,153.23 L982.25,155.89 L983.40,155.27 L984.55,163.66 L985.70,163.08 L986.85,166.27 L988.00,167.53 L989.15,166.09 L990.30,168.56 L991.45,167.45 L992.60,169.68 L993.75,172.30 L994.90,174.81 L996.05,176.28 L997.20,177.08 L998.35,183.08 L999.50,180.92 L1000.65,177.57 L1001.80,179.38 L1002.95,180.14 L1004.10,182.23 L1005.25,183.06 L1006.40,184.88 L1007.55,190.40 L1008.70,187.82 L1009.85,187.25 L1011.00,187.20 L1012.15,187.56 L1013.30,190.76 L1014.45,190.55 L1015.60,191.43 L1016.75,183.89 L1017.90,191.89 L1019.05,192.99 L1020.20,195.75 L1021.35,192.22 L1022.50,188.84 L1023.65,193.31 L1024.80,191.91 L1025.95,189.94 L1027.10,192.70 L1028.25,197.34 L1029.40,197.62 L1030.55,197.55 L1031.70,194.49 L1032.85,201.88 L1034.00,195.59 L1035.15,198.11 L1036.30,195.68 L1037.45,201.00 L1038.60,199.27 L1039.75,200.55 L1040.90,200.24 L1042.05,201.25 L1043.20,202.32 L1044.35,198.62 L1045.50,203.60 L1046.65,202.26 L1047.80,199.91 L1048.95,200.70 L1050.10,201.75 L1051.25,204.87 L1052.40,203.69 L1053.55,203.24 L1054.70,202.48 L1055.85,202.87 L1057.00,204.86 L1058.15,206.79 L1059.30,207.66 L1060.45,207.19 L1061.60,209.56 L1062.75,208.72 L1063.90,207.81 L1065.05,209.22 L1066.20,207.51 L1067.35,208.84 L1068.50,210.04 L1069.65,205.75 L1070.80,212.46 L1071.95,207.36 L1073.10,213.15 L1074.25,212.37 L1075.40,215.81 L1076.55,213.51 L1077.70,211.49 L1078.85,216.05 L1080.00,213.39 L1081.15,213.66 L1082.30,213.59 L1083.45,214.99 L1084.60,214.54 L1085.75,213.55 L1086.90,209.81 L1088.05,212.86 L1089.20,213.94 L1090.35,218.83 L1091.50,217.89 L1092.65,217.58 L1093.80,221.07 L1094.95,217.49 L1096.10,217.70 L1097.25,217.90 L1098.40,215.27 L1099.55,220.33 L1100.70,219.47 L1101.85,217.86 L1103.00,216.21 L1104.15,218.66 L1105.30,220.43 L1106.45,217.28 L1107.60,216.43 L1108.75,220.23 L1109.90,217.18 L1111.05,215.92 L1112.20,220.49 L1113.35,219.30 L1114.50,220.25 L1115.65,220.22 L1116.80,220.86 L1117.95,220.54 L1119.10,220.17 L1120.25,219.92 L1121.40,222.74 L1122.55,224.52 L1123.70,224.05 L1124.85,224.61 L1126.00,216.81 L1127.15,221.43 L1128.30,223.68 L1129.45,224.85 L1130.60,220.82 L1131.75,227.20 L1132.90,224.71 L1134.05,222.49 L1135.20,225.97 L1136.35,224.01 L1137.50,224.27 L1138.65,227.10 L1139.80,225.48 L1140.95,224.60 L1142.10,224.79 L1143.25,226.36 L1144.40,224.04 L1145.55,229.14 L1146.70,225.82 L1147.85,231.16 L1149.00,229.71 L1150.15,226.36 L1151.30,228.01 L1152.45,230.25 L1153.60,227.02 L1154.75,225.21 L1155.90,228.48 L1157.05,232.42 L1158.20,225.52 L1159.35,229.97 L1160.50,227.93 L1161.65,228.31 L1162.80,228.20 L1163.95,227.06 L1165.10,230.71 L1166.25,229.83 L1167.40,227.91 L1168.55,235.05 L1169.70,229.41 L1170.85,234.02 L1172.00,233.04 L1173.15,233.85 L1174.30,232.01 L1175.45,233.82 L1176.60,231.16 L1177.75,233.51 L1178.90,232.69 L1180.05,235.56 L1181.20,229.96 L1182.35,234.21 L1183.50,233.65 L1184.65,233.10 L1185.80,231.40 L1186.95,233.20 L1188.10,228.22 L1189.25,228.43 L1190.40,233.93 L1191.55,230.67 L1192.70,237.60 L1193.85,234.14 L1195.00,235.09 L1196.15,232.68 L1197.30,232.97 L1198.45,232.95 L1199.60,232.88 L1200.75,233.89 L1201.90,235.87 L1203.05,235.84 L1204.20,235.85 L1205.35,234.55 L1206.50,234.54 L1207.65,231.04 L1208.80,234.85 L1209.95,236.02 L1211.10,233.17 L1212.25,235.46 L1213.40,236.81 L1214.55,234.29 L1215.70,236.22 L1216.85,235.63 L1218.00,232.20 L1219.15,235.20 L1220.30,235.63 L1221.45,236.97 L1222.60,233.50 L1223.75,233.40 L1224.90,232.99 L1226.05,236.70 L1227.20,237.35 L1228.35,239.27 L1229.50,238.83 L1230.65,236.44 L1231.80,236.96 L1232.95,237.32 L1234.10,236.49 L1235.25,239.05 L1236.40,231.92 L1237.55,237.32 L1238.70,239.07 L1239.85,240.79 L1241.00,236.27 L1242.15,238.95 L1243.30,240.37 L1244.45,237.63 L1245.60,234.78 L1246.75,237.85 L1247.90,235.70" fill="none" stroke="#b4557d" stroke-width="0.85" stroke-linejoin="round" stroke-linecap="round" opacity="0.75"/>
<path d="M878.75,246.28 L879.90,245.99 L881.05,225.59 L882.20,239.26 L883.35,236.22 L884.50,232.45 L885.65,232.63 L886.80,223.60 L887.95,223.00 L889.10,218.61 L890.25,222.13 L891.40,216.10 L892.55,212.55 L893.70,213.82 L894.85,209.53 L896.00,205.07 L897.15,208.95 L898.30,204.89 L899.45,204.13 L900.60,202.68 L901.75,200.42 L902.90,197.95 L904.05,193.70 L905.20,196.49 L906.35,193.21 L907.50,192.38 L908.65,190.40 L909.80,187.91 L910.95,186.80 L912.10,190.87 L913.25,192.52 L914.40,187.69 L915.55,186.89 L916.70,189.37 L917.85,182.91 L919.00,182.87 L920.15,181.39 L921.30,186.27 L922.45,182.77 L923.60,181.83 L924.75,178.27 L925.90,180.76 L927.05,183.29 L928.20,179.22 L929.35,178.24 L930.50,180.00 L931.65,175.50 L932.80,177.84 L933.95,179.15 L935.10,176.38 L936.25,175.39 L937.40,179.35 L938.55,179.52 L939.70,179.93 L940.85,180.63 L942.00,180.79 L943.15,176.72 L944.30,176.32 L945.45,179.41 L946.60,180.10 L947.75,181.32 L948.90,176.23 L950.05,180.98 L951.20,179.64 L952.35,176.46 L953.50,177.67 L954.65,179.90 L955.80,181.91 L956.95,175.19 L958.10,178.53 L959.25,174.96 L960.40,175.69 L961.55,179.30 L962.70,177.77 L963.85,173.08 L965.00,175.34 L966.15,176.39 L967.30,173.62 L968.45,179.47 L969.60,176.13 L970.75,176.77 L971.90,176.50 L973.05,179.66 L974.20,175.57 L975.35,174.88 L976.50,180.12 L977.65,178.31 L978.80,180.80 L979.95,179.52 L981.10,188.04 L982.25,187.09 L983.40,189.16 L984.55,190.94 L985.70,190.81 L986.85,189.75 L988.00,191.30 L989.15,195.11 L990.30,196.62 L991.45,202.47 L992.60,198.01 L993.75,198.80 L994.90,198.87 L996.05,204.84 L997.20,198.81 L998.35,206.13 L999.50,206.91 L1000.65,204.60 L1001.80,206.75 L1002.95,199.43 L1004.10,205.23 L1005.25,201.81 L1006.40,206.40 L1007.55,207.18 L1008.70,206.36 L1009.85,211.36 L1011.00,210.12 L1012.15,209.55 L1013.30,210.21 L1014.45,208.95 L1015.60,212.79 L1016.75,216.94 L1017.90,209.93 L1019.05,212.23 L1020.20,211.98 L1021.35,216.11 L1022.50,215.70 L1023.65,214.39 L1024.80,209.35 L1025.95,212.19 L1027.10,216.61 L1028.25,213.93 L1029.40,216.78 L1030.55,215.12 L1031.70,212.04 L1032.85,219.04 L1034.00,219.14 L1035.15,216.40 L1036.30,217.04 L1037.45,218.92 L1038.60,216.83 L1039.75,220.07 L1040.90,218.79 L1042.05,213.14 L1043.20,219.30 L1044.35,217.91 L1045.50,217.67 L1046.65,221.28 L1047.80,219.90 L1048.95,223.77 L1050.10,226.06 L1051.25,223.17 L1052.40,218.36 L1053.55,220.58 L1054.70,223.49 L1055.85,221.06 L1057.00,218.99 L1058.15,220.11 L1059.30,222.07 L1060.45,220.96 L1061.60,223.68 L1062.75,220.10 L1063.90,221.87 L1065.05,222.74 L1066.20,222.66 L1067.35,219.22 L1068.50,223.86 L1069.65,221.67 L1070.80,228.13 L1071.95,227.51 L1073.10,228.12 L1074.25,225.87 L1075.40,223.38 L1076.55,227.48 L1077.70,226.06 L1078.85,228.33 L1080.00,225.13 L1081.15,225.73 L1082.30,229.09 L1083.45,233.57 L1084.60,229.83 L1085.75,236.25 L1086.90,235.55 L1088.05,224.78 L1089.20,227.78 L1090.35,225.33 L1091.50,227.37 L1092.65,226.18 L1093.80,227.67 L1094.95,230.46 L1096.10,229.76 L1097.25,228.83 L1098.40,228.85 L1099.55,228.67 L1100.70,230.36 L1101.85,230.61 L1103.00,229.10 L1104.15,230.15 L1105.30,224.95 L1106.45,230.93 L1107.60,234.38 L1108.75,231.06 L1109.90,227.32 L1111.05,234.67 L1112.20,229.36 L1113.35,224.50 L1114.50,231.37 L1115.65,232.18 L1116.80,231.43 L1117.95,232.83 L1119.10,232.50 L1120.25,233.15 L1121.40,227.43 L1122.55,228.88 L1123.70,231.84 L1124.85,233.02 L1126.00,230.27 L1127.15,231.66 L1128.30,233.85 L1129.45,228.22 L1130.60,228.56 L1131.75,234.86 L1132.90,236.70 L1134.05,235.52 L1135.20,229.84 L1136.35,233.49 L1137.50,230.01 L1138.65,233.60 L1139.80,232.09 L1140.95,233.09 L1142.10,234.52 L1143.25,231.81 L1144.40,236.19 L1145.55,237.61 L1146.70,235.70 L1147.85,239.31 L1149.00,234.44 L1150.15,238.45 L1151.30,236.97 L1152.45,233.11 L1153.60,235.59 L1154.75,233.98 L1155.90,234.78 L1157.05,237.40 L1158.20,240.24 L1159.35,237.19 L1160.50,236.60 L1161.65,231.54 L1162.80,234.82 L1163.95,238.31 L1165.10,238.47 L1166.25,237.84 L1167.40,236.37 L1168.55,234.41 L1169.70,237.45 L1170.85,235.29 L1172.00,233.80 L1173.15,239.79 L1174.30,234.31 L1175.45,239.81 L1176.60,231.72 L1177.75,235.14 L1178.90,231.96 L1180.05,235.67 L1181.20,234.17 L1182.35,237.20 L1183.50,236.33 L1184.65,235.77 L1185.80,237.03 L1186.95,239.15 L1188.10,234.61 L1189.25,238.54 L1190.40,237.07 L1191.55,237.87 L1192.70,243.49 L1193.85,234.04 L1195.00,237.76 L1196.15,235.55 L1197.30,240.20 L1198.45,239.35 L1199.60,250.76 L1200.75,240.35 L1201.90,243.51 L1203.05,242.32 L1204.20,236.02 L1205.35,240.48 L1206.50,243.19 L1207.65,240.40 L1208.80,242.53 L1209.95,242.79 L1211.10,236.82 L1212.25,237.50 L1213.40,239.57 L1214.55,240.42 L1215.70,237.09 L1216.85,238.93 L1218.00,240.07 L1219.15,240.01 L1220.30,243.91 L1221.45,243.90 L1222.60,242.80 L1223.75,238.44 L1224.90,237.06 L1226.05,238.33 L1227.20,234.82 L1228.35,239.14 L1229.50,237.10 L1230.65,237.36 L1231.80,241.13 L1232.95,238.38 L1234.10,238.43 L1235.25,239.70 L1236.40,241.32 L1237.55,248.45 L1238.70,237.49 L1239.85,241.41 L1241.00,240.76 L1242.15,243.02 L1243.30,239.90 L1244.45,236.00 L1245.60,244.49 L1246.75,239.92 L1247.90,241.07" fill="none" stroke="#3db58f" stroke-width="0.85" stroke-linejoin="round" stroke-linecap="round" opacity="0.75"/>
<path d="M878.75,243.92 L879.90,243.70 L881.05,236.09 L882.20,239.53 L883.35,240.28 L884.50,235.94 L885.65,229.13 L886.80,231.47 L887.95,226.35 L889.10,222.94 L890.25,226.17 L891.40,226.16 L892.55,227.42 L893.70,222.23 L894.85,225.22 L896.00,223.69 L897.15,223.09 L898.30,225.05 L899.45,223.28 L900.60,221.30 L901.75,223.73 L902.90,223.91 L904.05,220.99 L905.20,219.50 L906.35,216.08 L907.50,219.54 L908.65,218.14 L909.80,213.64 L910.95,215.80 L912.10,216.44 L913.25,215.01 L914.40,216.81 L915.55,217.21 L916.70,213.10 L917.85,214.17 L919.00,216.31 L920.15,215.89 L921.30,216.73 L922.45,210.25 L923.60,213.30 L924.75,215.28 L925.90,215.02 L927.05,215.63 L928.20,209.96 L929.35,210.45 L930.50,209.24 L931.65,212.26 L932.80,207.50 L933.95,212.04 L935.10,211.39 L936.25,210.99 L937.40,205.12 L938.55,208.45 L939.70,212.61 L940.85,207.34 L942.00,209.34 L943.15,209.30 L944.30,210.33 L945.45,208.68 L946.60,208.91 L947.75,207.06 L948.90,207.20 L950.05,206.75 L951.20,208.37 L952.35,206.59 L953.50,208.36 L954.65,202.75 L955.80,207.63 L956.95,204.14 L958.10,207.64 L959.25,203.95 L960.40,206.50 L961.55,208.01 L962.70,202.52 L963.85,204.88 L965.00,204.11 L966.15,204.66 L967.30,200.98 L968.45,204.24 L969.60,203.99 L970.75,202.98 L971.90,203.78 L973.05,199.78 L974.20,205.22 L975.35,203.44 L976.50,207.73 L977.65,204.85 L978.80,207.26 L979.95,211.46 L981.10,208.11 L982.25,212.96 L983.40,212.23 L984.55,212.92 L985.70,215.30 L986.85,215.97 L988.00,219.46 L989.15,219.76 L990.30,216.60 L991.45,222.12 L992.60,217.04 L993.75,219.50 L994.90,216.18 L996.05,217.06 L997.20,222.61 L998.35,218.40 L999.50,219.09 L1000.65,220.46 L1001.80,221.77 L1002.95,226.23 L1004.10,219.50 L1005.25,219.38 L1006.40,223.60 L1007.55,218.99 L1008.70,222.71 L1009.85,225.98 L1011.00,222.80 L1012.15,222.57 L1013.30,222.02 L1014.45,220.99 L1015.60,222.40 L1016.75,222.99 L1017.90,226.22 L1019.05,226.66 L1020.20,222.90 L1021.35,224.08 L1022.50,227.09 L1023.65,221.94 L1024.80,225.97 L1025.95,225.70 L1027.10,224.26 L1028.25,223.52 L1029.40,226.14 L1030.55,221.89 L1031.70,224.87 L1032.85,227.14 L1034.00,228.56 L1035.15,226.50 L1036.30,231.22 L1037.45,227.68 L1038.60,228.98 L1039.75,228.96 L1040.90,228.06 L1042.05,227.66 L1043.20,232.27 L1044.35,229.47 L1045.50,229.40 L1046.65,232.07 L1047.80,228.13 L1048.95,231.28 L1050.10,230.22 L1051.25,228.96 L1052.40,233.23 L1053.55,228.56 L1054.70,233.58 L1055.85,230.08 L1057.00,233.17 L1058.15,236.51 L1059.30,234.04 L1060.45,231.53 L1061.60,232.28 L1062.75,230.61 L1063.90,230.62 L1065.05,231.50 L1066.20,233.49 L1067.35,235.40 L1068.50,229.24 L1069.65,233.13 L1070.80,235.52 L1071.95,234.49 L1073.10,232.63 L1074.25,236.73 L1075.40,232.02 L1076.55,236.13 L1077.70,238.15 L1078.85,230.56 L1080.00,234.99 L1081.15,235.36 L1082.30,235.32 L1083.45,232.79 L1084.60,234.90 L1085.75,232.01 L1086.90,235.27 L1088.05,236.07 L1089.20,233.52 L1090.35,233.53 L1091.50,234.84 L1092.65,236.62 L1093.80,235.73 L1094.95,235.99 L1096.10,236.05 L1097.25,232.87 L1098.40,230.75 L1099.55,238.21 L1100.70,240.84 L1101.85,235.97 L1103.00,237.84 L1104.15,239.32 L1105.30,240.15 L1106.45,239.00 L1107.60,241.22 L1108.75,238.92 L1109.90,239.98 L1111.05,239.87 L1112.20,237.44 L1113.35,240.86 L1114.50,239.63 L1115.65,238.97 L1116.80,235.72 L1117.95,239.39 L1119.10,235.55 L1120.25,238.91 L1121.40,232.88 L1122.55,234.83 L1123.70,239.59 L1124.85,238.44 L1126.00,239.21 L1127.15,236.89 L1128.30,242.24 L1129.45,240.49 L1130.60,239.91 L1131.75,239.87 L1132.90,240.54 L1134.05,241.91 L1135.20,240.14 L1136.35,237.30 L1137.50,239.05 L1138.65,242.15 L1139.80,240.85 L1140.95,239.57 L1142.10,241.71 L1143.25,242.60 L1144.40,242.94 L1145.55,237.44 L1146.70,239.60 L1147.85,241.97 L1149.00,240.83 L1150.15,242.32 L1151.30,244.86 L1152.45,241.37 L1153.60,242.31 L1154.75,240.01 L1155.90,240.73 L1157.05,240.35 L1158.20,237.03 L1159.35,236.51 L1160.50,244.27 L1161.65,241.37 L1162.80,243.58 L1163.95,241.76 L1165.10,241.69 L1166.25,244.39 L1167.40,244.55 L1168.55,240.49 L1169.70,245.75 L1170.85,239.55 L1172.00,243.27 L1173.15,247.97 L1174.30,242.25 L1175.45,245.91 L1176.60,241.50 L1177.75,242.87 L1178.90,242.95 L1180.05,244.32 L1181.20,240.96 L1182.35,242.27 L1183.50,245.18 L1184.65,241.15 L1185.80,242.97 L1186.95,246.44 L1188.10,243.68 L1189.25,242.32 L1190.40,241.69 L1191.55,243.29 L1192.70,241.22 L1193.85,242.05 L1195.00,241.98 L1196.15,246.51 L1197.30,241.97 L1198.45,240.35 L1199.60,244.01 L1200.75,243.73 L1201.90,244.19 L1203.05,239.49 L1204.20,245.59 L1205.35,243.61 L1206.50,243.47 L1207.65,241.19 L1208.80,245.25 L1209.95,243.84 L1211.10,246.11 L1212.25,241.61 L1213.40,239.94 L1214.55,243.50 L1215.70,242.50 L1216.85,245.69 L1218.00,243.93 L1219.15,246.03 L1220.30,245.84 L1221.45,245.63 L1222.60,242.86 L1223.75,241.47 L1224.90,242.51 L1226.05,241.46 L1227.20,243.67 L1228.35,241.92 L1229.50,238.78 L1230.65,243.16 L1231.80,246.05 L1232.95,245.00 L1234.10,243.96 L1235.25,244.80 L1236.40,243.75 L1237.55,241.48 L1238.70,246.33 L1239.85,246.11 L1241.00,243.59 L1242.15,244.25 L1243.30,244.83 L1244.45,243.82 L1245.60,244.99 L1246.75,244.02 L1247.90,245.50" fill="none" stroke="#7f7f9c" stroke-width="0.85" stroke-linejoin="round" stroke-linecap="round" opacity="0.7"/>
<path d="M878.75,251.28 L879.90,248.01 L881.05,237.78 L882.20,245.27 L883.35,247.42 L884.50,242.34 L885.65,245.23 L886.80,243.07 L887.95,241.77 L889.10,240.88 L890.25,243.13 L891.40,244.82 L892.55,241.66 L893.70,242.86 L894.85,244.53 L896.00,241.33 L897.15,240.31 L898.30,238.31 L899.45,239.54 L900.60,238.57 L901.75,238.39 L902.90,237.92 L904.05,236.32 L905.20,236.48 L906.35,236.53 L907.50,238.35 L908.65,236.68 L909.80,235.72 L910.95,237.47 L912.10,237.32 L913.25,234.76 L914.40,235.23 L915.55,237.23 L916.70,236.24 L917.85,234.44 L919.00,235.57 L920.15,235.04 L921.30,237.05 L922.45,234.09 L923.60,236.46 L924.75,236.30 L925.90,234.33 L927.05,237.47 L928.20,237.88 L929.35,233.97 L930.50,238.41 L931.65,233.58 L932.80,234.52 L933.95,235.61 L935.10,237.71 L936.25,237.16 L937.40,235.25 L938.55,237.90 L939.70,236.13 L940.85,238.16 L942.00,240.52 L943.15,235.85 L944.30,232.04 L945.45,234.88 L946.60,233.59 L947.75,234.81 L948.90,235.20 L950.05,233.17 L951.20,233.09 L952.35,235.21 L953.50,234.03 L954.65,230.20 L955.80,235.27 L956.95,233.26 L958.10,233.21 L959.25,233.87 L960.40,232.08 L961.55,233.30 L962.70,234.97 L963.85,234.75 L965.00,233.63 L966.15,233.08 L967.30,232.61 L968.45,235.98 L969.60,234.47 L970.75,232.84 L971.90,229.36 L973.05,231.36 L974.20,230.20 L975.35,234.64 L976.50,233.32 L977.65,232.16 L978.80,234.25 L979.95,239.33 L981.10,237.92 L982.25,235.05 L983.40,236.68 L984.55,235.86 L985.70,235.03 L986.85,237.46 L988.00,242.37 L989.15,240.88 L990.30,239.13 L991.45,239.20 L992.60,239.39 L993.75,240.43 L994.90,236.96 L996.05,236.42 L997.20,242.29 L998.35,240.49 L999.50,242.38 L1000.65,240.06 L1001.80,240.90 L1002.95,238.08 L1004.10,239.56 L1005.25,241.51 L1006.40,242.41 L1007.55,239.65 L1008.70,242.69 L1009.85,240.42 L1011.00,238.94 L1012.15,242.26 L1013.30,243.29 L1014.45,243.13 L1015.60,239.53 L1016.75,242.41 L1017.90,242.26 L1019.05,240.23 L1020.20,236.79 L1021.35,243.20 L1022.50,243.51 L1023.65,243.59 L1024.80,240.34 L1025.95,240.74 L1027.10,243.79 L1028.25,242.53 L1029.40,242.40 L1030.55,241.20 L1031.70,242.91 L1032.85,241.62 L1034.00,241.76 L1035.15,240.61 L1036.30,242.59 L1037.45,241.84 L1038.60,244.55 L1039.75,244.80 L1040.90,242.79 L1042.05,246.10 L1043.20,241.02 L1044.35,243.11 L1045.50,243.44 L1046.65,244.93 L1047.80,239.96 L1048.95,245.11 L1050.10,245.80 L1051.25,246.28 L1052.40,240.11 L1053.55,242.52 L1054.70,243.79 L1055.85,242.98 L1057.00,246.55 L1058.15,243.66 L1059.30,246.67 L1060.45,245.26 L1061.60,241.18 L1062.75,241.81 L1063.90,241.35 L1065.05,242.66 L1066.20,244.87 L1067.35,243.08 L1068.50,245.81 L1069.65,242.17 L1070.80,239.48 L1071.95,244.17 L1073.10,246.42 L1074.25,245.01 L1075.40,244.41 L1076.55,246.53 L1077.70,248.20 L1078.85,244.83 L1080.00,243.54 L1081.15,243.61 L1082.30,247.38 L1083.45,244.02 L1084.60,245.32 L1085.75,245.56 L1086.90,245.96 L1088.05,242.65 L1089.20,245.58 L1090.35,246.10 L1091.50,246.18 L1092.65,247.51 L1093.80,244.59 L1094.95,245.15 L1096.10,244.12 L1097.25,246.54 L1098.40,243.77 L1099.55,245.51 L1100.70,242.24 L1101.85,243.54 L1103.00,244.20 L1104.15,244.67 L1105.30,246.15 L1106.45,245.54 L1107.60,245.09 L1108.75,242.12 L1109.90,247.31 L1111.05,244.39 L1112.20,245.28 L1113.35,243.77 L1114.50,246.68 L1115.65,243.53 L1116.80,245.49 L1117.95,246.88 L1119.10,246.86 L1120.25,246.25 L1121.40,246.16 L1122.55,243.78 L1123.70,248.65 L1124.85,249.18 L1126.00,247.80 L1127.15,247.65 L1128.30,246.55 L1129.45,245.95 L1130.60,248.30 L1131.75,247.88 L1132.90,243.83 L1134.05,245.92 L1135.20,245.05 L1136.35,246.79 L1137.50,245.34 L1138.65,245.94 L1139.80,246.20 L1140.95,245.90 L1142.10,242.88 L1143.25,247.64 L1144.40,246.51 L1145.55,244.53 L1146.70,246.94 L1147.85,242.67 L1149.00,246.02 L1150.15,247.78 L1151.30,244.84 L1152.45,248.55 L1153.60,247.93 L1154.75,247.18 L1155.90,244.10 L1157.05,246.82 L1158.20,245.69 L1159.35,246.73 L1160.50,245.32 L1161.65,246.93 L1162.80,245.67 L1163.95,246.82 L1165.10,247.55 L1166.25,244.96 L1167.40,246.18 L1168.55,245.17 L1169.70,245.80 L1170.85,244.37 L1172.00,245.92 L1173.15,247.27 L1174.30,245.01 L1175.45,246.60 L1176.60,246.62 L1177.75,243.69 L1178.90,245.77 L1180.05,247.38 L1181.20,244.93 L1182.35,243.12 L1183.50,246.41 L1184.65,244.80 L1185.80,248.78 L1186.95,246.21 L1188.10,246.13 L1189.25,245.53 L1190.40,246.75 L1191.55,244.79 L1192.70,245.10 L1193.85,246.37 L1195.00,245.57 L1196.15,248.89 L1197.30,244.54 L1198.45,246.11 L1199.60,244.41 L1200.75,243.10 L1201.90,247.78 L1203.05,241.90 L1204.20,248.39 L1205.35,244.22 L1206.50,247.05 L1207.65,250.98 L1208.80,242.92 L1209.95,244.13 L1211.10,248.13 L1212.25,245.89 L1213.40,245.20 L1214.55,246.05 L1215.70,245.07 L1216.85,247.20 L1218.00,249.82 L1219.15,246.94 L1220.30,247.68 L1221.45,249.65 L1222.60,251.39 L1223.75,247.19 L1224.90,248.26 L1226.05,246.28 L1227.20,245.77 L1228.35,245.90 L1229.50,245.81 L1230.65,243.78 L1231.80,242.98 L1232.95,245.28 L1234.10,246.10 L1235.25,247.97 L1236.40,244.76 L1237.55,245.50 L1238.70,247.02 L1239.85,247.19 L1241.00,246.86 L1242.15,246.73 L1243.30,249.46 L1244.45,246.87 L1245.60,246.27 L1246.75,244.81 L1247.90,249.00" fill="none" stroke="#b5c9ea" stroke-width="0.85" stroke-linejoin="round" stroke-linecap="round" opacity="0.8"/>
<path d="M880.75,247.00 L881.75,237.96 L882.75,229.71 L883.75,222.18 L884.75,215.29 L885.75,209.01 L886.75,203.28 L887.75,198.04 L888.75,193.26 L889.75,188.89 L890.75,184.90 L891.75,181.26 L892.75,177.93 L893.75,174.90 L894.75,172.13 L895.75,169.60 L896.75,167.28 L897.75,165.17 L898.75,163.25 L899.75,161.49 L900.75,159.88 L901.75,158.41 L902.75,157.07 L903.75,155.85 L904.75,154.73 L905.75,153.72 L906.75,152.78 L907.75,151.93 L908.75,151.16 L909.75,150.45 L910.75,149.80 L911.75,149.21 L912.75,148.67 L913.75,148.18 L914.75,147.73 L915.75,147.32 L916.75,146.94 L917.75,146.60 L918.75,146.29 L919.75,146.00 L920.75,145.74 L921.75,145.50 L922.75,145.28 L923.75,145.09 L924.75,144.90 L925.75,144.74 L926.75,144.59 L927.75,144.45 L928.75,144.32 L929.75,144.21 L930.75,144.10 L931.75,144.01 L932.75,143.92 L933.75,143.84 L934.75,143.77 L935.75,143.70 L936.75,143.64 L937.75,143.58 L938.75,143.53 L939.75,143.49 L940.75,143.44 L941.75,143.41 L942.75,143.37 L943.75,143.34 L944.75,143.31 L945.75,143.28 L946.75,143.26 L947.75,143.24 L948.75,143.21 L949.75,143.20 L950.75,143.18 L951.75,143.16 L952.75,143.15 L953.75,143.14 L954.75,143.12 L955.75,143.11 L956.75,143.10 L957.75,143.09 L958.75,143.09 L959.75,143.08 L960.75,143.07 L961.75,143.07 L962.75,143.06 L963.75,143.05 L964.75,143.05 L965.75,143.05 L966.75,143.04 L967.75,143.04 L968.75,143.03 L969.75,143.03 L970.75,143.03 L971.75,143.03 L972.75,143.02 L973.75,143.02 L974.75,143.02 L975.75,143.02 L976.75,143.64 L977.75,144.88 L978.75,146.10 L979.75,147.31 L980.75,148.51 L981.75,149.68 L982.75,150.85 L983.75,152.00 L984.75,153.14 L985.75,154.26 L986.75,155.37 L987.75,156.47 L988.75,157.56 L989.75,158.63 L990.75,159.68 L991.75,160.73 L992.75,161.76 L993.75,162.78 L994.75,163.79 L995.75,164.79 L996.75,165.77 L997.75,166.75 L998.75,167.71 L999.75,168.66 L1000.75,169.60 L1001.75,170.52 L1002.75,171.44 L1003.75,172.34 L1004.75,173.24 L1005.75,174.12 L1006.75,174.99 L1007.75,175.86 L1008.75,176.71 L1009.75,177.55 L1010.75,178.38 L1011.75,179.20 L1012.75,180.02 L1013.75,180.82 L1014.75,181.61 L1015.75,182.39 L1016.75,183.17 L1017.75,183.93 L1018.75,184.69 L1019.75,185.43 L1020.75,186.17 L1021.75,186.90 L1022.75,187.62 L1023.75,188.33 L1024.75,189.03 L1025.75,189.73 L1026.75,190.41 L1027.75,191.09 L1028.75,191.76 L1029.75,192.42 L1030.75,193.07 L1031.75,193.72 L1032.75,194.36 L1033.75,194.99 L1034.75,195.61 L1035.75,196.23 L1036.75,196.84 L1037.75,197.44 L1038.75,198.03 L1039.75,198.62 L1040.75,199.20 L1041.75,199.77 L1042.75,200.33 L1043.75,200.89 L1044.75,201.45 L1045.75,201.99 L1046.75,202.53 L1047.75,203.06 L1048.75,203.59 L1049.75,204.11 L1050.75,204.62 L1051.75,205.13 L1052.75,205.63 L1053.75,206.13 L1054.75,206.62 L1055.75,207.10 L1056.75,207.58 L1057.75,208.05 L1058.75,208.52 L1059.75,208.98 L1060.75,209.43 L1061.75,209.88 L1062.75,210.33 L1063.75,210.77 L1064.75,211.20 L1065.75,211.63 L1066.75,212.05 L1067.75,212.47 L1068.75,212.88 L1069.75,213.29 L1070.75,213.70 L1071.75,214.10 L1072.75,214.49 L1073.75,214.88 L1074.75,215.26 L1075.75,215.64 L1076.75,216.02 L1077.75,216.39 L1078.75,216.76 L1079.75,217.12 L1080.75,217.48 L1081.75,217.83 L1082.75,218.18 L1083.75,218.52 L1084.75,218.87 L1085.75,219.20 L1086.75,219.54 L1087.75,219.86 L1088.75,220.19 L1089.75,220.51 L1090.75,220.83 L1091.75,221.14 L1092.75,221.45 L1093.75,221.76 L1094.75,222.06 L1095.75,222.36 L1096.75,222.65 L1097.75,222.94 L1098.75,223.23 L1099.75,223.52 L1100.75,223.80 L1101.75,224.08 L1102.75,224.35 L1103.75,224.62 L1104.75,224.89 L1105.75,225.15 L1106.75,225.42 L1107.75,225.67 L1108.75,225.93 L1109.75,226.18 L1110.75,226.43 L1111.75,226.68 L1112.75,226.92 L1113.75,227.16 L1114.75,227.40 L1115.75,227.63 L1116.75,227.87 L1117.75,228.10 L1118.75,228.32 L1119.75,228.55 L1120.75,228.77 L1121.75,228.98 L1122.75,229.20 L1123.75,229.41 L1124.75,229.62 L1125.75,229.83 L1126.75,230.04 L1127.75,230.24 L1128.75,230.44 L1129.75,230.64 L1130.75,230.84 L1131.75,231.03 L1132.75,231.22 L1133.75,231.41 L1134.75,231.60 L1135.75,231.78 L1136.75,231.96 L1137.75,232.14 L1138.75,232.32 L1139.75,232.50 L1140.75,232.67 L1141.75,232.84 L1142.75,233.01 L1143.75,233.18 L1144.75,233.35 L1145.75,233.51 L1146.75,233.67 L1147.75,233.83 L1148.75,233.99 L1149.75,234.14 L1150.75,234.30 L1151.75,234.45 L1152.75,234.60 L1153.75,234.75 L1154.75,234.89 L1155.75,235.04 L1156.75,235.18 L1157.75,235.32 L1158.75,235.46 L1159.75,235.60 L1160.75,235.74 L1161.75,235.87 L1162.75,236.01 L1163.75,236.14 L1164.75,236.27 L1165.75,236.40 L1166.75,236.52 L1167.75,236.65 L1168.75,236.77 L1169.75,236.90 L1170.75,237.02 L1171.75,237.14 L1172.75,237.26 L1173.75,237.37 L1174.75,237.49 L1175.75,237.60 L1176.75,237.71 L1177.75,237.82 L1178.75,237.93 L1179.75,238.04 L1180.75,238.15 L1181.75,238.26 L1182.75,238.36 L1183.75,238.46 L1184.75,238.57 L1185.75,238.67 L1186.75,238.77 L1187.75,238.87 L1188.75,238.96 L1189.75,239.06 L1190.75,239.15 L1191.75,239.25 L1192.75,239.34 L1193.75,239.43 L1194.75,239.52 L1195.75,239.61 L1196.75,239.70 L1197.75,239.79 L1198.75,239.88 L1199.75,239.96 L1200.75,240.05 L1201.75,240.13 L1202.75,240.21 L1203.75,240.29 L1204.75,240.37 L1205.75,240.45 L1206.75,240.53 L1207.75,240.61 L1208.75,240.68 L1209.75,240.76 L1210.75,240.83 L1211.75,240.91 L1212.75,240.98 L1213.75,241.05 L1214.75,241.12 L1215.75,241.20 L1216.75,241.26 L1217.75,241.33 L1218.75,241.40 L1219.75,241.47 L1220.75,241.53 L1221.75,241.60 L1222.75,241.66 L1223.75,241.73 L1224.75,241.79 L1225.75,241.85 L1226.75,241.92 L1227.75,241.98 L1228.75,242.04 L1229.75,242.10 L1230.75,242.15 L1231.75,242.21 L1232.75,242.27 L1233.75,242.33 L1234.75,242.38 L1235.75,242.44 L1236.75,242.49 L1237.75,242.55 L1238.75,242.60 L1239.75,242.65 L1240.75,242.70 L1241.75,242.76 L1242.75,242.81 L1243.75,242.86 L1244.75,242.91 L1245.75,242.96 L1246.75,243.00 L1247.75,243.05 L1248.75,243.10" fill="none" stroke="#f4474c" stroke-width="1.0" stroke-linejoin="round" stroke-linecap="round" opacity="0.85"/>
<path d="M880.75,247.00 L881.75,243.63 L882.75,240.39 L883.75,237.29 L884.75,234.32 L885.75,231.48 L886.75,228.75 L887.75,226.13 L888.75,223.63 L889.75,221.23 L890.75,218.93 L891.75,216.72 L892.75,214.61 L893.75,212.58 L894.75,210.64 L895.75,208.78 L896.75,207.00 L897.75,205.29 L898.75,203.66 L899.75,202.09 L900.75,200.58 L901.75,199.14 L902.75,197.76 L903.75,196.44 L904.75,195.17 L905.75,193.96 L906.75,192.79 L907.75,191.67 L908.75,190.61 L909.75,189.58 L910.75,188.60 L911.75,187.66 L912.75,186.75 L913.75,185.89 L914.75,185.06 L915.75,184.27 L916.75,183.51 L917.75,182.78 L918.75,182.08 L919.75,181.41 L920.75,180.77 L921.75,180.15 L922.75,179.56 L923.75,179.00 L924.75,178.45 L925.75,177.94 L926.75,177.44 L927.75,176.96 L928.75,176.51 L929.75,176.07 L930.75,175.65 L931.75,175.25 L932.75,174.86 L933.75,174.49 L934.75,174.14 L935.75,173.80 L936.75,173.47 L937.75,173.16 L938.75,172.86 L939.75,172.58 L940.75,172.30 L941.75,172.04 L942.75,171.79 L943.75,171.55 L944.75,171.32 L945.75,171.10 L946.75,170.88 L947.75,170.68 L948.75,170.49 L949.75,170.30 L950.75,170.12 L951.75,169.95 L952.75,169.78 L953.75,169.63 L954.75,169.47 L955.75,169.33 L956.75,169.19 L957.75,169.06 L958.75,168.93 L959.75,168.81 L960.75,168.69 L961.75,168.58 L962.75,168.47 L963.75,168.37 L964.75,168.27 L965.75,168.18 L966.75,168.09 L967.75,168.00 L968.75,167.92 L969.75,167.84 L970.75,167.76 L971.75,167.69 L972.75,167.62 L973.75,167.55 L974.75,167.48 L975.75,167.42 L976.75,167.87 L977.75,168.82 L978.75,169.75 L979.75,170.68 L980.75,171.59 L981.75,172.50 L982.75,173.39 L983.75,174.27 L984.75,175.14 L985.75,176.00 L986.75,176.85 L987.75,177.69 L988.75,178.52 L989.75,179.34 L990.75,180.15 L991.75,180.95 L992.75,181.74 L993.75,182.53 L994.75,183.30 L995.75,184.06 L996.75,184.81 L997.75,185.56 L998.75,186.29 L999.75,187.02 L1000.75,187.74 L1001.75,188.45 L1002.75,189.15 L1003.75,189.84 L1004.75,190.53 L1005.75,191.20 L1006.75,191.87 L1007.75,192.53 L1008.75,193.19 L1009.75,193.83 L1010.75,194.47 L1011.75,195.10 L1012.75,195.72 L1013.75,196.33 L1014.75,196.94 L1015.75,197.54 L1016.75,198.13 L1017.75,198.72 L1018.75,199.29 L1019.75,199.86 L1020.75,200.43 L1021.75,200.99 L1022.75,201.54 L1023.75,202.08 L1024.75,202.62 L1025.75,203.15 L1026.75,203.68 L1027.75,204.20 L1028.75,204.71 L1029.75,205.21 L1030.75,205.72 L1031.75,206.21 L1032.75,206.70 L1033.75,207.18 L1034.75,207.66 L1035.75,208.13 L1036.75,208.59 L1037.75,209.05 L1038.75,209.51 L1039.75,209.96 L1040.75,210.40 L1041.75,210.84 L1042.75,211.27 L1043.75,211.70 L1044.75,212.12 L1045.75,212.54 L1046.75,212.95 L1047.75,213.36 L1048.75,213.76 L1049.75,214.16 L1050.75,214.56 L1051.75,214.94 L1052.75,215.33 L1053.75,215.71 L1054.75,216.08 L1055.75,216.45 L1056.75,216.82 L1057.75,217.18 L1058.75,217.54 L1059.75,217.89 L1060.75,218.24 L1061.75,218.58 L1062.75,218.92 L1063.75,219.26 L1064.75,219.59 L1065.75,219.92 L1066.75,220.24 L1067.75,220.56 L1068.75,220.88 L1069.75,221.19 L1070.75,221.50 L1071.75,221.81 L1072.75,222.11 L1073.75,222.41 L1074.75,222.70 L1075.75,222.99 L1076.75,223.28 L1077.75,223.57 L1078.75,223.85 L1079.75,224.12 L1080.75,224.40 L1081.75,224.67 L1082.75,224.94 L1083.75,225.20 L1084.75,225.46 L1085.75,225.72 L1086.75,225.97 L1087.75,226.23 L1088.75,226.47 L1089.75,226.72 L1090.75,226.96 L1091.75,227.20 L1092.75,227.44 L1093.75,227.67 L1094.75,227.91 L1095.75,228.13 L1096.75,228.36 L1097.75,228.58 L1098.75,228.80 L1099.75,229.02 L1100.75,229.24 L1101.75,229.45 L1102.75,229.66 L1103.75,229.87 L1104.75,230.07 L1105.75,230.28 L1106.75,230.48 L1107.75,230.67 L1108.75,230.87 L1109.75,231.06 L1110.75,231.25 L1111.75,231.44 L1112.75,231.63 L1113.75,231.81 L1114.75,231.99 L1115.75,232.17 L1116.75,232.35 L1117.75,232.53 L1118.75,232.70 L1119.75,232.87 L1120.75,233.04 L1121.75,233.21 L1122.75,233.37 L1123.75,233.54 L1124.75,233.70 L1125.75,233.86 L1126.75,234.01 L1127.75,234.17 L1128.75,234.32 L1129.75,234.48 L1130.75,234.63 L1131.75,234.77 L1132.75,234.92 L1133.75,235.06 L1134.75,235.21 L1135.75,235.35 L1136.75,235.49 L1137.75,235.63 L1138.75,235.76 L1139.75,235.90 L1140.75,236.03 L1141.75,236.16 L1142.75,236.29 L1143.75,236.42 L1144.75,236.55 L1145.75,236.67 L1146.75,236.79 L1147.75,236.92 L1148.75,237.04 L1149.75,237.16 L1150.75,237.27 L1151.75,237.39 L1152.75,237.51 L1153.75,237.62 L1154.75,237.73 L1155.75,237.84 L1156.75,237.95 L1157.75,238.06 L1158.75,238.17 L1159.75,238.27 L1160.75,238.38 L1161.75,238.48 L1162.75,238.58 L1163.75,238.68 L1164.75,238.78 L1165.75,238.88 L1166.75,238.98 L1167.75,239.08 L1168.75,239.17 L1169.75,239.26 L1170.75,239.36 L1171.75,239.45 L1172.75,239.54 L1173.75,239.63 L1174.75,239.72 L1175.75,239.80 L1176.75,239.89 L1177.75,239.98 L1178.75,240.06 L1179.75,240.14 L1180.75,240.22 L1181.75,240.31 L1182.75,240.39 L1183.75,240.47 L1184.75,240.54 L1185.75,240.62 L1186.75,240.70 L1187.75,240.77 L1188.75,240.85 L1189.75,240.92 L1190.75,240.99 L1191.75,241.07 L1192.75,241.14 L1193.75,241.21 L1194.75,241.28 L1195.75,241.35 L1196.75,241.41 L1197.75,241.48 L1198.75,241.55 L1199.75,241.61 L1200.75,241.68 L1201.75,241.74 L1202.75,241.80 L1203.75,241.86 L1204.75,241.93 L1205.75,241.99 L1206.75,242.05 L1207.75,242.11 L1208.75,242.16 L1209.75,242.22 L1210.75,242.28 L1211.75,242.34 L1212.75,242.39 L1213.75,242.45 L1214.75,242.50 L1215.75,242.56 L1216.75,242.61 L1217.75,242.66 L1218.75,242.71 L1219.75,242.77 L1220.75,242.82 L1221.75,242.87 L1222.75,242.92 L1223.75,242.96 L1224.75,243.01 L1225.75,243.06 L1226.75,243.11 L1227.75,243.15 L1228.75,243.20 L1229.75,243.25 L1230.75,243.29 L1231.75,243.34 L1232.75,243.38 L1233.75,243.42 L1234.75,243.47 L1235.75,243.51 L1236.75,243.55 L1237.75,243.59 L1238.75,243.63 L1239.75,243.67 L1240.75,243.71 L1241.75,243.75 L1242.75,243.79 L1243.75,243.83 L1244.75,243.87 L1245.75,243.90 L1246.75,243.94 L1247.75,243.98 L1248.75,244.01" fill="none" stroke="#f4474c" stroke-width="1.0" stroke-linejoin="round" stroke-linecap="round" opacity="0.85"/>
<path d="M880.75,247.00 L881.75,246.15 L882.75,245.32 L883.75,244.50 L884.75,243.69 L885.75,242.89 L886.75,242.10 L887.75,241.33 L888.75,240.56 L889.75,239.81 L890.75,239.07 L891.75,238.34 L892.75,237.62 L893.75,236.91 L894.75,236.21 L895.75,235.52 L896.75,234.84 L897.75,234.17 L898.75,233.51 L899.75,232.86 L900.75,232.22 L901.75,231.59 L902.75,230.97 L903.75,230.36 L904.75,229.75 L905.75,229.16 L906.75,228.57 L907.75,227.99 L908.75,227.42 L909.75,226.86 L910.75,226.31 L911.75,225.77 L912.75,225.23 L913.75,224.70 L914.75,224.18 L915.75,223.67 L916.75,223.16 L917.75,222.66 L918.75,222.17 L919.75,221.68 L920.75,221.21 L921.75,220.74 L922.75,220.27 L923.75,219.82 L924.75,219.37 L925.75,218.92 L926.75,218.49 L927.75,218.06 L928.75,217.63 L929.75,217.22 L930.75,216.80 L931.75,216.40 L932.75,216.00 L933.75,215.60 L934.75,215.21 L935.75,214.83 L936.75,214.46 L937.75,214.08 L938.75,213.72 L939.75,213.36 L940.75,213.00 L941.75,212.65 L942.75,212.31 L943.75,211.97 L944.75,211.63 L945.75,211.30 L946.75,210.97 L947.75,210.65 L948.75,210.34 L949.75,210.03 L950.75,209.72 L951.75,209.42 L952.75,209.12 L953.75,208.82 L954.75,208.53 L955.75,208.25 L956.75,207.97 L957.75,207.69 L958.75,207.42 L959.75,207.15 L960.75,206.89 L961.75,206.62 L962.75,206.37 L963.75,206.11 L964.75,205.86 L965.75,205.62 L966.75,205.37 L967.75,205.14 L968.75,204.90 L969.75,204.67 L970.75,204.44 L971.75,204.21 L972.75,203.99 L973.75,203.77 L974.75,203.56 L975.75,203.34 L976.75,203.50 L977.75,204.02 L978.75,204.54 L979.75,205.05 L980.75,205.55 L981.75,206.05 L982.75,206.54 L983.75,207.02 L984.75,207.50 L985.75,207.97 L986.75,208.44 L987.75,208.90 L988.75,209.36 L989.75,209.81 L990.75,210.25 L991.75,210.69 L992.75,211.13 L993.75,211.56 L994.75,211.98 L995.75,212.40 L996.75,212.82 L997.75,213.23 L998.75,213.63 L999.75,214.03 L1000.75,214.42 L1001.75,214.82 L1002.75,215.20 L1003.75,215.58 L1004.75,215.96 L1005.75,216.33 L1006.75,216.70 L1007.75,217.06 L1008.75,217.42 L1009.75,217.77 L1010.75,218.12 L1011.75,218.47 L1012.75,218.81 L1013.75,219.15 L1014.75,219.48 L1015.75,219.81 L1016.75,220.14 L1017.75,220.46 L1018.75,220.78 L1019.75,221.09 L1020.75,221.40 L1021.75,221.71 L1022.75,222.01 L1023.75,222.31 L1024.75,222.60 L1025.75,222.90 L1026.75,223.19 L1027.75,223.47 L1028.75,223.75 L1029.75,224.03 L1030.75,224.31 L1031.75,224.58 L1032.75,224.85 L1033.75,225.11 L1034.75,225.37 L1035.75,225.63 L1036.75,225.89 L1037.75,226.14 L1038.75,226.39 L1039.75,226.64 L1040.75,226.88 L1041.75,227.12 L1042.75,227.36 L1043.75,227.60 L1044.75,227.83 L1045.75,228.06 L1046.75,228.28 L1047.75,228.51 L1048.75,228.73 L1049.75,228.95 L1050.75,229.17 L1051.75,229.38 L1052.75,229.59 L1053.75,229.80 L1054.75,230.00 L1055.75,230.21 L1056.75,230.41 L1057.75,230.61 L1058.75,230.80 L1059.75,231.00 L1060.75,231.19 L1061.75,231.38 L1062.75,231.57 L1063.75,231.75 L1064.75,231.93 L1065.75,232.11 L1066.75,232.29 L1067.75,232.47 L1068.75,232.64 L1069.75,232.81 L1070.75,232.98 L1071.75,233.15 L1072.75,233.32 L1073.75,233.48 L1074.75,233.64 L1075.75,233.80 L1076.75,233.96 L1077.75,234.12 L1078.75,234.27 L1079.75,234.42 L1080.75,234.58 L1081.75,234.72 L1082.75,234.87 L1083.75,235.02 L1084.75,235.16 L1085.75,235.30 L1086.75,235.44 L1087.75,235.58 L1088.75,235.72 L1089.75,235.85 L1090.75,235.99 L1091.75,236.12 L1092.75,236.25 L1093.75,236.38 L1094.75,236.50 L1095.75,236.63 L1096.75,236.75 L1097.75,236.88 L1098.75,237.00 L1099.75,237.12 L1100.75,237.24 L1101.75,237.35 L1102.75,237.47 L1103.75,237.58 L1104.75,237.70 L1105.75,237.81 L1106.75,237.92 L1107.75,238.03 L1108.75,238.13 L1109.75,238.24 L1110.75,238.34 L1111.75,238.45 L1112.75,238.55 L1113.75,238.65 L1114.75,238.75 L1115.75,238.85 L1116.75,238.95 L1117.75,239.04 L1118.75,239.14 L1119.75,239.23 L1120.75,239.33 L1121.75,239.42 L1122.75,239.51 L1123.75,239.60 L1124.75,239.69 L1125.75,239.78 L1126.75,239.86 L1127.75,239.95 L1128.75,240.03 L1129.75,240.12 L1130.75,240.20 L1131.75,240.28 L1132.75,240.36 L1133.75,240.44 L1134.75,240.52 L1135.75,240.60 L1136.75,240.67 L1137.75,240.75 L1138.75,240.82 L1139.75,240.90 L1140.75,240.97 L1141.75,241.04 L1142.75,241.11 L1143.75,241.18 L1144.75,241.25 L1145.75,241.32 L1146.75,241.39 L1147.75,241.46 L1148.75,241.52 L1149.75,241.59 L1150.75,241.65 L1151.75,241.72 L1152.75,241.78 L1153.75,241.84 L1154.75,241.91 L1155.75,241.97 L1156.75,242.03 L1157.75,242.09 L1158.75,242.15 L1159.75,242.20 L1160.75,242.26 L1161.75,242.32 L1162.75,242.37 L1163.75,242.43 L1164.75,242.48 L1165.75,242.54 L1166.75,242.59 L1167.75,242.64 L1168.75,242.70 L1169.75,242.75 L1170.75,242.80 L1171.75,242.85 L1172.75,242.90 L1173.75,242.95 L1174.75,243.00 L1175.75,243.04 L1176.75,243.09 L1177.75,243.14 L1178.75,243.18 L1179.75,243.23 L1180.75,243.28 L1181.75,243.32 L1182.75,243.36 L1183.75,243.41 L1184.75,243.45 L1185.75,243.49 L1186.75,243.54 L1187.75,243.58 L1188.75,243.62 L1189.75,243.66 L1190.75,243.70 L1191.75,243.74 L1192.75,243.78 L1193.75,243.82 L1194.75,243.85 L1195.75,243.89 L1196.75,243.93 L1197.75,243.97 L1198.75,244.00 L1199.75,244.04 L1200.75,244.07 L1201.75,244.11 L1202.75,244.14 L1203.75,244.18 L1204.75,244.21 L1205.75,244.24 L1206.75,244.28 L1207.75,244.31 L1208.75,244.34 L1209.75,244.37 L1210.75,244.41 L1211.75,244.44 L1212.75,244.47 L1213.75,244.50 L1214.75,244.53 L1215.75,244.56 L1216.75,244.59 L1217.75,244.62 L1218.75,244.64 L1219.75,244.67 L1220.75,244.70 L1221.75,244.73 L1222.75,244.75 L1223.75,244.78 L1224.75,244.81 L1225.75,244.83 L1226.75,244.86 L1227.75,244.89 L1228.75,244.91 L1229.75,244.94 L1230.75,244.96 L1231.75,244.99 L1232.75,245.01 L1233.75,245.03 L1234.75,245.06 L1235.75,245.08 L1236.75,245.10 L1237.75,245.13 L1238.75,245.15 L1239.75,245.17 L1240.75,245.19 L1241.75,245.21 L1242.75,245.24 L1243.75,245.26 L1244.75,245.28 L1245.75,245.30 L1246.75,245.32 L1247.75,245.34 L1248.75,245.36" fill="none" stroke="#f4474c" stroke-width="1.0" stroke-linejoin="round" stroke-linecap="round" opacity="0.85"/>
<path d="M880.75,247.00 L881.75,246.72 L882.75,246.45 L883.75,246.18 L884.75,245.91 L885.75,245.65 L886.75,245.39 L887.75,245.13 L888.75,244.87 L889.75,244.62 L890.75,244.37 L891.75,244.12 L892.75,243.88 L893.75,243.64 L894.75,243.40 L895.75,243.16 L896.75,242.93 L897.75,242.70 L898.75,242.47 L899.75,242.24 L900.75,242.02 L901.75,241.80 L902.75,241.58 L903.75,241.36 L904.75,241.15 L905.75,240.94 L906.75,240.73 L907.75,240.52 L908.75,240.32 L909.75,240.11 L910.75,239.91 L911.75,239.72 L912.75,239.52 L913.75,239.33 L914.75,239.13 L915.75,238.95 L916.75,238.76 L917.75,238.57 L918.75,238.39 L919.75,238.21 L920.75,238.03 L921.75,237.85 L922.75,237.68 L923.75,237.50 L924.75,237.33 L925.75,237.16 L926.75,237.00 L927.75,236.83 L928.75,236.67 L929.75,236.50 L930.75,236.34 L931.75,236.19 L932.75,236.03 L933.75,235.87 L934.75,235.72 L935.75,235.57 L936.75,235.42 L937.75,235.27 L938.75,235.12 L939.75,234.98 L940.75,234.84 L941.75,234.69 L942.75,234.55 L943.75,234.41 L944.75,234.28 L945.75,234.14 L946.75,234.01 L947.75,233.87 L948.75,233.74 L949.75,233.61 L950.75,233.49 L951.75,233.36 L952.75,233.23 L953.75,233.11 L954.75,232.99 L955.75,232.86 L956.75,232.74 L957.75,232.63 L958.75,232.51 L959.75,232.39 L960.75,232.28 L961.75,232.16 L962.75,232.05 L963.75,231.94 L964.75,231.83 L965.75,231.72 L966.75,231.61 L967.75,231.51 L968.75,231.40 L969.75,231.30 L970.75,231.20 L971.75,231.10 L972.75,230.99 L973.75,230.90 L974.75,230.80 L975.75,230.70 L976.75,230.75 L977.75,230.94 L978.75,231.14 L979.75,231.33 L980.75,231.51 L981.75,231.70 L982.75,231.88 L983.75,232.06 L984.75,232.24 L985.75,232.42 L986.75,232.59 L987.75,232.77 L988.75,232.94 L989.75,233.11 L990.75,233.27 L991.75,233.44 L992.75,233.60 L993.75,233.76 L994.75,233.92 L995.75,234.07 L996.75,234.23 L997.75,234.38 L998.75,234.53 L999.75,234.68 L1000.75,234.83 L1001.75,234.98 L1002.75,235.12 L1003.75,235.26 L1004.75,235.40 L1005.75,235.54 L1006.75,235.68 L1007.75,235.81 L1008.75,235.95 L1009.75,236.08 L1010.75,236.21 L1011.75,236.34 L1012.75,236.47 L1013.75,236.59 L1014.75,236.72 L1015.75,236.84 L1016.75,236.96 L1017.75,237.08 L1018.75,237.20 L1019.75,237.32 L1020.75,237.44 L1021.75,237.55 L1022.75,237.66 L1023.75,237.78 L1024.75,237.89 L1025.75,238.00 L1026.75,238.10 L1027.75,238.21 L1028.75,238.32 L1029.75,238.42 L1030.75,238.52 L1031.75,238.62 L1032.75,238.72 L1033.75,238.82 L1034.75,238.92 L1035.75,239.02 L1036.75,239.11 L1037.75,239.21 L1038.75,239.30 L1039.75,239.39 L1040.75,239.48 L1041.75,239.57 L1042.75,239.66 L1043.75,239.75 L1044.75,239.84 L1045.75,239.92 L1046.75,240.01 L1047.75,240.09 L1048.75,240.17 L1049.75,240.26 L1050.75,240.34 L1051.75,240.42 L1052.75,240.50 L1053.75,240.57 L1054.75,240.65 L1055.75,240.73 L1056.75,240.80 L1057.75,240.88 L1058.75,240.95 L1059.75,241.02 L1060.75,241.09 L1061.75,241.16 L1062.75,241.23 L1063.75,241.30 L1064.75,241.37 L1065.75,241.44 L1066.75,241.51 L1067.75,241.57 L1068.75,241.64 L1069.75,241.70 L1070.75,241.76 L1071.75,241.83 L1072.75,241.89 L1073.75,241.95 L1074.75,242.01 L1075.75,242.07 L1076.75,242.13 L1077.75,242.19 L1078.75,242.25 L1079.75,242.30 L1080.75,242.36 L1081.75,242.41 L1082.75,242.47 L1083.75,242.52 L1084.75,242.58 L1085.75,242.63 L1086.75,242.68 L1087.75,242.73 L1088.75,242.78 L1089.75,242.84 L1090.75,242.89 L1091.75,242.93 L1092.75,242.98 L1093.75,243.03 L1094.75,243.08 L1095.75,243.13 L1096.75,243.17 L1097.75,243.22 L1098.75,243.26 L1099.75,243.31 L1100.75,243.35 L1101.75,243.40 L1102.75,243.44 L1103.75,243.48 L1104.75,243.52 L1105.75,243.57 L1106.75,243.61 L1107.75,243.65 L1108.75,243.69 L1109.75,243.73 L1110.75,243.77 L1111.75,243.80 L1112.75,243.84 L1113.75,243.88 L1114.75,243.92 L1115.75,243.96 L1116.75,243.99 L1117.75,244.03 L1118.75,244.06 L1119.75,244.10 L1120.75,244.13 L1121.75,244.17 L1122.75,244.20 L1123.75,244.24 L1124.75,244.27 L1125.75,244.30 L1126.75,244.33 L1127.75,244.37 L1128.75,244.40 L1129.75,244.43 L1130.75,244.46 L1131.75,244.49 L1132.75,244.52 L1133.75,244.55 L1134.75,244.58 L1135.75,244.61 L1136.75,244.64 L1137.75,244.66 L1138.75,244.69 L1139.75,244.72 L1140.75,244.75 L1141.75,244.77 L1142.75,244.80 L1143.75,244.83 L1144.75,244.85 L1145.75,244.88 L1146.75,244.90 L1147.75,244.93 L1148.75,244.95 L1149.75,244.98 L1150.75,245.00 L1151.75,245.03 L1152.75,245.05 L1153.75,245.07 L1154.75,245.10 L1155.75,245.12 L1156.75,245.14 L1157.75,245.16 L1158.75,245.19 L1159.75,245.21 L1160.75,245.23 L1161.75,245.25 L1162.75,245.27 L1163.75,245.29 L1164.75,245.31 L1165.75,245.33 L1166.75,245.35 L1167.75,245.37 L1168.75,245.39 L1169.75,245.41 L1170.75,245.43 L1171.75,245.45 L1172.75,245.47 L1173.75,245.49 L1174.75,245.50 L1175.75,245.52 L1176.75,245.54 L1177.75,245.56 L1178.75,245.57 L1179.75,245.59 L1180.75,245.61 L1181.75,245.63 L1182.75,245.64 L1183.75,245.66 L1184.75,245.67 L1185.75,245.69 L1186.75,245.71 L1187.75,245.72 L1188.75,245.74 L1189.75,245.75 L1190.75,245.77 L1191.75,245.78 L1192.75,245.80 L1193.75,245.81 L1194.75,245.82 L1195.75,245.84 L1196.75,245.85 L1197.75,245.87 L1198.75,245.88 L1199.75,245.89 L1200.75,245.91 L1201.75,245.92 L1202.75,245.93 L1203.75,245.95 L1204.75,245.96 L1205.75,245.97 L1206.75,245.98 L1207.75,246.00 L1208.75,246.01 L1209.75,246.02 L1210.75,246.03 L1211.75,246.04 L1212.75,246.05 L1213.75,246.07 L1214.75,246.08 L1215.75,246.09 L1216.75,246.10 L1217.75,246.11 L1218.75,246.12 L1219.75,246.13 L1220.75,246.14 L1221.75,246.15 L1222.75,246.16 L1223.75,246.17 L1224.75,246.18 L1225.75,246.19 L1226.75,246.20 L1227.75,246.21 L1228.75,246.22 L1229.75,246.23 L1230.75,246.24 L1231.75,246.25 L1232.75,246.26 L1233.75,246.27 L1234.75,246.27 L1235.75,246.28 L1236.75,246.29 L1237.75,246.30 L1238.75,246.31 L1239.75,246.32 L1240.75,246.32 L1241.75,246.33 L1242.75,246.34 L1243.75,246.35 L1244.75,246.36 L1245.75,246.36 L1246.75,246.37 L1247.75,246.38 L1248.75,246.39" fill="none" stroke="#f4474c" stroke-width="1.0" stroke-linejoin="round" stroke-linecap="round" opacity="0.85"/>
<path d="M880.75,247.00 L881.75,246.91 L882.75,246.82 L883.75,246.73 L884.75,246.64 L885.75,246.56 L886.75,246.47 L887.75,246.38 L888.75,246.30 L889.75,246.21 L890.75,246.13 L891.75,246.05 L892.75,245.97 L893.75,245.89 L894.75,245.80 L895.75,245.73 L896.75,245.65 L897.75,245.57 L898.75,245.49 L899.75,245.41 L900.75,245.34 L901.75,245.26 L902.75,245.19 L903.75,245.11 L904.75,245.04 L905.75,244.97 L906.75,244.89 L907.75,244.82 L908.75,244.75 L909.75,244.68 L910.75,244.61 L911.75,244.54 L912.75,244.48 L913.75,244.41 L914.75,244.34 L915.75,244.27 L916.75,244.21 L917.75,244.14 L918.75,244.08 L919.75,244.01 L920.75,243.95 L921.75,243.89 L922.75,243.83 L923.75,243.76 L924.75,243.70 L925.75,243.64 L926.75,243.58 L927.75,243.52 L928.75,243.46 L929.75,243.41 L930.75,243.35 L931.75,243.29 L932.75,243.23 L933.75,243.18 L934.75,243.12 L935.75,243.07 L936.75,243.01 L937.75,242.96 L938.75,242.90 L939.75,242.85 L940.75,242.80 L941.75,242.74 L942.75,242.69 L943.75,242.64 L944.75,242.59 L945.75,242.54 L946.75,242.49 L947.75,242.44 L948.75,242.39 L949.75,242.34 L950.75,242.29 L951.75,242.24 L952.75,242.20 L953.75,242.15 L954.75,242.10 L955.75,242.06 L956.75,242.01 L957.75,241.97 L958.75,241.92 L959.75,241.88 L960.75,241.83 L961.75,241.79 L962.75,241.75 L963.75,241.70 L964.75,241.66 L965.75,241.62 L966.75,241.58 L967.75,241.53 L968.75,241.49 L969.75,241.45 L970.75,241.41 L971.75,241.37 L972.75,241.33 L973.75,241.29 L974.75,241.25 L975.75,241.22 L976.75,241.23 L977.75,241.30 L978.75,241.37 L979.75,241.44 L980.75,241.50 L981.75,241.57 L982.75,241.63 L983.75,241.70 L984.75,241.76 L985.75,241.82 L986.75,241.89 L987.75,241.95 L988.75,242.01 L989.75,242.07 L990.75,242.13 L991.75,242.19 L992.75,242.24 L993.75,242.30 L994.75,242.36 L995.75,242.41 L996.75,242.47 L997.75,242.52 L998.75,242.58 L999.75,242.63 L1000.75,242.68 L1001.75,242.73 L1002.75,242.78 L1003.75,242.83 L1004.75,242.88 L1005.75,242.93 L1006.75,242.98 L1007.75,243.03 L1008.75,243.08 L1009.75,243.12 L1010.75,243.17 L1011.75,243.22 L1012.75,243.26 L1013.75,243.31 L1014.75,243.35 L1015.75,243.39 L1016.75,243.44 L1017.75,243.48 L1018.75,243.52 L1019.75,243.56 L1020.75,243.61 L1021.75,243.65 L1022.75,243.69 L1023.75,243.73 L1024.75,243.77 L1025.75,243.80 L1026.75,243.84 L1027.75,243.88 L1028.75,243.92 L1029.75,243.95 L1030.75,243.99 L1031.75,244.03 L1032.75,244.06 L1033.75,244.10 L1034.75,244.13 L1035.75,244.17 L1036.75,244.20 L1037.75,244.23 L1038.75,244.27 L1039.75,244.30 L1040.75,244.33 L1041.75,244.36 L1042.75,244.40 L1043.75,244.43 L1044.75,244.46 L1045.75,244.49 L1046.75,244.52 L1047.75,244.55 L1048.75,244.58 L1049.75,244.61 L1050.75,244.64 L1051.75,244.66 L1052.75,244.69 L1053.75,244.72 L1054.75,244.75 L1055.75,244.77 L1056.75,244.80 L1057.75,244.83 L1058.75,244.85 L1059.75,244.88 L1060.75,244.90 L1061.75,244.93 L1062.75,244.95 L1063.75,244.98 L1064.75,245.00 L1065.75,245.03 L1066.75,245.05 L1067.75,245.07 L1068.75,245.10 L1069.75,245.12 L1070.75,245.14 L1071.75,245.16 L1072.75,245.19 L1073.75,245.21 L1074.75,245.23 L1075.75,245.25 L1076.75,245.27 L1077.75,245.29 L1078.75,245.31 L1079.75,245.33 L1080.75,245.35 L1081.75,245.37 L1082.75,245.39 L1083.75,245.41 L1084.75,245.43 L1085.75,245.45 L1086.75,245.47 L1087.75,245.49 L1088.75,245.50 L1089.75,245.52 L1090.75,245.54 L1091.75,245.56 L1092.75,245.57 L1093.75,245.59 L1094.75,245.61 L1095.75,245.62 L1096.75,245.64 L1097.75,245.66 L1098.75,245.67 L1099.75,245.69 L1100.75,245.71 L1101.75,245.72 L1102.75,245.74 L1103.75,245.75 L1104.75,245.77 L1105.75,245.78 L1106.75,245.80 L1107.75,245.81 L1108.75,245.82 L1109.75,245.84 L1110.75,245.85 L1111.75,245.87 L1112.75,245.88 L1113.75,245.89 L1114.75,245.91 L1115.75,245.92 L1116.75,245.93 L1117.75,245.95 L1118.75,245.96 L1119.75,245.97 L1120.75,245.98 L1121.75,245.99 L1122.75,246.01 L1123.75,246.02 L1124.75,246.03 L1125.75,246.04 L1126.75,246.05 L1127.75,246.06 L1128.75,246.08 L1129.75,246.09 L1130.75,246.10 L1131.75,246.11 L1132.75,246.12 L1133.75,246.13 L1134.75,246.14 L1135.75,246.15 L1136.75,246.16 L1137.75,246.17 L1138.75,246.18 L1139.75,246.19 L1140.75,246.20 L1141.75,246.21 L1142.75,246.22 L1143.75,246.23 L1144.75,246.24 L1145.75,246.25 L1146.75,246.26 L1147.75,246.27 L1148.75,246.27 L1149.75,246.28 L1150.75,246.29 L1151.75,246.30 L1152.75,246.31 L1153.75,246.32 L1154.75,246.32 L1155.75,246.33 L1156.75,246.34 L1157.75,246.35 L1158.75,246.36 L1159.75,246.36 L1160.75,246.37 L1161.75,246.38 L1162.75,246.39 L1163.75,246.39 L1164.75,246.40 L1165.75,246.41 L1166.75,246.42 L1167.75,246.42 L1168.75,246.43 L1169.75,246.44 L1170.75,246.44 L1171.75,246.45 L1172.75,246.46 L1173.75,246.46 L1174.75,246.47 L1175.75,246.48 L1176.75,246.48 L1177.75,246.49 L1178.75,246.49 L1179.75,246.50 L1180.75,246.51 L1181.75,246.51 L1182.75,246.52 L1183.75,246.52 L1184.75,246.53 L1185.75,246.54 L1186.75,246.54 L1187.75,246.55 L1188.75,246.55 L1189.75,246.56 L1190.75,246.56 L1191.75,246.57 L1192.75,246.57 L1193.75,246.58 L1194.75,246.58 L1195.75,246.59 L1196.75,246.59 L1197.75,246.60 L1198.75,246.60 L1199.75,246.61 L1200.75,246.61 L1201.75,246.62 L1202.75,246.62 L1203.75,246.63 L1204.75,246.63 L1205.75,246.63 L1206.75,246.64 L1207.75,246.64 L1208.75,246.65 L1209.75,246.65 L1210.75,246.66 L1211.75,246.66 L1212.75,246.66 L1213.75,246.67 L1214.75,246.67 L1215.75,246.68 L1216.75,246.68 L1217.75,246.68 L1218.75,246.69 L1219.75,246.69 L1220.75,246.69 L1221.75,246.70 L1222.75,246.70 L1223.75,246.71 L1224.75,246.71 L1225.75,246.71 L1226.75,246.72 L1227.75,246.72 L1228.75,246.72 L1229.75,246.73 L1230.75,246.73 L1231.75,246.73 L1232.75,246.74 L1233.75,246.74 L1234.75,246.74 L1235.75,246.75 L1236.75,246.75 L1237.75,246.75 L1238.75,246.75 L1239.75,246.76 L1240.75,246.76 L1241.75,246.76 L1242.75,246.77 L1243.75,246.77 L1244.75,246.77 L1245.75,246.77 L1246.75,246.78 L1247.75,246.78 L1248.75,246.78" fill="none" stroke="#f4474c" stroke-width="1.0" stroke-linejoin="round" stroke-linecap="round" opacity="0.85"/>
<path d="M880.75,247.00 L881.75,246.97 L882.75,246.94 L883.75,246.91 L884.75,246.88 L885.75,246.85 L886.75,246.82 L887.75,246.79 L888.75,246.76 L889.75,246.73 L890.75,246.70 L891.75,246.68 L892.75,246.65 L893.75,246.62 L894.75,246.59 L895.75,246.56 L896.75,246.54 L897.75,246.51 L898.75,246.48 L899.75,246.46 L900.75,246.43 L901.75,246.40 L902.75,246.38 L903.75,246.35 L904.75,246.33 L905.75,246.30 L906.75,246.27 L907.75,246.25 L908.75,246.22 L909.75,246.20 L910.75,246.18 L911.75,246.15 L912.75,246.13 L913.75,246.10 L914.75,246.08 L915.75,246.06 L916.75,246.03 L917.75,246.01 L918.75,245.99 L919.75,245.96 L920.75,245.94 L921.75,245.92 L922.75,245.90 L923.75,245.87 L924.75,245.85 L925.75,245.83 L926.75,245.81 L927.75,245.79 L928.75,245.77 L929.75,245.74 L930.75,245.72 L931.75,245.70 L932.75,245.68 L933.75,245.66 L934.75,245.64 L935.75,245.62 L936.75,245.60 L937.75,245.58 L938.75,245.56 L939.75,245.54 L940.75,245.52 L941.75,245.50 L942.75,245.48 L943.75,245.46 L944.75,245.44 L945.75,245.43 L946.75,245.41 L947.75,245.39 L948.75,245.37 L949.75,245.35 L950.75,245.33 L951.75,245.32 L952.75,245.30 L953.75,245.28 L954.75,245.26 L955.75,245.25 L956.75,245.23 L957.75,245.21 L958.75,245.20 L959.75,245.18 L960.75,245.16 L961.75,245.15 L962.75,245.13 L963.75,245.11 L964.75,245.10 L965.75,245.08 L966.75,245.06 L967.75,245.05 L968.75,245.03 L969.75,245.02 L970.75,245.00 L971.75,244.99 L972.75,244.97 L973.75,244.96 L974.75,244.94 L975.75,244.93 L976.75,244.93 L977.75,244.96 L978.75,244.98 L979.75,245.00 L980.75,245.03 L981.75,245.05 L982.75,245.08 L983.75,245.10 L984.75,245.12 L985.75,245.14 L986.75,245.17 L987.75,245.19 L988.75,245.21 L989.75,245.23 L990.75,245.25 L991.75,245.27 L992.75,245.29 L993.75,245.31 L994.75,245.33 L995.75,245.35 L996.75,245.37 L997.75,245.39 L998.75,245.41 L999.75,245.43 L1000.75,245.45 L1001.75,245.47 L1002.75,245.49 L1003.75,245.51 L1004.75,245.52 L1005.75,245.54 L1006.75,245.56 L1007.75,245.58 L1008.75,245.59 L1009.75,245.61 L1010.75,245.63 L1011.75,245.64 L1012.75,245.66 L1013.75,245.68 L1014.75,245.69 L1015.75,245.71 L1016.75,245.72 L1017.75,245.74 L1018.75,245.75 L1019.75,245.77 L1020.75,245.78 L1021.75,245.80 L1022.75,245.81 L1023.75,245.83 L1024.75,245.84 L1025.75,245.85 L1026.75,245.87 L1027.75,245.88 L1028.75,245.89 L1029.75,245.91 L1030.75,245.92 L1031.75,245.93 L1032.75,245.95 L1033.75,245.96 L1034.75,245.97 L1035.75,245.98 L1036.75,246.00 L1037.75,246.01 L1038.75,246.02 L1039.75,246.03 L1040.75,246.04 L1041.75,246.05 L1042.75,246.07 L1043.75,246.08 L1044.75,246.09 L1045.75,246.10 L1046.75,246.11 L1047.75,246.12 L1048.75,246.13 L1049.75,246.14 L1050.75,246.15 L1051.75,246.16 L1052.75,246.17 L1053.75,246.18 L1054.75,246.19 L1055.75,246.20 L1056.75,246.21 L1057.75,246.22 L1058.75,246.23 L1059.75,246.24 L1060.75,246.25 L1061.75,246.26 L1062.75,246.27 L1063.75,246.27 L1064.75,246.28 L1065.75,246.29 L1066.75,246.30 L1067.75,246.31 L1068.75,246.32 L1069.75,246.33 L1070.75,246.33 L1071.75,246.34 L1072.75,246.35 L1073.75,246.36 L1074.75,246.36 L1075.75,246.37 L1076.75,246.38 L1077.75,246.39 L1078.75,246.39 L1079.75,246.40 L1080.75,246.41 L1081.75,246.42 L1082.75,246.42 L1083.75,246.43 L1084.75,246.44 L1085.75,246.44 L1086.75,246.45 L1087.75,246.46 L1088.75,246.46 L1089.75,246.47 L1090.75,246.48 L1091.75,246.48 L1092.75,246.49 L1093.75,246.49 L1094.75,246.50 L1095.75,246.51 L1096.75,246.51 L1097.75,246.52 L1098.75,246.52 L1099.75,246.53 L1100.75,246.54 L1101.75,246.54 L1102.75,246.55 L1103.75,246.55 L1104.75,246.56 L1105.75,246.56 L1106.75,246.57 L1107.75,246.57 L1108.75,246.58 L1109.75,246.58 L1110.75,246.59 L1111.75,246.59 L1112.75,246.60 L1113.75,246.60 L1114.75,246.61 L1115.75,246.61 L1116.75,246.62 L1117.75,246.62 L1118.75,246.63 L1119.75,246.63 L1120.75,246.64 L1121.75,246.64 L1122.75,246.64 L1123.75,246.65 L1124.75,246.65 L1125.75,246.66 L1126.75,246.66 L1127.75,246.66 L1128.75,246.67 L1129.75,246.67 L1130.75,246.68 L1131.75,246.68 L1132.75,246.68 L1133.75,246.69 L1134.75,246.69 L1135.75,246.70 L1136.75,246.70 L1137.75,246.70 L1138.75,246.71 L1139.75,246.71 L1140.75,246.71 L1141.75,246.72 L1142.75,246.72 L1143.75,246.72 L1144.75,246.73 L1145.75,246.73 L1146.75,246.73 L1147.75,246.74 L1148.75,246.74 L1149.75,246.74 L1150.75,246.75 L1151.75,246.75 L1152.75,246.75 L1153.75,246.75 L1154.75,246.76 L1155.75,246.76 L1156.75,246.76 L1157.75,246.77 L1158.75,246.77 L1159.75,246.77 L1160.75,246.77 L1161.75,246.78 L1162.75,246.78 L1163.75,246.78 L1164.75,246.79 L1165.75,246.79 L1166.75,246.79 L1167.75,246.79 L1168.75,246.80 L1169.75,246.80 L1170.75,246.80 L1171.75,246.80 L1172.75,246.80 L1173.75,246.81 L1174.75,246.81 L1175.75,246.81 L1176.75,246.81 L1177.75,246.82 L1178.75,246.82 L1179.75,246.82 L1180.75,246.82 L1181.75,246.82 L1182.75,246.83 L1183.75,246.83 L1184.75,246.83 L1185.75,246.83 L1186.75,246.84 L1187.75,246.84 L1188.75,246.84 L1189.75,246.84 L1190.75,246.84 L1191.75,246.84 L1192.75,246.85 L1193.75,246.85 L1194.75,246.85 L1195.75,246.85 L1196.75,246.85 L1197.75,246.86 L1198.75,246.86 L1199.75,246.86 L1200.75,246.86 L1201.75,246.86 L1202.75,246.86 L1203.75,246.87 L1204.75,246.87 L1205.75,246.87 L1206.75,246.87 L1207.75,246.87 L1208.75,246.87 L1209.75,246.88 L1210.75,246.88 L1211.75,246.88 L1212.75,246.88 L1213.75,246.88 L1214.75,246.88 L1215.75,246.88 L1216.75,246.89 L1217.75,246.89 L1218.75,246.89 L1219.75,246.89 L1220.75,246.89 L1221.75,246.89 L1222.75,246.89 L1223.75,246.89 L1224.75,246.90 L1225.75,246.90 L1226.75,246.90 L1227.75,246.90 L1228.75,246.90 L1229.75,246.90 L1230.75,246.90 L1231.75,246.90 L1232.75,246.91 L1233.75,246.91 L1234.75,246.91 L1235.75,246.91 L1236.75,246.91 L1237.75,246.91 L1238.75,246.91 L1239.75,246.91 L1240.75,246.91 L1241.75,246.92 L1242.75,246.92 L1243.75,246.92 L1244.75,246.92 L1245.75,246.92 L1246.75,246.92 L1247.75,246.92 L1248.75,246.92" fill="none" stroke="#f4474c" stroke-width="1.0" stroke-linejoin="round" stroke-linecap="round" opacity="0.85"/>
</g>
<line x1="872.75" y1="128.00" x2="872.75" y2="270.60" stroke="#a4a4a4" stroke-width="1.3"/>
<line x1="872.15" y1="270.00" x2="1249.50" y2="270.00" stroke="#a4a4a4" stroke-width="1.3"/>
<text font-size="15.6" fill="#5e5e5e" stroke="#5e5e5e" stroke-width="0.3" textLength="18.40" lengthAdjust="spacing" transform="translate(839.40 144.90) scale(1 1.12)">80</text>
<text font-size="15.6" fill="#5e5e5e" stroke="#5e5e5e" stroke-width="0.3" textLength="18.40" lengthAdjust="spacing" transform="translate(839.40 170.10) scale(1 1.12)">60</text>
<text font-size="15.6" fill="#5e5e5e" stroke="#5e5e5e" stroke-width="0.3" textLength="18.40" lengthAdjust="spacing" transform="translate(839.40 198.80) scale(1 1.12)">40</text>
<text font-size="15.6" fill="#5e5e5e" stroke="#5e5e5e" stroke-width="0.3" textLength="18.40" lengthAdjust="spacing" transform="translate(839.40 224.80) scale(1 1.12)">20</text>
<text font-size="15.6" fill="#5e5e5e" stroke="#5e5e5e" stroke-width="0.3" textLength="8.80" lengthAdjust="spacing" transform="translate(849.00 252.90) scale(1 1.12)">0</text>
<text font-size="15.6" fill="#5e5e5e" stroke="#5e5e5e" stroke-width="0.3" textLength="26.65" lengthAdjust="spacing" transform="translate(911.15 287.50) scale(1 1.12)">200</text>
<text font-size="15.6" fill="#5e5e5e" stroke="#5e5e5e" stroke-width="0.3" textLength="27.65" lengthAdjust="spacing" transform="translate(977.15 287.50) scale(1 1.12)">400</text>
<text font-size="15.6" fill="#5e5e5e" stroke="#5e5e5e" stroke-width="0.3" textLength="26.90" lengthAdjust="spacing" transform="translate(1045.40 287.50) scale(1 1.12)">600</text>
<text font-size="15.6" fill="#5e5e5e" stroke="#5e5e5e" stroke-width="0.3" textLength="27.65" lengthAdjust="spacing" transform="translate(1110.40 287.50) scale(1 1.12)">800</text>
<text font-size="15.6" fill="#5e5e5e" stroke="#5e5e5e" stroke-width="0.3" textLength="35.15" lengthAdjust="spacing" transform="translate(1173.40 287.50) scale(1 1.12)">1000</text>
<text font-size="15.6" fill="#444444" font-weight="bold" stroke="#444444" stroke-width="0.3" textLength="69.00" lengthAdjust="spacing" transform="translate(1021.20 323.75) scale(1 1.19)">TIME(S)</text>
<text font-size="15.4" fill="#444444" font-weight="bold" stroke="#444444" stroke-width="0.3" textLength="139.50" lengthAdjust="spacing" transform="translate(823.20 268.40) rotate(-90) scale(1 1.2)">RESPONSE (RU)</text>
<g filter="url(#bl)">
<path d="M881.50,633.22 L882.65,632.87 L883.80,628.38 L884.95,634.54 L886.10,624.11 L887.25,631.18 L888.40,629.55 L889.55,631.64 L890.70,624.91 L891.85,633.76 L893.00,629.45 L894.15,631.46 L895.30,629.35 L896.45,628.72 L897.60,630.90 L898.75,631.84 L899.90,630.28 L901.05,629.30 L902.20,631.48 L903.35,627.44 L904.50,625.77 L905.65,630.72 L906.80,627.96 L907.95,624.72 L909.10,627.59 L910.25,628.49 L911.40,626.61 L912.55,625.83 L913.70,629.79 L914.85,632.03 L916.00,629.10 L917.15,627.77 L918.30,630.70 L919.45,631.56 L920.60,628.92 L921.75,630.40 L922.90,632.40 L924.05,629.16 L925.20,627.59 L926.35,630.60 L927.50,630.34 L928.65,632.55 L929.80,626.37 L930.95,627.98 L932.10,627.53 L933.25,625.21 L934.40,630.03 L935.55,631.07 L936.70,627.78 L937.85,633.29 L939.00,631.83 L940.15,631.33 L941.30,630.74 L942.45,632.18 L943.60,634.59 L944.75,631.29 L945.90,631.26 L947.05,625.12 L948.20,630.60 L949.35,629.05 L950.50,631.73 L951.65,628.56 L952.80,629.65 L953.95,630.59 L955.10,627.43 L956.25,635.13 L957.40,629.43 L958.55,630.98 L959.70,628.35 L960.85,632.52 L962.00,631.27 L963.15,629.24 L964.30,631.34 L965.45,632.97 L966.60,634.34 L967.75,625.62 L968.90,631.99 L970.05,630.91 L971.20,629.46 L972.35,627.09 L973.50,632.96 L974.65,626.43 L975.80,631.17 L976.95,633.07 L978.10,625.55 L979.25,628.92 L980.40,626.31 L981.55,630.33 L982.70,633.63 L983.85,634.95 L985.00,625.09 L986.15,628.21 L987.30,631.52 L988.45,633.79 L989.60,630.79 L990.75,627.77 L991.90,630.47 L993.05,629.66 L994.20,629.17 L995.35,627.80 L996.50,630.70 L997.65,630.50 L998.80,629.46 L999.95,629.13 L1001.10,626.37 L1002.25,628.44 L1003.40,632.83 L1004.55,629.21 L1005.70,625.97 L1006.85,633.16 L1008.00,631.07 L1009.15,635.16 L1010.30,629.86 L1011.45,628.50 L1012.60,625.95 L1013.75,633.13 L1014.90,636.36 L1016.05,627.57 L1017.20,628.02 L1018.35,631.25 L1019.50,627.55 L1020.65,629.00 L1021.80,628.79 L1022.95,630.20 L1024.10,632.54 L1025.25,629.76 L1026.40,632.08 L1027.55,628.61 L1028.70,630.55 L1029.85,624.16 L1031.00,625.94 L1032.15,631.76 L1033.30,628.17 L1034.45,631.20 L1035.60,631.11 L1036.75,633.13 L1037.90,631.80 L1039.05,632.34 L1040.20,629.41 L1041.35,627.89 L1042.50,627.80 L1043.65,627.83 L1044.80,626.77 L1045.95,628.28 L1047.10,629.46 L1048.25,630.35 L1049.40,628.82 L1050.55,624.71 L1051.70,629.51 L1052.85,630.28 L1054.00,632.51 L1055.15,631.20 L1056.30,628.03 L1057.45,627.82 L1058.60,634.91 L1059.75,631.66 L1060.90,635.24 L1062.05,635.22 L1063.20,627.58 L1064.35,630.70 L1065.50,630.89 L1066.65,631.15 L1067.80,631.10 L1068.95,630.22 L1070.10,630.15 L1071.25,625.81 L1072.40,629.27 L1073.55,627.76 L1074.70,630.03 L1075.85,628.49 L1077.00,631.30 L1078.15,631.82 L1079.30,630.50 L1080.45,630.52 L1081.60,627.43 L1082.75,630.27 L1083.90,629.27 L1085.05,628.42 L1086.20,630.71 L1087.35,629.74 L1088.50,631.21 L1089.65,626.26 L1090.80,632.00 L1091.95,627.72 L1093.10,627.80 L1094.25,629.19 L1095.40,628.24 L1096.55,630.45 L1097.70,628.21 L1098.85,626.93 L1100.00,627.51 L1101.15,633.10 L1102.30,629.81 L1103.45,626.67 L1104.60,629.72 L1105.75,625.67 L1106.90,634.34 L1108.05,625.75 L1109.20,630.94 L1110.35,631.11 L1111.50,625.94 L1112.65,630.48 L1113.80,632.28 L1114.95,630.91 L1116.10,630.38 L1117.25,632.16 L1118.40,630.12 L1119.55,630.57 L1120.70,629.37 L1121.85,631.34 L1123.00,627.26 L1124.15,631.75 L1125.30,628.39 L1126.45,626.87 L1127.60,630.65 L1128.75,634.09 L1129.90,632.19 L1131.05,628.36 L1132.20,631.51 L1133.35,628.52 L1134.50,629.38 L1135.65,629.93 L1136.80,623.69 L1137.95,630.20 L1139.10,627.03 L1140.25,627.89 L1141.40,625.88 L1142.55,625.77 L1143.70,627.25 L1144.85,631.84 L1146.00,634.02 L1147.15,629.63 L1148.30,632.53 L1149.45,629.02 L1150.60,624.74 L1151.75,630.09 L1152.90,630.86 L1154.05,628.59 L1155.20,630.48 L1156.35,631.18 L1157.50,627.46 L1158.65,625.87 L1159.80,629.13 L1160.95,629.15 L1162.10,628.79 L1163.25,632.26 L1164.40,634.17 L1165.55,628.62 L1166.70,631.51 L1167.85,632.14 L1169.00,631.55 L1170.15,632.42 L1171.30,628.69 L1172.45,631.62 L1173.60,634.95 L1174.75,631.78 L1175.90,628.09 L1177.05,631.28 L1178.20,632.97 L1179.35,630.66 L1180.50,631.92 L1181.65,633.70 L1182.80,626.46 L1183.95,631.00 L1185.10,629.66 L1186.25,626.61 L1187.40,632.86 L1188.55,630.60 L1189.70,626.68 L1190.85,631.26 L1192.00,628.58 L1193.15,624.77 L1194.30,627.91 L1195.45,630.38 L1196.60,631.35 L1197.75,630.13 L1198.90,627.61 L1200.05,630.92 L1201.20,629.15 L1202.35,632.75 L1203.50,630.09 L1204.65,630.46 L1205.80,631.10 L1206.95,626.96 L1208.10,627.86 L1209.25,633.66 L1210.40,630.57 L1211.55,628.97 L1212.70,630.59 L1213.85,628.45 L1215.00,630.42 L1216.15,627.97 L1217.30,630.42 L1218.45,625.61 L1219.60,633.15 L1220.75,628.37 L1221.90,625.60 L1223.05,629.12 L1224.20,628.74 L1225.35,630.10 L1226.50,626.73" fill="none" stroke="#f0d232" stroke-width="0.9" stroke-linejoin="round" stroke-linecap="round" opacity="0.75"/>
<path d="M881.50,633.78 L882.65,631.81 L883.80,630.54 L884.95,636.11 L886.10,629.76 L887.25,628.25 L888.40,629.91 L889.55,625.83 L890.70,630.82 L891.85,629.24 L893.00,630.43 L894.15,630.51 L895.30,626.67 L896.45,633.11 L897.60,626.79 L898.75,631.95 L899.90,625.22 L901.05,630.55 L902.20,627.32 L903.35,629.66 L904.50,627.77 L905.65,623.62 L906.80,626.52 L907.95,629.73 L909.10,631.23 L910.25,625.56 L911.40,623.78 L912.55,627.18 L913.70,628.97 L914.85,627.83 L916.00,627.35 L917.15,631.85 L918.30,632.16 L919.45,631.55 L920.60,627.00 L921.75,629.75 L922.90,629.02 L924.05,625.67 L925.20,631.93 L926.35,629.78 L927.50,628.23 L928.65,633.38 L929.80,631.61 L930.95,631.86 L932.10,632.79 L933.25,631.49 L934.40,626.11 L935.55,628.49 L936.70,632.26 L937.85,627.46 L939.00,629.64 L940.15,630.62 L941.30,633.45 L942.45,633.06 L943.60,631.97 L944.75,629.03 L945.90,632.02 L947.05,630.97 L948.20,629.10 L949.35,633.22 L950.50,630.88 L951.65,627.49 L952.80,632.97 L953.95,628.84 L955.10,631.14 L956.25,625.40 L957.40,629.48 L958.55,626.97 L959.70,626.89 L960.85,624.35 L962.00,635.34 L963.15,629.12 L964.30,630.17 L965.45,632.53 L966.60,629.20 L967.75,630.92 L968.90,625.84 L970.05,630.06 L971.20,628.40 L972.35,630.88 L973.50,630.02 L974.65,625.77 L975.80,624.50 L976.95,626.77 L978.10,631.52 L979.25,632.37 L980.40,630.62 L981.55,624.05 L982.70,622.23 L983.85,627.83 L985.00,628.62 L986.15,627.88 L987.30,630.48 L988.45,629.05 L989.60,626.30 L990.75,627.13 L991.90,629.90 L993.05,629.71 L994.20,629.31 L995.35,635.66 L996.50,628.80 L997.65,629.84 L998.80,626.81 L999.95,628.53 L1001.10,630.93 L1002.25,631.04 L1003.40,629.08 L1004.55,629.00 L1005.70,629.65 L1006.85,624.40 L1008.00,620.62 L1009.15,635.77 L1010.30,631.75 L1011.45,629.35 L1012.60,624.79 L1013.75,626.04 L1014.90,633.18 L1016.05,621.94 L1017.20,628.62 L1018.35,631.85 L1019.50,629.89 L1020.65,631.55 L1021.80,629.14 L1022.95,635.99 L1024.10,626.71 L1025.25,625.81 L1026.40,630.24 L1027.55,633.38 L1028.70,629.35 L1029.85,632.34 L1031.00,628.06 L1032.15,626.29 L1033.30,633.30 L1034.45,633.75 L1035.60,633.66 L1036.75,628.31 L1037.90,626.37 L1039.05,626.33 L1040.20,628.89 L1041.35,631.08 L1042.50,630.88 L1043.65,625.61 L1044.80,632.40 L1045.95,629.55 L1047.10,629.74 L1048.25,629.44 L1049.40,628.95 L1050.55,631.11 L1051.70,629.84 L1052.85,630.11 L1054.00,627.63 L1055.15,630.57 L1056.30,629.17 L1057.45,623.77 L1058.60,630.81 L1059.75,628.78 L1060.90,632.01 L1062.05,629.06 L1063.20,629.24 L1064.35,630.07 L1065.50,629.47 L1066.65,628.29 L1067.80,624.64 L1068.95,634.50 L1070.10,625.22 L1071.25,628.57 L1072.40,631.27 L1073.55,630.53 L1074.70,631.04 L1075.85,631.59 L1077.00,632.93 L1078.15,630.31 L1079.30,637.38 L1080.45,626.75 L1081.60,630.12 L1082.75,628.52 L1083.90,633.29 L1085.05,630.28 L1086.20,633.45 L1087.35,627.57 L1088.50,627.57 L1089.65,631.46 L1090.80,630.97 L1091.95,634.81 L1093.10,632.29 L1094.25,630.12 L1095.40,628.61 L1096.55,630.08 L1097.70,629.02 L1098.85,632.43 L1100.00,629.52 L1101.15,629.03 L1102.30,628.87 L1103.45,628.34 L1104.60,634.08 L1105.75,631.39 L1106.90,632.04 L1108.05,627.85 L1109.20,626.73 L1110.35,628.73 L1111.50,630.16 L1112.65,628.56 L1113.80,628.99 L1114.95,632.11 L1116.10,626.63 L1117.25,621.36 L1118.40,628.34 L1119.55,627.72 L1120.70,629.99 L1121.85,626.34 L1123.00,629.02 L1124.15,631.38 L1125.30,629.58 L1126.45,627.02 L1127.60,627.83 L1128.75,629.84 L1129.90,630.81 L1131.05,631.77 L1132.20,629.11 L1133.35,625.93 L1134.50,633.36 L1135.65,630.31 L1136.80,630.60 L1137.95,630.33 L1139.10,626.69 L1140.25,628.63 L1141.40,630.20 L1142.55,632.30 L1143.70,629.66 L1144.85,621.04 L1146.00,628.85 L1147.15,630.46 L1148.30,633.01 L1149.45,631.43 L1150.60,636.25 L1151.75,633.36 L1152.90,633.15 L1154.05,632.06 L1155.20,625.75 L1156.35,631.80 L1157.50,631.13 L1158.65,628.07 L1159.80,631.09 L1160.95,630.63 L1162.10,628.24 L1163.25,629.17 L1164.40,628.79 L1165.55,630.12 L1166.70,628.35 L1167.85,626.51 L1169.00,624.30 L1170.15,628.74 L1171.30,624.93 L1172.45,628.19 L1173.60,630.90 L1174.75,629.56 L1175.90,629.20 L1177.05,629.69 L1178.20,633.75 L1179.35,626.50 L1180.50,631.91 L1181.65,625.40 L1182.80,628.23 L1183.95,629.94 L1185.10,627.19 L1186.25,630.06 L1187.40,631.48 L1188.55,626.26 L1189.70,629.29 L1190.85,628.48 L1192.00,624.24 L1193.15,628.99 L1194.30,627.34 L1195.45,633.13 L1196.60,627.13 L1197.75,634.11 L1198.90,628.05 L1200.05,634.75 L1201.20,630.96 L1202.35,630.73 L1203.50,631.68 L1204.65,631.95 L1205.80,633.30 L1206.95,634.20 L1208.10,628.56 L1209.25,626.11 L1210.40,622.26 L1211.55,628.45 L1212.70,631.56 L1213.85,630.53 L1215.00,629.81 L1216.15,628.55 L1217.30,627.76 L1218.45,628.73 L1219.60,630.55 L1220.75,624.72 L1221.90,631.48 L1223.05,625.55 L1224.20,629.07 L1225.35,627.78 L1226.50,628.50" fill="none" stroke="#5fd04a" stroke-width="0.9" stroke-linejoin="round" stroke-linecap="round" opacity="0.8"/>
<path d="M881.50,628.59 L882.65,627.96 L883.80,626.58 L884.95,630.65 L886.10,629.42 L887.25,627.97 L888.40,625.43 L889.55,627.26 L890.70,628.33 L891.85,629.94 L893.00,627.66 L894.15,630.39 L895.30,628.60 L896.45,626.97 L897.60,623.19 L898.75,626.18 L899.90,625.59 L901.05,628.07 L902.20,628.96 L903.35,630.92 L904.50,628.33 L905.65,626.22 L906.80,632.70 L907.95,628.93 L909.10,627.87 L910.25,627.88 L911.40,625.86 L912.55,629.54 L913.70,629.05 L914.85,631.30 L916.00,623.67 L917.15,629.97 L918.30,630.69 L919.45,627.85 L920.60,627.55 L921.75,628.28 L922.90,626.08 L924.05,628.11 L925.20,627.77 L926.35,629.62 L927.50,628.36 L928.65,624.86 L929.80,628.44 L930.95,631.00 L932.10,626.67 L933.25,626.99 L934.40,628.43 L935.55,625.95 L936.70,627.38 L937.85,628.50 L939.00,625.96 L940.15,628.95 L941.30,629.16 L942.45,626.06 L943.60,628.46 L944.75,630.40 L945.90,626.86 L947.05,629.22 L948.20,629.60 L949.35,627.98 L950.50,630.23 L951.65,629.13 L952.80,626.59 L953.95,629.39 L955.10,630.02 L956.25,629.91 L957.40,627.24 L958.55,629.28 L959.70,630.97 L960.85,628.86 L962.00,630.62 L963.15,630.84 L964.30,628.37 L965.45,629.66 L966.60,627.91 L967.75,630.42 L968.90,628.28 L970.05,627.43 L971.20,628.40 L972.35,628.32 L973.50,629.16 L974.65,629.31 L975.80,626.30 L976.95,627.25 L978.10,629.12 L979.25,629.35 L980.40,628.62 L981.55,633.33 L982.70,630.53 L983.85,628.33 L985.00,629.81 L986.15,630.94 L987.30,629.15 L988.45,625.25 L989.60,628.66 L990.75,628.58 L991.90,632.42 L993.05,625.09 L994.20,631.35 L995.35,628.20 L996.50,630.22 L997.65,627.96 L998.80,628.82 L999.95,630.59 L1001.10,628.66 L1002.25,630.45 L1003.40,628.36 L1004.55,627.75 L1005.70,628.11 L1006.85,627.58 L1008.00,628.29 L1009.15,631.03 L1010.30,626.36 L1011.45,625.45 L1012.60,628.49 L1013.75,631.63 L1014.90,630.46 L1016.05,630.97 L1017.20,630.84 L1018.35,627.18 L1019.50,628.75 L1020.65,623.62 L1021.80,627.41 L1022.95,629.66 L1024.10,625.66 L1025.25,624.73 L1026.40,626.14 L1027.55,628.95 L1028.70,630.70 L1029.85,633.33 L1031.00,631.19 L1032.15,625.75 L1033.30,624.27 L1034.45,628.84 L1035.60,630.52 L1036.75,625.58 L1037.90,627.61 L1039.05,627.74 L1040.20,628.64 L1041.35,628.25 L1042.50,629.54 L1043.65,630.54 L1044.80,628.73 L1045.95,629.98 L1047.10,632.28 L1048.25,626.72 L1049.40,626.67 L1050.55,629.55 L1051.70,632.04 L1052.85,628.93 L1054.00,630.64 L1055.15,627.95 L1056.30,630.32 L1057.45,627.47 L1058.60,629.88 L1059.75,629.37 L1060.90,629.37 L1062.05,631.19 L1063.20,630.62 L1064.35,627.55 L1065.50,630.29 L1066.65,625.52 L1067.80,630.49 L1068.95,633.75 L1070.10,629.65 L1071.25,629.62 L1072.40,628.80 L1073.55,630.23 L1074.70,627.86 L1075.85,629.94 L1077.00,628.20 L1078.15,627.92 L1079.30,628.94 L1080.45,628.61 L1081.60,625.51 L1082.75,632.56 L1083.90,628.98 L1085.05,625.59 L1086.20,630.72 L1087.35,628.68 L1088.50,629.11 L1089.65,630.04 L1090.80,627.08 L1091.95,623.29 L1093.10,628.55 L1094.25,636.69 L1095.40,630.58 L1096.55,627.33 L1097.70,628.24 L1098.85,629.47 L1100.00,628.15 L1101.15,628.27 L1102.30,629.20 L1103.45,626.89 L1104.60,631.66 L1105.75,627.03 L1106.90,628.80 L1108.05,628.12 L1109.20,627.42 L1110.35,629.72 L1111.50,630.60 L1112.65,631.42 L1113.80,629.80 L1114.95,627.90 L1116.10,630.32 L1117.25,626.06 L1118.40,628.81 L1119.55,629.69 L1120.70,629.76 L1121.85,626.59 L1123.00,625.95 L1124.15,631.78 L1125.30,627.76 L1126.45,625.66 L1127.60,626.41 L1128.75,628.73 L1129.90,630.88 L1131.05,628.69 L1132.20,630.91 L1133.35,629.11 L1134.50,629.56 L1135.65,630.50 L1136.80,627.98 L1137.95,629.22 L1139.10,627.96 L1140.25,627.49 L1141.40,629.88 L1142.55,627.15 L1143.70,628.81 L1144.85,627.20 L1146.00,628.49 L1147.15,627.68 L1148.30,630.67 L1149.45,628.79 L1150.60,628.79 L1151.75,631.68 L1152.90,623.29 L1154.05,626.57 L1155.20,623.56 L1156.35,628.60 L1157.50,629.42 L1158.65,629.79 L1159.80,629.10 L1160.95,626.99 L1162.10,631.83 L1163.25,629.15 L1164.40,628.10 L1165.55,626.51 L1166.70,629.36 L1167.85,627.67 L1169.00,627.74 L1170.15,628.95 L1171.30,628.97 L1172.45,627.05 L1173.60,630.88 L1174.75,626.71 L1175.90,626.49 L1177.05,629.12 L1178.20,628.79 L1179.35,628.68 L1180.50,627.79 L1181.65,628.62 L1182.80,627.50 L1183.95,625.50 L1185.10,629.90 L1186.25,626.67 L1187.40,628.12 L1188.55,629.89 L1189.70,628.58 L1190.85,633.60 L1192.00,625.95 L1193.15,627.15 L1194.30,628.70 L1195.45,631.04 L1196.60,628.07 L1197.75,625.89 L1198.90,630.64 L1200.05,626.83 L1201.20,628.16 L1202.35,630.15 L1203.50,627.29 L1204.65,627.69 L1205.80,629.42 L1206.95,628.15 L1208.10,629.05 L1209.25,626.77 L1210.40,628.30 L1211.55,626.50 L1212.70,625.64 L1213.85,631.76 L1215.00,629.35 L1216.15,630.21 L1217.30,626.72 L1218.45,628.46 L1219.60,628.13 L1220.75,625.89 L1221.90,629.52 L1223.05,627.18 L1224.20,628.13 L1225.35,625.71 L1226.50,630.34" fill="none" stroke="#43c06a" stroke-width="0.9" stroke-linejoin="round" stroke-linecap="round" opacity="0.6"/>
<path d="M883.50,628.70 L1227.00,628.70" fill="none" stroke="#f0281e" stroke-width="1.8" stroke-linejoin="round" stroke-linecap="round" opacity="0.9"/>
<path d="M881.50,628.26 L882.65,628.58 L883.80,630.17 L884.95,628.09 L886.10,628.88 L887.25,628.88 L888.40,630.08 L889.55,628.69 L890.70,629.70 L891.85,629.41 L893.00,628.28 L894.15,629.54 L895.30,629.77 L896.45,627.73 L897.60,629.54 L898.75,632.34 L899.90,628.56 L901.05,629.48 L902.20,627.54 L903.35,629.30 L904.50,628.27 L905.65,629.60 L906.80,628.80 L907.95,627.70 L909.10,629.93 L910.25,628.64 L911.40,627.85 L912.55,628.92 L913.70,627.90 L914.85,629.24 L916.00,628.79 L917.15,628.49 L918.30,629.51 L919.45,627.60 L920.60,629.81 L921.75,626.88 L922.90,630.43 L924.05,629.03 L925.20,628.59 L926.35,628.13 L927.50,629.39 L928.65,628.70 L929.80,628.68 L930.95,629.87 L932.10,628.42 L933.25,628.62 L934.40,629.28 L935.55,629.91 L936.70,628.70 L937.85,629.01 L939.00,628.90 L940.15,629.58 L941.30,630.32 L942.45,627.93 L943.60,628.72 L944.75,628.81 L945.90,629.43 L947.05,630.33 L948.20,628.84 L949.35,629.06 L950.50,629.97 L951.65,627.62 L952.80,628.09 L953.95,628.41 L955.10,628.84 L956.25,629.08 L957.40,628.34 L958.55,630.58 L959.70,628.15 L960.85,628.65 L962.00,629.92 L963.15,629.61 L964.30,628.83 L965.45,629.22 L966.60,629.66 L967.75,628.83 L968.90,629.49 L970.05,627.94 L971.20,628.92 L972.35,627.22 L973.50,627.96 L974.65,627.71 L975.80,630.08 L976.95,628.38 L978.10,629.49 L979.25,627.92 L980.40,628.64 L981.55,628.56 L982.70,627.99 L983.85,629.68 L985.00,627.19 L986.15,629.45 L987.30,630.28 L988.45,628.01 L989.60,628.86 L990.75,627.28 L991.90,628.79 L993.05,627.10 L994.20,629.44 L995.35,628.32 L996.50,626.98 L997.65,627.52 L998.80,627.23 L999.95,628.52 L1001.10,629.64 L1002.25,628.40 L1003.40,627.62 L1004.55,627.96 L1005.70,628.90 L1006.85,628.38 L1008.00,629.36 L1009.15,629.18 L1010.30,626.73 L1011.45,629.94 L1012.60,627.14 L1013.75,628.55 L1014.90,629.93 L1016.05,627.13 L1017.20,626.91 L1018.35,627.64 L1019.50,627.67 L1020.65,628.61 L1021.80,628.22 L1022.95,628.25 L1024.10,628.26 L1025.25,628.56 L1026.40,627.89 L1027.55,629.07 L1028.70,628.74 L1029.85,627.73 L1031.00,630.55 L1032.15,627.47 L1033.30,629.47 L1034.45,628.00 L1035.60,629.10 L1036.75,629.26 L1037.90,629.60 L1039.05,630.16 L1040.20,627.04 L1041.35,631.60 L1042.50,629.16 L1043.65,627.94 L1044.80,627.40 L1045.95,631.09 L1047.10,630.40 L1048.25,628.75 L1049.40,629.52 L1050.55,630.08 L1051.70,628.87 L1052.85,628.35 L1054.00,628.74 L1055.15,629.61 L1056.30,628.79 L1057.45,627.55 L1058.60,629.53 L1059.75,627.05 L1060.90,628.03 L1062.05,630.01 L1063.20,629.01 L1064.35,629.01 L1065.50,628.88 L1066.65,629.80 L1067.80,628.72 L1068.95,626.83 L1070.10,629.02 L1071.25,625.72 L1072.40,626.73 L1073.55,630.35 L1074.70,629.81 L1075.85,628.31 L1077.00,628.70 L1078.15,628.86 L1079.30,629.77 L1080.45,628.00 L1081.60,627.89 L1082.75,628.14 L1083.90,628.91 L1085.05,629.03 L1086.20,628.66 L1087.35,629.53 L1088.50,627.75 L1089.65,628.69 L1090.80,627.35 L1091.95,627.77 L1093.10,629.99 L1094.25,628.45 L1095.40,627.77 L1096.55,628.81 L1097.70,627.77 L1098.85,629.36 L1100.00,629.62 L1101.15,629.79 L1102.30,627.71 L1103.45,628.62 L1104.60,630.61 L1105.75,628.56 L1106.90,630.03 L1108.05,630.29 L1109.20,627.39 L1110.35,629.98 L1111.50,629.52 L1112.65,629.65 L1113.80,630.46 L1114.95,629.23 L1116.10,628.85 L1117.25,629.38 L1118.40,628.43 L1119.55,629.27 L1120.70,626.77 L1121.85,630.50 L1123.00,628.24 L1124.15,629.31 L1125.30,629.08 L1126.45,628.88 L1127.60,628.88 L1128.75,628.84 L1129.90,627.14 L1131.05,628.23 L1132.20,629.96 L1133.35,627.75 L1134.50,627.72 L1135.65,630.88 L1136.80,629.98 L1137.95,630.33 L1139.10,628.76 L1140.25,629.04 L1141.40,629.53 L1142.55,629.33 L1143.70,628.68 L1144.85,627.31 L1146.00,628.04 L1147.15,627.26 L1148.30,630.33 L1149.45,628.36 L1150.60,628.58 L1151.75,629.04 L1152.90,628.77 L1154.05,629.28 L1155.20,628.13 L1156.35,627.24 L1157.50,630.50 L1158.65,628.04 L1159.80,628.28 L1160.95,627.96 L1162.10,628.20 L1163.25,628.77 L1164.40,629.49 L1165.55,627.70 L1166.70,629.03 L1167.85,628.07 L1169.00,629.93 L1170.15,627.52 L1171.30,628.84 L1172.45,629.44 L1173.60,627.39 L1174.75,628.84 L1175.90,628.88 L1177.05,627.94 L1178.20,628.52 L1179.35,629.71 L1180.50,628.97 L1181.65,628.32 L1182.80,628.52 L1183.95,629.17 L1185.10,629.98 L1186.25,629.51 L1187.40,629.45 L1188.55,630.27 L1189.70,627.20 L1190.85,627.30 L1192.00,626.48 L1193.15,629.54 L1194.30,626.46 L1195.45,628.67 L1196.60,627.42 L1197.75,627.34 L1198.90,628.06 L1200.05,628.46 L1201.20,629.43 L1202.35,627.22 L1203.50,629.03 L1204.65,629.40 L1205.80,628.85 L1206.95,628.87 L1208.10,629.94 L1209.25,628.93 L1210.40,628.69 L1211.55,628.38 L1212.70,629.35 L1213.85,628.42 L1215.00,629.35 L1216.15,628.81 L1217.30,629.81 L1218.45,627.93 L1219.60,628.78 L1220.75,629.05 L1221.90,629.11 L1223.05,629.82 L1224.20,629.09 L1225.35,629.59 L1226.50,630.63" fill="none" stroke="#f23a2a" stroke-width="0.9" stroke-linejoin="round" stroke-linecap="round" opacity="0.9"/>
<path d="M881.50,628.23 L882.65,627.38 L883.80,628.91 L884.95,628.42 L886.10,628.75 L887.25,628.92 L888.40,629.19 L889.55,628.89 L890.70,628.02 L891.85,628.16 L893.00,628.41 L894.15,628.00 L895.30,627.91 L896.45,629.54 L897.60,628.47 L898.75,629.57 L899.90,627.50 L901.05,628.06 L902.20,627.76 L903.35,627.79 L904.50,627.87 L905.65,628.00 L906.80,627.76 L907.95,629.49 L909.10,628.62 L910.25,627.52 L911.40,627.67 L912.55,628.67 L913.70,628.52 L914.85,627.63 L916.00,628.81 L917.15,626.99 L918.30,627.73 L919.45,629.47 L920.60,626.08 L921.75,627.94 L922.90,628.86 L924.05,627.99 L925.20,627.49 L926.35,627.41 L927.50,626.49 L928.65,627.07 L929.80,628.15 L930.95,627.66 L932.10,628.09 L933.25,627.98 L934.40,628.32 L935.55,626.81 L936.70,627.86 L937.85,627.84 L939.00,627.86 L940.15,627.41 L941.30,626.40 L942.45,628.59 L943.60,628.73 L944.75,629.93 L945.90,628.66 L947.05,629.37 L948.20,628.56 L949.35,627.80 L950.50,628.48 L951.65,627.20 L952.80,628.29 L953.95,628.01 L955.10,627.28 L956.25,629.05 L957.40,628.97 L958.55,628.46 L959.70,628.73 L960.85,629.38 L962.00,628.00 L963.15,627.05 L964.30,627.36 L965.45,628.64 L966.60,628.28 L967.75,626.95 L968.90,629.13 L970.05,628.27 L971.20,629.35 L972.35,628.98 L973.50,627.77 L974.65,628.18 L975.80,627.54 L976.95,627.45 L978.10,627.87 L979.25,628.49 L980.40,629.17 L981.55,627.42 L982.70,628.65 L983.85,628.14 L985.00,627.94 L986.15,628.99 L987.30,627.84 L988.45,629.18 L989.60,627.86 L990.75,627.40 L991.90,628.71 L993.05,626.99 L994.20,627.20 L995.35,627.97 L996.50,628.12 L997.65,627.91 L998.80,626.59 L999.95,627.08 L1001.10,628.52 L1002.25,628.54 L1003.40,627.34 L1004.55,628.33 L1005.70,628.28 L1006.85,628.91 L1008.00,627.55 L1009.15,629.26 L1010.30,627.89 L1011.45,629.25 L1012.60,628.84 L1013.75,627.34 L1014.90,627.88 L1016.05,628.35 L1017.20,628.92 L1018.35,627.05 L1019.50,627.74 L1020.65,628.61 L1021.80,628.50 L1022.95,627.31 L1024.10,627.43 L1025.25,628.46 L1026.40,627.33 L1027.55,628.31 L1028.70,628.84 L1029.85,628.14 L1031.00,626.04 L1032.15,629.04 L1033.30,629.02 L1034.45,629.23 L1035.60,628.80 L1036.75,626.82 L1037.90,629.23 L1039.05,628.39 L1040.20,628.86 L1041.35,628.00 L1042.50,627.94 L1043.65,627.94 L1044.80,629.37 L1045.95,628.34 L1047.10,627.97 L1048.25,627.13 L1049.40,628.49 L1050.55,628.14 L1051.70,628.25 L1052.85,628.90 L1054.00,628.69 L1055.15,628.13 L1056.30,628.30 L1057.45,628.20 L1058.60,628.69 L1059.75,628.67 L1060.90,628.24 L1062.05,627.46 L1063.20,628.79 L1064.35,628.83 L1065.50,627.29 L1066.65,628.43 L1067.80,627.83 L1068.95,626.50 L1070.10,628.09 L1071.25,628.87 L1072.40,627.55 L1073.55,627.57 L1074.70,628.92 L1075.85,627.26 L1077.00,627.39 L1078.15,627.87 L1079.30,628.61 L1080.45,628.61 L1081.60,627.71 L1082.75,627.88 L1083.90,628.19 L1085.05,627.82 L1086.20,627.44 L1087.35,627.27 L1088.50,629.07 L1089.65,627.95 L1090.80,630.35 L1091.95,628.60 L1093.10,627.53 L1094.25,628.12 L1095.40,628.38 L1096.55,628.43 L1097.70,628.47 L1098.85,628.47 L1100.00,628.01 L1101.15,628.62 L1102.30,629.82 L1103.45,627.77 L1104.60,627.82 L1105.75,628.67 L1106.90,629.09 L1108.05,628.75 L1109.20,629.07 L1110.35,628.08 L1111.50,627.94 L1112.65,628.63 L1113.80,628.64 L1114.95,629.42 L1116.10,629.33 L1117.25,626.69 L1118.40,628.72 L1119.55,627.59 L1120.70,626.47 L1121.85,628.42 L1123.00,627.98 L1124.15,627.84 L1125.30,627.11 L1126.45,627.32 L1127.60,627.95 L1128.75,626.95 L1129.90,628.03 L1131.05,628.20 L1132.20,627.99 L1133.35,628.34 L1134.50,628.06 L1135.65,627.20 L1136.80,627.30 L1137.95,628.21 L1139.10,628.86 L1140.25,628.22 L1141.40,627.71 L1142.55,628.24 L1143.70,626.70 L1144.85,627.33 L1146.00,627.81 L1147.15,628.05 L1148.30,627.85 L1149.45,627.89 L1150.60,627.18 L1151.75,627.66 L1152.90,628.30 L1154.05,626.67 L1155.20,627.16 L1156.35,627.83 L1157.50,629.26 L1158.65,628.63 L1159.80,629.32 L1160.95,629.15 L1162.10,627.75 L1163.25,628.05 L1164.40,627.18 L1165.55,630.22 L1166.70,628.67 L1167.85,628.56 L1169.00,628.62 L1170.15,628.46 L1171.30,628.26 L1172.45,628.32 L1173.60,629.04 L1174.75,627.49 L1175.90,627.29 L1177.05,628.10 L1178.20,629.01 L1179.35,628.29 L1180.50,627.94 L1181.65,628.75 L1182.80,628.19 L1183.95,626.62 L1185.10,627.32 L1186.25,626.47 L1187.40,627.93 L1188.55,627.75 L1189.70,628.44 L1190.85,629.75 L1192.00,627.64 L1193.15,628.11 L1194.30,627.81 L1195.45,625.91 L1196.60,627.51 L1197.75,627.54 L1198.90,628.32 L1200.05,627.45 L1201.20,627.10 L1202.35,630.46 L1203.50,628.05 L1204.65,627.41 L1205.80,627.51 L1206.95,627.87 L1208.10,628.74 L1209.25,629.21 L1210.40,627.09 L1211.55,629.01 L1212.70,628.15 L1213.85,628.39 L1215.00,628.86 L1216.15,627.35 L1217.30,628.77 L1218.45,627.09 L1219.60,627.74 L1220.75,627.44 L1221.90,629.42 L1223.05,629.38 L1224.20,628.70 L1225.35,628.51 L1226.50,627.69" fill="none" stroke="#f23a2a" stroke-width="0.9" stroke-linejoin="round" stroke-linecap="round" opacity="0.9"/>
<path d="M881.50,624.47 L882.65,624.78 L883.80,612.62 L884.95,619.85 L886.10,599.49 L887.25,587.03 L888.40,585.04 L889.55,576.85 L890.70,570.18 L891.85,565.74 L893.00,557.56 L894.15,553.40 L895.30,551.06 L896.45,546.23 L897.60,543.95 L898.75,541.04 L899.90,539.75 L901.05,536.75 L902.20,530.66 L903.35,533.61 L904.50,528.30 L905.65,528.50 L906.80,527.05 L907.95,530.95 L909.10,528.55 L910.25,528.39 L911.40,530.88 L912.55,529.98 L913.70,525.99 L914.85,521.00 L916.00,526.67 L917.15,523.44 L918.30,525.08 L919.45,527.53 L920.60,523.04 L921.75,524.65 L922.90,526.57 L924.05,525.18 L925.20,523.27 L926.35,526.83 L927.50,524.68 L928.65,526.51 L929.80,522.06 L930.95,523.10 L932.10,525.16 L933.25,524.82 L934.40,523.20 L935.55,521.39 L936.70,520.98 L937.85,518.95 L939.00,518.64 L940.15,522.61 L941.30,520.27 L942.45,516.91 L943.60,520.91 L944.75,523.73 L945.90,524.50 L947.05,516.96 L948.20,518.50 L949.35,521.45 L950.50,518.38 L951.65,518.98 L952.80,518.70 L953.95,518.34 L955.10,515.87 L956.25,520.94 L957.40,516.73 L958.55,519.03 L959.70,523.07 L960.85,521.82 L962.00,518.67 L963.15,518.71 L964.30,517.06 L965.45,518.37 L966.60,519.17 L967.75,522.21 L968.90,518.14 L970.05,520.02 L971.20,523.15 L972.35,525.17 L973.50,525.73 L974.65,531.01 L975.80,531.61 L976.95,534.66 L978.10,536.30 L979.25,533.40 L980.40,541.37 L981.55,542.48 L982.70,540.29 L983.85,543.42 L985.00,545.25 L986.15,544.28 L987.30,550.20 L988.45,550.67 L989.60,552.89 L990.75,555.53 L991.90,550.10 L993.05,557.46 L994.20,556.50 L995.35,559.08 L996.50,559.35 L997.65,559.29 L998.80,556.78 L999.95,564.60 L1001.10,560.13 L1002.25,559.07 L1003.40,565.60 L1004.55,561.83 L1005.70,569.63 L1006.85,568.90 L1008.00,570.39 L1009.15,570.12 L1010.30,569.56 L1011.45,566.35 L1012.60,567.96 L1013.75,571.28 L1014.90,570.95 L1016.05,572.03 L1017.20,570.30 L1018.35,569.97 L1019.50,572.36 L1020.65,574.46 L1021.80,574.42 L1022.95,574.25 L1024.10,574.21 L1025.25,582.72 L1026.40,575.80 L1027.55,575.36 L1028.70,575.81 L1029.85,579.99 L1031.00,577.01 L1032.15,580.89 L1033.30,580.38 L1034.45,576.20 L1035.60,579.63 L1036.75,577.39 L1037.90,580.17 L1039.05,583.37 L1040.20,581.79 L1041.35,580.87 L1042.50,583.38 L1043.65,585.42 L1044.80,587.27 L1045.95,581.76 L1047.10,581.56 L1048.25,586.24 L1049.40,584.35 L1050.55,585.01 L1051.70,587.08 L1052.85,587.45 L1054.00,588.38 L1055.15,590.05 L1056.30,591.60 L1057.45,590.60 L1058.60,588.82 L1059.75,586.96 L1060.90,589.59 L1062.05,586.20 L1063.20,588.33 L1064.35,589.13 L1065.50,589.15 L1066.65,593.11 L1067.80,592.93 L1068.95,594.34 L1070.10,593.27 L1071.25,593.27 L1072.40,592.52 L1073.55,596.81 L1074.70,594.60 L1075.85,592.13 L1077.00,592.71 L1078.15,597.69 L1079.30,592.71 L1080.45,596.63 L1081.60,595.73 L1082.75,596.89 L1083.90,593.74 L1085.05,596.09 L1086.20,596.07 L1087.35,597.38 L1088.50,598.29 L1089.65,595.65 L1090.80,595.88 L1091.95,599.51 L1093.10,595.82 L1094.25,600.11 L1095.40,598.72 L1096.55,598.48 L1097.70,597.02 L1098.85,597.57 L1100.00,603.10 L1101.15,603.91 L1102.30,602.98 L1103.45,604.90 L1104.60,602.61 L1105.75,601.04 L1106.90,599.70 L1108.05,604.08 L1109.20,604.89 L1110.35,605.35 L1111.50,600.99 L1112.65,601.62 L1113.80,599.04 L1114.95,605.79 L1116.10,605.78 L1117.25,605.93 L1118.40,604.57 L1119.55,604.31 L1120.70,603.43 L1121.85,607.09 L1123.00,603.64 L1124.15,606.84 L1125.30,605.57 L1126.45,603.05 L1127.60,601.42 L1128.75,602.68 L1129.90,603.83 L1131.05,601.03 L1132.20,605.70 L1133.35,607.46 L1134.50,607.67 L1135.65,602.42 L1136.80,601.14 L1137.95,608.13 L1139.10,609.72 L1140.25,606.83 L1141.40,609.60 L1142.55,607.84 L1143.70,606.24 L1144.85,609.70 L1146.00,606.55 L1147.15,609.83 L1148.30,611.78 L1149.45,606.93 L1150.60,610.69 L1151.75,603.67 L1152.90,608.33 L1154.05,607.49 L1155.20,612.86 L1156.35,607.57 L1157.50,606.67 L1158.65,612.28 L1159.80,606.43 L1160.95,611.60 L1162.10,608.64 L1163.25,612.59 L1164.40,609.93 L1165.55,611.07 L1166.70,609.47 L1167.85,606.80 L1169.00,604.66 L1170.15,614.13 L1171.30,610.57 L1172.45,607.68 L1173.60,609.17 L1174.75,611.87 L1175.90,607.59 L1177.05,617.69 L1178.20,612.32 L1179.35,611.93 L1180.50,614.90 L1181.65,611.58 L1182.80,608.23 L1183.95,612.16 L1185.10,611.32 L1186.25,612.21 L1187.40,607.89 L1188.55,608.62 L1189.70,612.23 L1190.85,611.27 L1192.00,608.86 L1193.15,611.74 L1194.30,615.24 L1195.45,611.89 L1196.60,615.34 L1197.75,611.50 L1198.90,612.09 L1200.05,609.01 L1201.20,611.38 L1202.35,612.65 L1203.50,614.91 L1204.65,613.99 L1205.80,615.73 L1206.95,609.45 L1208.10,613.27 L1209.25,613.09 L1210.40,612.18 L1211.55,614.01 L1212.70,613.79 L1213.85,616.30 L1215.00,613.69 L1216.15,615.52 L1217.30,611.51 L1218.45,616.29 L1219.60,614.51 L1220.75,618.09 L1221.90,614.48 L1223.05,613.84 L1224.20,615.15 L1225.35,615.13 L1226.50,613.66" fill="none" stroke="#8cc4f2" stroke-width="0.85" stroke-linejoin="round" stroke-linecap="round" opacity="0.8"/>
<path d="M881.50,625.78 L882.65,627.10 L883.80,612.72 L884.95,621.25 L886.10,618.91 L887.25,617.15 L888.40,610.76 L889.55,606.38 L890.70,604.64 L891.85,600.87 L893.00,594.46 L894.15,589.17 L895.30,588.54 L896.45,591.17 L897.60,584.87 L898.75,581.30 L899.90,580.52 L901.05,583.09 L902.20,578.01 L903.35,576.28 L904.50,573.81 L905.65,571.76 L906.80,579.17 L907.95,571.91 L909.10,570.37 L910.25,568.34 L911.40,570.39 L912.55,565.06 L913.70,561.66 L914.85,563.32 L916.00,564.33 L917.15,567.62 L918.30,561.29 L919.45,557.71 L920.60,558.26 L921.75,555.63 L922.90,556.58 L924.05,558.83 L925.20,559.09 L926.35,556.81 L927.50,559.43 L928.65,556.85 L929.80,556.33 L930.95,554.34 L932.10,555.46 L933.25,556.57 L934.40,556.80 L935.55,553.85 L936.70,556.71 L937.85,551.84 L939.00,553.16 L940.15,554.63 L941.30,557.47 L942.45,553.25 L943.60,552.00 L944.75,554.93 L945.90,556.46 L947.05,553.36 L948.20,557.98 L949.35,547.67 L950.50,554.36 L951.65,553.92 L952.80,554.52 L953.95,551.50 L955.10,556.88 L956.25,556.47 L957.40,556.93 L958.55,553.01 L959.70,552.28 L960.85,555.94 L962.00,553.56 L963.15,550.97 L964.30,550.16 L965.45,551.08 L966.60,548.21 L967.75,553.76 L968.90,553.89 L970.05,552.75 L971.20,557.87 L972.35,559.64 L973.50,557.90 L974.65,555.09 L975.80,556.97 L976.95,562.01 L978.10,559.57 L979.25,562.07 L980.40,567.73 L981.55,565.56 L982.70,566.38 L983.85,571.72 L985.00,573.89 L986.15,572.19 L987.30,568.51 L988.45,568.06 L989.60,572.46 L990.75,570.64 L991.90,575.47 L993.05,578.54 L994.20,572.32 L995.35,578.03 L996.50,578.99 L997.65,577.10 L998.80,579.86 L999.95,580.99 L1001.10,583.31 L1002.25,588.10 L1003.40,583.01 L1004.55,581.67 L1005.70,581.11 L1006.85,580.55 L1008.00,584.93 L1009.15,583.81 L1010.30,584.72 L1011.45,583.65 L1012.60,586.53 L1013.75,585.10 L1014.90,585.46 L1016.05,583.62 L1017.20,585.26 L1018.35,583.31 L1019.50,584.75 L1020.65,586.24 L1021.80,584.01 L1022.95,586.17 L1024.10,592.70 L1025.25,587.46 L1026.40,584.15 L1027.55,584.66 L1028.70,587.46 L1029.85,590.41 L1031.00,588.53 L1032.15,590.75 L1033.30,589.87 L1034.45,586.93 L1035.60,592.86 L1036.75,590.60 L1037.90,595.67 L1039.05,591.46 L1040.20,591.53 L1041.35,591.35 L1042.50,592.00 L1043.65,593.75 L1044.80,592.91 L1045.95,595.19 L1047.10,593.27 L1048.25,595.68 L1049.40,593.31 L1050.55,595.97 L1051.70,597.88 L1052.85,595.24 L1054.00,600.43 L1055.15,600.21 L1056.30,597.29 L1057.45,596.71 L1058.60,596.36 L1059.75,596.53 L1060.90,598.06 L1062.05,594.54 L1063.20,598.93 L1064.35,596.08 L1065.50,601.56 L1066.65,600.10 L1067.80,602.28 L1068.95,604.34 L1070.10,599.45 L1071.25,602.93 L1072.40,599.92 L1073.55,601.05 L1074.70,598.40 L1075.85,600.38 L1077.00,603.44 L1078.15,602.33 L1079.30,600.71 L1080.45,601.58 L1081.60,601.10 L1082.75,599.93 L1083.90,598.72 L1085.05,604.76 L1086.20,604.35 L1087.35,602.71 L1088.50,599.31 L1089.65,601.36 L1090.80,605.76 L1091.95,598.88 L1093.10,601.35 L1094.25,601.92 L1095.40,603.99 L1096.55,599.03 L1097.70,602.52 L1098.85,600.33 L1100.00,602.23 L1101.15,600.74 L1102.30,605.77 L1103.45,603.24 L1104.60,603.73 L1105.75,608.40 L1106.90,606.99 L1108.05,613.07 L1109.20,608.01 L1110.35,607.38 L1111.50,607.23 L1112.65,612.81 L1113.80,610.70 L1114.95,607.14 L1116.10,608.87 L1117.25,606.73 L1118.40,608.92 L1119.55,606.98 L1120.70,606.16 L1121.85,608.19 L1123.00,610.61 L1124.15,610.94 L1125.30,611.26 L1126.45,610.29 L1127.60,604.92 L1128.75,608.73 L1129.90,608.04 L1131.05,609.99 L1132.20,613.11 L1133.35,611.00 L1134.50,606.64 L1135.65,610.22 L1136.80,610.01 L1137.95,612.43 L1139.10,610.95 L1140.25,607.23 L1141.40,609.64 L1142.55,610.67 L1143.70,607.48 L1144.85,611.67 L1146.00,611.66 L1147.15,614.93 L1148.30,611.85 L1149.45,610.45 L1150.60,611.33 L1151.75,611.82 L1152.90,614.04 L1154.05,610.75 L1155.20,607.85 L1156.35,618.08 L1157.50,613.31 L1158.65,612.01 L1159.80,617.27 L1160.95,610.97 L1162.10,613.45 L1163.25,614.43 L1164.40,616.77 L1165.55,614.38 L1166.70,616.21 L1167.85,613.16 L1169.00,615.18 L1170.15,613.61 L1171.30,609.41 L1172.45,613.35 L1173.60,612.47 L1174.75,614.84 L1175.90,615.42 L1177.05,620.43 L1178.20,615.03 L1179.35,611.99 L1180.50,615.74 L1181.65,614.12 L1182.80,620.34 L1183.95,617.98 L1185.10,619.10 L1186.25,613.63 L1187.40,613.97 L1188.55,616.50 L1189.70,613.38 L1190.85,614.31 L1192.00,614.11 L1193.15,615.53 L1194.30,611.88 L1195.45,611.18 L1196.60,618.79 L1197.75,614.83 L1198.90,616.62 L1200.05,617.97 L1201.20,616.84 L1202.35,614.59 L1203.50,614.49 L1204.65,619.15 L1205.80,618.45 L1206.95,617.32 L1208.10,620.37 L1209.25,612.99 L1210.40,618.51 L1211.55,618.02 L1212.70,614.08 L1213.85,618.62 L1215.00,618.86 L1216.15,617.34 L1217.30,613.40 L1218.45,616.71 L1219.60,616.97 L1220.75,616.23 L1221.90,616.21 L1223.05,617.50 L1224.20,619.88 L1225.35,617.60 L1226.50,624.03" fill="none" stroke="#5aae7c" stroke-width="0.85" stroke-linejoin="round" stroke-linecap="round" opacity="0.8"/>
<path d="M881.50,629.03 L882.65,632.63 L883.80,615.46 L884.95,629.87 L886.10,625.02 L887.25,616.66 L888.40,618.13 L889.55,613.94 L890.70,609.96 L891.85,611.63 L893.00,610.74 L894.15,600.72 L895.30,607.20 L896.45,602.16 L897.60,606.48 L898.75,602.86 L899.90,601.53 L901.05,603.47 L902.20,599.29 L903.35,603.37 L904.50,597.37 L905.65,597.83 L906.80,596.41 L907.95,600.00 L909.10,597.65 L910.25,598.04 L911.40,598.71 L912.55,598.51 L913.70,599.23 L914.85,599.43 L916.00,596.13 L917.15,593.92 L918.30,593.36 L919.45,596.15 L920.60,592.93 L921.75,591.03 L922.90,589.49 L924.05,591.03 L925.20,592.23 L926.35,590.68 L927.50,589.81 L928.65,593.00 L929.80,586.45 L930.95,591.41 L932.10,593.18 L933.25,591.71 L934.40,592.97 L935.55,589.96 L936.70,590.25 L937.85,588.51 L939.00,587.43 L940.15,588.33 L941.30,589.58 L942.45,582.68 L943.60,585.54 L944.75,583.10 L945.90,585.67 L947.05,584.19 L948.20,584.47 L949.35,584.20 L950.50,586.00 L951.65,586.55 L952.80,583.07 L953.95,583.65 L955.10,586.54 L956.25,583.53 L957.40,583.64 L958.55,580.71 L959.70,586.79 L960.85,585.55 L962.00,581.85 L963.15,580.28 L964.30,579.31 L965.45,582.65 L966.60,580.85 L967.75,578.99 L968.90,581.31 L970.05,585.56 L971.20,589.32 L972.35,591.59 L973.50,590.72 L974.65,592.06 L975.80,593.31 L976.95,595.29 L978.10,595.38 L979.25,592.91 L980.40,593.29 L981.55,594.67 L982.70,598.08 L983.85,596.33 L985.00,596.54 L986.15,601.07 L987.30,602.47 L988.45,597.14 L989.60,599.84 L990.75,602.64 L991.90,600.06 L993.05,603.62 L994.20,597.65 L995.35,599.92 L996.50,600.28 L997.65,602.44 L998.80,602.56 L999.95,597.98 L1001.10,599.76 L1002.25,601.13 L1003.40,604.55 L1004.55,604.84 L1005.70,606.10 L1006.85,605.23 L1008.00,603.83 L1009.15,605.00 L1010.30,603.97 L1011.45,609.37 L1012.60,605.68 L1013.75,608.82 L1014.90,610.22 L1016.05,611.14 L1017.20,605.74 L1018.35,607.00 L1019.50,603.43 L1020.65,608.69 L1021.80,605.90 L1022.95,606.15 L1024.10,605.98 L1025.25,607.39 L1026.40,608.44 L1027.55,608.76 L1028.70,612.29 L1029.85,606.52 L1031.00,608.45 L1032.15,610.98 L1033.30,607.33 L1034.45,605.43 L1035.60,611.02 L1036.75,605.70 L1037.90,606.93 L1039.05,608.33 L1040.20,609.18 L1041.35,609.19 L1042.50,608.39 L1043.65,612.66 L1044.80,611.55 L1045.95,615.29 L1047.10,610.15 L1048.25,611.35 L1049.40,610.62 L1050.55,611.83 L1051.70,610.95 L1052.85,611.91 L1054.00,617.31 L1055.15,613.56 L1056.30,614.85 L1057.45,613.41 L1058.60,611.94 L1059.75,613.59 L1060.90,607.59 L1062.05,614.56 L1063.20,608.34 L1064.35,611.97 L1065.50,613.10 L1066.65,612.66 L1067.80,612.31 L1068.95,615.91 L1070.10,618.47 L1071.25,615.52 L1072.40,613.98 L1073.55,612.43 L1074.70,610.87 L1075.85,614.04 L1077.00,614.58 L1078.15,615.27 L1079.30,616.33 L1080.45,617.91 L1081.60,614.31 L1082.75,613.35 L1083.90,612.87 L1085.05,614.35 L1086.20,613.22 L1087.35,614.13 L1088.50,610.70 L1089.65,613.13 L1090.80,614.52 L1091.95,613.52 L1093.10,608.98 L1094.25,614.63 L1095.40,613.21 L1096.55,615.58 L1097.70,613.38 L1098.85,616.14 L1100.00,614.44 L1101.15,615.77 L1102.30,616.86 L1103.45,613.85 L1104.60,615.67 L1105.75,616.81 L1106.90,617.78 L1108.05,615.98 L1109.20,618.05 L1110.35,612.72 L1111.50,616.34 L1112.65,619.24 L1113.80,617.86 L1114.95,614.23 L1116.10,614.49 L1117.25,616.24 L1118.40,615.78 L1119.55,615.96 L1120.70,615.12 L1121.85,616.12 L1123.00,618.70 L1124.15,613.77 L1125.30,612.32 L1126.45,616.94 L1127.60,613.14 L1128.75,617.04 L1129.90,615.73 L1131.05,615.04 L1132.20,620.42 L1133.35,616.42 L1134.50,613.60 L1135.65,616.36 L1136.80,616.58 L1137.95,617.00 L1139.10,616.96 L1140.25,614.04 L1141.40,616.56 L1142.55,618.06 L1143.70,618.20 L1144.85,617.04 L1146.00,614.93 L1147.15,613.11 L1148.30,621.03 L1149.45,616.24 L1150.60,617.67 L1151.75,618.55 L1152.90,619.45 L1154.05,618.49 L1155.20,616.77 L1156.35,617.60 L1157.50,621.35 L1158.65,621.70 L1159.80,615.00 L1160.95,618.31 L1162.10,614.33 L1163.25,619.35 L1164.40,621.64 L1165.55,619.66 L1166.70,622.55 L1167.85,620.72 L1169.00,618.91 L1170.15,611.57 L1171.30,616.68 L1172.45,619.09 L1173.60,617.98 L1174.75,615.66 L1175.90,617.75 L1177.05,621.56 L1178.20,619.10 L1179.35,619.24 L1180.50,618.06 L1181.65,620.59 L1182.80,612.34 L1183.95,615.09 L1185.10,621.54 L1186.25,620.20 L1187.40,617.70 L1188.55,617.38 L1189.70,614.26 L1190.85,616.83 L1192.00,617.50 L1193.15,615.10 L1194.30,619.50 L1195.45,620.00 L1196.60,618.22 L1197.75,620.52 L1198.90,620.15 L1200.05,621.30 L1201.20,618.49 L1202.35,625.63 L1203.50,616.46 L1204.65,618.81 L1205.80,620.52 L1206.95,620.64 L1208.10,615.12 L1209.25,616.38 L1210.40,620.11 L1211.55,617.18 L1212.70,617.65 L1213.85,618.31 L1215.00,618.40 L1216.15,622.82 L1217.30,617.42 L1218.45,622.81 L1219.60,620.23 L1220.75,621.00 L1221.90,619.10 L1223.05,625.05 L1224.20,616.00 L1225.35,622.70 L1226.50,618.15" fill="none" stroke="#3cc6df" stroke-width="0.85" stroke-linejoin="round" stroke-linecap="round" opacity="0.8"/>
<path d="M881.50,626.22 L882.65,629.64 L883.80,617.68 L884.95,625.15 L886.10,628.29 L887.25,623.57 L888.40,621.72 L889.55,622.65 L890.70,624.05 L891.85,625.78 L893.00,623.16 L894.15,620.15 L895.30,620.80 L896.45,623.59 L897.60,618.33 L898.75,621.96 L899.90,623.06 L901.05,621.40 L902.20,620.32 L903.35,618.33 L904.50,618.90 L905.65,619.54 L906.80,618.58 L907.95,619.41 L909.10,618.99 L910.25,619.99 L911.40,617.65 L912.55,619.23 L913.70,616.26 L914.85,618.72 L916.00,617.89 L917.15,615.89 L918.30,614.11 L919.45,616.17 L920.60,610.47 L921.75,614.72 L922.90,614.03 L924.05,613.24 L925.20,615.46 L926.35,616.61 L927.50,619.50 L928.65,616.10 L929.80,613.10 L930.95,611.84 L932.10,614.76 L933.25,615.90 L934.40,615.73 L935.55,614.28 L936.70,613.08 L937.85,613.10 L939.00,613.97 L940.15,614.11 L941.30,614.90 L942.45,614.73 L943.60,618.44 L944.75,614.73 L945.90,615.50 L947.05,615.17 L948.20,614.31 L949.35,612.14 L950.50,610.67 L951.65,612.32 L952.80,615.53 L953.95,615.82 L955.10,615.16 L956.25,615.24 L957.40,615.82 L958.55,612.86 L959.70,617.68 L960.85,617.82 L962.00,615.60 L963.15,614.01 L964.30,614.65 L965.45,612.46 L966.60,614.07 L967.75,612.95 L968.90,613.90 L970.05,613.15 L971.20,616.77 L972.35,612.89 L973.50,616.12 L974.65,616.25 L975.80,620.47 L976.95,619.57 L978.10,615.12 L979.25,615.96 L980.40,617.93 L981.55,616.23 L982.70,618.65 L983.85,618.41 L985.00,617.11 L986.15,618.91 L987.30,619.67 L988.45,618.62 L989.60,618.95 L990.75,618.97 L991.90,618.30 L993.05,620.20 L994.20,616.66 L995.35,619.39 L996.50,617.63 L997.65,619.24 L998.80,619.61 L999.95,619.57 L1001.10,621.02 L1002.25,621.96 L1003.40,620.57 L1004.55,619.98 L1005.70,620.94 L1006.85,620.52 L1008.00,621.45 L1009.15,620.55 L1010.30,620.20 L1011.45,617.26 L1012.60,619.34 L1013.75,620.10 L1014.90,622.29 L1016.05,622.18 L1017.20,620.74 L1018.35,618.79 L1019.50,621.92 L1020.65,624.19 L1021.80,624.37 L1022.95,622.24 L1024.10,621.37 L1025.25,620.69 L1026.40,619.95 L1027.55,623.07 L1028.70,621.43 L1029.85,624.45 L1031.00,623.16 L1032.15,623.13 L1033.30,621.33 L1034.45,623.64 L1035.60,623.66 L1036.75,620.22 L1037.90,620.60 L1039.05,621.36 L1040.20,624.59 L1041.35,622.98 L1042.50,621.13 L1043.65,623.32 L1044.80,624.07 L1045.95,621.04 L1047.10,625.67 L1048.25,621.50 L1049.40,624.93 L1050.55,624.35 L1051.70,623.04 L1052.85,623.88 L1054.00,623.85 L1055.15,622.56 L1056.30,623.90 L1057.45,622.55 L1058.60,619.53 L1059.75,623.14 L1060.90,621.17 L1062.05,622.27 L1063.20,623.57 L1064.35,622.76 L1065.50,624.36 L1066.65,623.76 L1067.80,622.53 L1068.95,626.30 L1070.10,625.03 L1071.25,623.02 L1072.40,623.05 L1073.55,622.67 L1074.70,623.97 L1075.85,623.44 L1077.00,627.75 L1078.15,626.49 L1079.30,621.08 L1080.45,622.81 L1081.60,624.94 L1082.75,624.31 L1083.90,622.05 L1085.05,626.64 L1086.20,623.63 L1087.35,625.55 L1088.50,624.65 L1089.65,626.51 L1090.80,623.34 L1091.95,628.23 L1093.10,624.12 L1094.25,628.04 L1095.40,626.23 L1096.55,625.40 L1097.70,622.79 L1098.85,626.64 L1100.00,625.46 L1101.15,621.48 L1102.30,619.64 L1103.45,623.30 L1104.60,622.81 L1105.75,625.63 L1106.90,624.72 L1108.05,624.97 L1109.20,623.62 L1110.35,625.99 L1111.50,624.00 L1112.65,623.34 L1113.80,621.94 L1114.95,625.32 L1116.10,623.81 L1117.25,621.59 L1118.40,622.86 L1119.55,624.69 L1120.70,626.51 L1121.85,622.36 L1123.00,625.92 L1124.15,626.83 L1125.30,625.19 L1126.45,626.06 L1127.60,628.02 L1128.75,624.74 L1129.90,625.88 L1131.05,627.51 L1132.20,628.12 L1133.35,625.32 L1134.50,624.33 L1135.65,622.67 L1136.80,625.38 L1137.95,625.89 L1139.10,623.84 L1140.25,624.91 L1141.40,625.16 L1142.55,627.72 L1143.70,626.61 L1144.85,628.34 L1146.00,628.34 L1147.15,626.78 L1148.30,627.88 L1149.45,629.07 L1150.60,628.87 L1151.75,625.13 L1152.90,626.94 L1154.05,628.32 L1155.20,626.80 L1156.35,625.90 L1157.50,627.01 L1158.65,630.34 L1159.80,626.26 L1160.95,625.39 L1162.10,627.60 L1163.25,625.42 L1164.40,624.16 L1165.55,624.42 L1166.70,626.78 L1167.85,625.64 L1169.00,627.88 L1170.15,623.99 L1171.30,623.01 L1172.45,623.63 L1173.60,623.57 L1174.75,628.07 L1175.90,625.39 L1177.05,629.32 L1178.20,627.73 L1179.35,629.32 L1180.50,626.39 L1181.65,629.13 L1182.80,623.30 L1183.95,626.37 L1185.10,625.52 L1186.25,627.57 L1187.40,626.63 L1188.55,627.08 L1189.70,624.86 L1190.85,623.72 L1192.00,625.69 L1193.15,628.52 L1194.30,626.23 L1195.45,629.97 L1196.60,626.52 L1197.75,626.35 L1198.90,626.03 L1200.05,625.12 L1201.20,625.68 L1202.35,626.55 L1203.50,625.87 L1204.65,625.02 L1205.80,628.60 L1206.95,627.32 L1208.10,626.12 L1209.25,625.94 L1210.40,623.97 L1211.55,627.65 L1212.70,624.69 L1213.85,629.62 L1215.00,623.61 L1216.15,626.98 L1217.30,629.28 L1218.45,627.06 L1219.60,631.81 L1220.75,630.52 L1221.90,630.09 L1223.05,626.11 L1224.20,628.87 L1225.35,628.96 L1226.50,627.39" fill="none" stroke="#85a596" stroke-width="0.85" stroke-linejoin="round" stroke-linecap="round" opacity="0.75"/>
<path d="M883.50,628.50 L884.50,618.01 L885.50,608.57 L886.50,600.07 L887.50,592.42 L888.50,585.53 L889.50,579.33 L890.50,573.76 L891.50,568.73 L892.50,564.21 L893.50,560.15 L894.50,556.49 L895.50,553.19 L896.50,550.22 L897.50,547.55 L898.50,545.15 L899.50,542.99 L900.50,541.04 L901.50,539.29 L902.50,537.71 L903.50,536.29 L904.50,535.01 L905.50,533.86 L906.50,532.83 L907.50,531.90 L908.50,531.06 L909.50,530.30 L910.50,529.62 L911.50,529.01 L912.50,528.46 L913.50,527.96 L914.50,527.52 L915.50,527.12 L916.50,526.76 L917.50,526.43 L918.50,526.14 L919.50,525.87 L920.50,525.64 L921.50,525.42 L922.50,525.23 L923.50,525.06 L924.50,524.90 L925.50,524.76 L926.50,524.64 L927.50,524.52 L928.50,524.42 L929.50,524.33 L930.50,524.25 L931.50,524.17 L932.50,524.10 L933.50,524.04 L934.50,523.99 L935.50,523.94 L936.50,523.90 L937.50,523.86 L938.50,523.82 L939.50,523.79 L940.50,523.76 L941.50,523.73 L942.50,523.71 L943.50,523.69 L944.50,523.67 L945.50,523.65 L946.50,523.64 L947.50,523.62 L948.50,523.61 L949.50,523.60 L950.50,523.59 L951.50,523.58 L952.50,523.57 L953.50,523.57 L954.50,523.56 L955.50,523.55 L956.50,523.55 L957.50,523.54 L958.50,523.54 L959.50,523.54 L960.50,523.53 L961.50,523.53 L962.50,523.53 L963.50,523.52 L964.50,523.52 L965.50,523.52 L966.50,523.52 L967.50,523.52 L968.50,523.51 L969.50,523.51 L970.50,524.61 L971.50,525.70 L972.50,526.78 L973.50,527.84 L974.50,528.90 L975.50,529.94 L976.50,530.97 L977.50,531.99 L978.50,533.00 L979.50,534.00 L980.50,534.99 L981.50,535.97 L982.50,536.94 L983.50,537.90 L984.50,538.85 L985.50,539.79 L986.50,540.71 L987.50,541.63 L988.50,542.54 L989.50,543.44 L990.50,544.33 L991.50,545.22 L992.50,546.09 L993.50,546.95 L994.50,547.80 L995.50,548.65 L996.50,549.49 L997.50,550.31 L998.50,551.13 L999.50,551.94 L1000.50,552.74 L1001.50,553.54 L1002.50,554.32 L1003.50,555.10 L1004.50,555.87 L1005.50,556.63 L1006.50,557.38 L1007.50,558.12 L1008.50,558.86 L1009.50,559.59 L1010.50,560.31 L1011.50,561.03 L1012.50,561.73 L1013.50,562.43 L1014.50,563.12 L1015.50,563.81 L1016.50,564.49 L1017.50,565.16 L1018.50,565.82 L1019.50,566.48 L1020.50,567.13 L1021.50,567.77 L1022.50,568.40 L1023.50,569.03 L1024.50,569.66 L1025.50,570.27 L1026.50,570.88 L1027.50,571.48 L1028.50,572.08 L1029.50,572.67 L1030.50,573.26 L1031.50,573.84 L1032.50,574.41 L1033.50,574.97 L1034.50,575.53 L1035.50,576.09 L1036.50,576.64 L1037.50,577.18 L1038.50,577.72 L1039.50,578.25 L1040.50,578.78 L1041.50,579.30 L1042.50,579.81 L1043.50,580.32 L1044.50,580.83 L1045.50,581.33 L1046.50,581.82 L1047.50,582.31 L1048.50,582.79 L1049.50,583.27 L1050.50,583.74 L1051.50,584.21 L1052.50,584.68 L1053.50,585.14 L1054.50,585.59 L1055.50,586.04 L1056.50,586.48 L1057.50,586.92 L1058.50,587.36 L1059.50,587.79 L1060.50,588.22 L1061.50,588.64 L1062.50,589.06 L1063.50,589.47 L1064.50,589.88 L1065.50,590.28 L1066.50,590.68 L1067.50,591.08 L1068.50,591.47 L1069.50,591.86 L1070.50,592.24 L1071.50,592.62 L1072.50,593.00 L1073.50,593.37 L1074.50,593.74 L1075.50,594.10 L1076.50,594.46 L1077.50,594.82 L1078.50,595.17 L1079.50,595.52 L1080.50,595.86 L1081.50,596.21 L1082.50,596.54 L1083.50,596.88 L1084.50,597.21 L1085.50,597.54 L1086.50,597.86 L1087.50,598.18 L1088.50,598.50 L1089.50,598.81 L1090.50,599.12 L1091.50,599.43 L1092.50,599.74 L1093.50,600.04 L1094.50,600.34 L1095.50,600.63 L1096.50,600.92 L1097.50,601.21 L1098.50,601.50 L1099.50,601.78 L1100.50,602.06 L1101.50,602.34 L1102.50,602.61 L1103.50,602.88 L1104.50,603.15 L1105.50,603.42 L1106.50,603.68 L1107.50,603.94 L1108.50,604.19 L1109.50,604.45 L1110.50,604.70 L1111.50,604.95 L1112.50,605.20 L1113.50,605.44 L1114.50,605.68 L1115.50,605.92 L1116.50,606.16 L1117.50,606.39 L1118.50,606.62 L1119.50,606.85 L1120.50,607.08 L1121.50,607.30 L1122.50,607.53 L1123.50,607.74 L1124.50,607.96 L1125.50,608.18 L1126.50,608.39 L1127.50,608.60 L1128.50,608.81 L1129.50,609.02 L1130.50,609.22 L1131.50,609.42 L1132.50,609.62 L1133.50,609.82 L1134.50,610.01 L1135.50,610.21 L1136.50,610.40 L1137.50,610.59 L1138.50,610.78 L1139.50,610.96 L1140.50,611.15 L1141.50,611.33 L1142.50,611.51 L1143.50,611.69 L1144.50,611.86 L1145.50,612.04 L1146.50,612.21 L1147.50,612.38 L1148.50,612.55 L1149.50,612.71 L1150.50,612.88 L1151.50,613.04 L1152.50,613.20 L1153.50,613.37 L1154.50,613.52 L1155.50,613.68 L1156.50,613.84 L1157.50,613.99 L1158.50,614.14 L1159.50,614.29 L1160.50,614.44 L1161.50,614.59 L1162.50,614.73 L1163.50,614.88 L1164.50,615.02 L1165.50,615.16 L1166.50,615.30 L1167.50,615.44 L1168.50,615.58 L1169.50,615.71 L1170.50,615.84 L1171.50,615.98 L1172.50,616.11 L1173.50,616.24 L1174.50,616.37 L1175.50,616.49 L1176.50,616.62 L1177.50,616.74 L1178.50,616.87 L1179.50,616.99 L1180.50,617.11 L1181.50,617.23 L1182.50,617.35 L1183.50,617.46 L1184.50,617.58 L1185.50,617.69 L1186.50,617.81 L1187.50,617.92 L1188.50,618.03 L1189.50,618.14 L1190.50,618.25 L1191.50,618.35 L1192.50,618.46 L1193.50,618.57 L1194.50,618.67 L1195.50,618.77 L1196.50,618.87 L1197.50,618.98 L1198.50,619.08 L1199.50,619.17 L1200.50,619.27 L1201.50,619.37 L1202.50,619.46 L1203.50,619.56 L1204.50,619.65 L1205.50,619.74 L1206.50,619.84 L1207.50,619.93 L1208.50,620.02 L1209.50,620.11 L1210.50,620.19 L1211.50,620.28 L1212.50,620.37 L1213.50,620.45 L1214.50,620.54 L1215.50,620.62 L1216.50,620.70 L1217.50,620.78 L1218.50,620.86 L1219.50,620.94 L1220.50,621.02 L1221.50,621.10 L1222.50,621.18 L1223.50,621.26 L1224.50,621.33 L1225.50,621.41 L1226.50,621.48" fill="none" stroke="#f4474c" stroke-width="1.0" stroke-linejoin="round" stroke-linecap="round" opacity="0.85"/>
<path d="M883.50,628.50 L884.50,624.68 L885.50,621.03 L886.50,617.54 L887.50,614.20 L888.50,611.02 L889.50,607.97 L890.50,605.06 L891.50,602.28 L892.50,599.63 L893.50,597.09 L894.50,594.66 L895.50,592.34 L896.50,590.13 L897.50,588.01 L898.50,585.99 L899.50,584.06 L900.50,582.21 L901.50,580.45 L902.50,578.76 L903.50,577.15 L904.50,575.61 L905.50,574.14 L906.50,572.73 L907.50,571.39 L908.50,570.10 L909.50,568.88 L910.50,567.71 L911.50,566.59 L912.50,565.52 L913.50,564.49 L914.50,563.52 L915.50,562.58 L916.50,561.69 L917.50,560.84 L918.50,560.02 L919.50,559.24 L920.50,558.50 L921.50,557.79 L922.50,557.11 L923.50,556.46 L924.50,555.84 L925.50,555.25 L926.50,554.68 L927.50,554.14 L928.50,553.62 L929.50,553.13 L930.50,552.66 L931.50,552.20 L932.50,551.77 L933.50,551.36 L934.50,550.97 L935.50,550.59 L936.50,550.23 L937.50,549.89 L938.50,549.56 L939.50,549.25 L940.50,548.95 L941.50,548.66 L942.50,548.39 L943.50,548.12 L944.50,547.87 L945.50,547.64 L946.50,547.41 L947.50,547.19 L948.50,546.98 L949.50,546.78 L950.50,546.59 L951.50,546.41 L952.50,546.24 L953.50,546.07 L954.50,545.91 L955.50,545.76 L956.50,545.61 L957.50,545.48 L958.50,545.34 L959.50,545.22 L960.50,545.10 L961.50,544.98 L962.50,544.87 L963.50,544.77 L964.50,544.67 L965.50,544.57 L966.50,544.48 L967.50,544.39 L968.50,544.31 L969.50,544.23 L970.50,545.11 L971.50,545.98 L972.50,546.84 L973.50,547.70 L974.50,548.55 L975.50,549.38 L976.50,550.21 L977.50,551.03 L978.50,551.84 L979.50,552.65 L980.50,553.44 L981.50,554.23 L982.50,555.00 L983.50,555.77 L984.50,556.53 L985.50,557.29 L986.50,558.03 L987.50,558.77 L988.50,559.50 L989.50,560.22 L990.50,560.94 L991.50,561.65 L992.50,562.35 L993.50,563.04 L994.50,563.72 L995.50,564.40 L996.50,565.07 L997.50,565.74 L998.50,566.40 L999.50,567.05 L1000.50,567.69 L1001.50,568.33 L1002.50,568.96 L1003.50,569.58 L1004.50,570.20 L1005.50,570.81 L1006.50,571.41 L1007.50,572.01 L1008.50,572.60 L1009.50,573.19 L1010.50,573.76 L1011.50,574.34 L1012.50,574.91 L1013.50,575.47 L1014.50,576.02 L1015.50,576.57 L1016.50,577.11 L1017.50,577.65 L1018.50,578.19 L1019.50,578.71 L1020.50,579.23 L1021.50,579.75 L1022.50,580.26 L1023.50,580.77 L1024.50,581.26 L1025.50,581.76 L1026.50,582.25 L1027.50,582.73 L1028.50,583.21 L1029.50,583.69 L1030.50,584.16 L1031.50,584.62 L1032.50,585.08 L1033.50,585.53 L1034.50,585.98 L1035.50,586.43 L1036.50,586.87 L1037.50,587.31 L1038.50,587.74 L1039.50,588.16 L1040.50,588.59 L1041.50,589.00 L1042.50,589.42 L1043.50,589.83 L1044.50,590.23 L1045.50,590.63 L1046.50,591.03 L1047.50,591.42 L1048.50,591.81 L1049.50,592.19 L1050.50,592.57 L1051.50,592.95 L1052.50,593.32 L1053.50,593.69 L1054.50,594.06 L1055.50,594.42 L1056.50,594.77 L1057.50,595.13 L1058.50,595.48 L1059.50,595.82 L1060.50,596.16 L1061.50,596.50 L1062.50,596.84 L1063.50,597.17 L1064.50,597.50 L1065.50,597.82 L1066.50,598.14 L1067.50,598.46 L1068.50,598.78 L1069.50,599.09 L1070.50,599.39 L1071.50,599.70 L1072.50,600.00 L1073.50,600.30 L1074.50,600.59 L1075.50,600.89 L1076.50,601.18 L1077.50,601.46 L1078.50,601.75 L1079.50,602.03 L1080.50,602.30 L1081.50,602.58 L1082.50,602.85 L1083.50,603.12 L1084.50,603.38 L1085.50,603.65 L1086.50,603.91 L1087.50,604.16 L1088.50,604.42 L1089.50,604.67 L1090.50,604.92 L1091.50,605.17 L1092.50,605.41 L1093.50,605.65 L1094.50,605.89 L1095.50,606.13 L1096.50,606.36 L1097.50,606.59 L1098.50,606.82 L1099.50,607.05 L1100.50,607.28 L1101.50,607.50 L1102.50,607.72 L1103.50,607.94 L1104.50,608.15 L1105.50,608.36 L1106.50,608.57 L1107.50,608.78 L1108.50,608.99 L1109.50,609.19 L1110.50,609.40 L1111.50,609.60 L1112.50,609.79 L1113.50,609.99 L1114.50,610.18 L1115.50,610.38 L1116.50,610.57 L1117.50,610.75 L1118.50,610.94 L1119.50,611.12 L1120.50,611.31 L1121.50,611.49 L1122.50,611.66 L1123.50,611.84 L1124.50,612.01 L1125.50,612.19 L1126.50,612.36 L1127.50,612.53 L1128.50,612.69 L1129.50,612.86 L1130.50,613.02 L1131.50,613.19 L1132.50,613.35 L1133.50,613.50 L1134.50,613.66 L1135.50,613.82 L1136.50,613.97 L1137.50,614.12 L1138.50,614.27 L1139.50,614.42 L1140.50,614.57 L1141.50,614.72 L1142.50,614.86 L1143.50,615.00 L1144.50,615.14 L1145.50,615.28 L1146.50,615.42 L1147.50,615.56 L1148.50,615.69 L1149.50,615.83 L1150.50,615.96 L1151.50,616.09 L1152.50,616.22 L1153.50,616.35 L1154.50,616.48 L1155.50,616.60 L1156.50,616.73 L1157.50,616.85 L1158.50,616.97 L1159.50,617.09 L1160.50,617.21 L1161.50,617.33 L1162.50,617.45 L1163.50,617.56 L1164.50,617.68 L1165.50,617.79 L1166.50,617.90 L1167.50,618.02 L1168.50,618.13 L1169.50,618.23 L1170.50,618.34 L1171.50,618.45 L1172.50,618.55 L1173.50,618.66 L1174.50,618.76 L1175.50,618.86 L1176.50,618.96 L1177.50,619.06 L1178.50,619.16 L1179.50,619.26 L1180.50,619.36 L1181.50,619.45 L1182.50,619.55 L1183.50,619.64 L1184.50,619.73 L1185.50,619.83 L1186.50,619.92 L1187.50,620.01 L1188.50,620.10 L1189.50,620.18 L1190.50,620.27 L1191.50,620.36 L1192.50,620.44 L1193.50,620.53 L1194.50,620.61 L1195.50,620.69 L1196.50,620.77 L1197.50,620.85 L1198.50,620.93 L1199.50,621.01 L1200.50,621.09 L1201.50,621.17 L1202.50,621.25 L1203.50,621.32 L1204.50,621.40 L1205.50,621.47 L1206.50,621.55 L1207.50,621.62 L1208.50,621.69 L1209.50,621.76 L1210.50,621.83 L1211.50,621.90 L1212.50,621.97 L1213.50,622.04 L1214.50,622.11 L1215.50,622.17 L1216.50,622.24 L1217.50,622.31 L1218.50,622.37 L1219.50,622.44 L1220.50,622.50 L1221.50,622.56 L1222.50,622.62 L1223.50,622.69 L1224.50,622.75 L1225.50,622.81 L1226.50,622.87" fill="none" stroke="#f4474c" stroke-width="1.0" stroke-linejoin="round" stroke-linecap="round" opacity="0.85"/>
<path d="M883.50,628.50 L884.50,627.31 L885.50,626.15 L886.50,625.02 L887.50,623.91 L888.50,622.82 L889.50,621.76 L890.50,620.72 L891.50,619.70 L892.50,618.71 L893.50,617.74 L894.50,616.79 L895.50,615.86 L896.50,614.95 L897.50,614.06 L898.50,613.19 L899.50,612.34 L900.50,611.51 L901.50,610.70 L902.50,609.90 L903.50,609.12 L904.50,608.36 L905.50,607.62 L906.50,606.89 L907.50,606.18 L908.50,605.48 L909.50,604.80 L910.50,604.14 L911.50,603.48 L912.50,602.85 L913.50,602.22 L914.50,601.62 L915.50,601.02 L916.50,600.44 L917.50,599.87 L918.50,599.31 L919.50,598.76 L920.50,598.23 L921.50,597.71 L922.50,597.20 L923.50,596.70 L924.50,596.21 L925.50,595.73 L926.50,595.27 L927.50,594.81 L928.50,594.37 L929.50,593.93 L930.50,593.50 L931.50,593.08 L932.50,592.68 L933.50,592.28 L934.50,591.89 L935.50,591.50 L936.50,591.13 L937.50,590.76 L938.50,590.41 L939.50,590.06 L940.50,589.72 L941.50,589.38 L942.50,589.05 L943.50,588.73 L944.50,588.42 L945.50,588.12 L946.50,587.82 L947.50,587.52 L948.50,587.24 L949.50,586.96 L950.50,586.68 L951.50,586.42 L952.50,586.15 L953.50,585.90 L954.50,585.65 L955.50,585.40 L956.50,585.16 L957.50,584.93 L958.50,584.70 L959.50,584.48 L960.50,584.26 L961.50,584.04 L962.50,583.83 L963.50,583.63 L964.50,583.43 L965.50,583.23 L966.50,583.04 L967.50,582.85 L968.50,582.67 L969.50,582.49 L970.50,582.97 L971.50,583.45 L972.50,583.92 L973.50,584.38 L974.50,584.85 L975.50,585.30 L976.50,585.76 L977.50,586.20 L978.50,586.65 L979.50,587.08 L980.50,587.52 L981.50,587.95 L982.50,588.37 L983.50,588.79 L984.50,589.21 L985.50,589.62 L986.50,590.03 L987.50,590.43 L988.50,590.83 L989.50,591.22 L990.50,591.61 L991.50,592.00 L992.50,592.38 L993.50,592.76 L994.50,593.13 L995.50,593.50 L996.50,593.87 L997.50,594.23 L998.50,594.59 L999.50,594.95 L1000.50,595.30 L1001.50,595.65 L1002.50,595.99 L1003.50,596.33 L1004.50,596.67 L1005.50,597.00 L1006.50,597.33 L1007.50,597.66 L1008.50,597.98 L1009.50,598.30 L1010.50,598.62 L1011.50,598.93 L1012.50,599.24 L1013.50,599.54 L1014.50,599.85 L1015.50,600.15 L1016.50,600.44 L1017.50,600.74 L1018.50,601.03 L1019.50,601.32 L1020.50,601.60 L1021.50,601.88 L1022.50,602.16 L1023.50,602.44 L1024.50,602.71 L1025.50,602.98 L1026.50,603.25 L1027.50,603.51 L1028.50,603.77 L1029.50,604.03 L1030.50,604.29 L1031.50,604.54 L1032.50,604.79 L1033.50,605.04 L1034.50,605.29 L1035.50,605.53 L1036.50,605.77 L1037.50,606.01 L1038.50,606.24 L1039.50,606.48 L1040.50,606.71 L1041.50,606.94 L1042.50,607.16 L1043.50,607.39 L1044.50,607.61 L1045.50,607.83 L1046.50,608.04 L1047.50,608.26 L1048.50,608.47 L1049.50,608.68 L1050.50,608.89 L1051.50,609.09 L1052.50,609.29 L1053.50,609.49 L1054.50,609.69 L1055.50,609.89 L1056.50,610.09 L1057.50,610.28 L1058.50,610.47 L1059.50,610.66 L1060.50,610.84 L1061.50,611.03 L1062.50,611.21 L1063.50,611.39 L1064.50,611.57 L1065.50,611.75 L1066.50,611.93 L1067.50,612.10 L1068.50,612.27 L1069.50,612.44 L1070.50,612.61 L1071.50,612.78 L1072.50,612.94 L1073.50,613.10 L1074.50,613.26 L1075.50,613.42 L1076.50,613.58 L1077.50,613.74 L1078.50,613.89 L1079.50,614.05 L1080.50,614.20 L1081.50,614.35 L1082.50,614.49 L1083.50,614.64 L1084.50,614.79 L1085.50,614.93 L1086.50,615.07 L1087.50,615.21 L1088.50,615.35 L1089.50,615.49 L1090.50,615.63 L1091.50,615.76 L1092.50,615.89 L1093.50,616.03 L1094.50,616.16 L1095.50,616.29 L1096.50,616.41 L1097.50,616.54 L1098.50,616.67 L1099.50,616.79 L1100.50,616.91 L1101.50,617.03 L1102.50,617.15 L1103.50,617.27 L1104.50,617.39 L1105.50,617.51 L1106.50,617.62 L1107.50,617.74 L1108.50,617.85 L1109.50,617.96 L1110.50,618.07 L1111.50,618.18 L1112.50,618.29 L1113.50,618.39 L1114.50,618.50 L1115.50,618.60 L1116.50,618.71 L1117.50,618.81 L1118.50,618.91 L1119.50,619.01 L1120.50,619.11 L1121.50,619.21 L1122.50,619.31 L1123.50,619.40 L1124.50,619.50 L1125.50,619.59 L1126.50,619.69 L1127.50,619.78 L1128.50,619.87 L1129.50,619.96 L1130.50,620.05 L1131.50,620.14 L1132.50,620.23 L1133.50,620.31 L1134.50,620.40 L1135.50,620.48 L1136.50,620.57 L1137.50,620.65 L1138.50,620.73 L1139.50,620.81 L1140.50,620.89 L1141.50,620.97 L1142.50,621.05 L1143.50,621.13 L1144.50,621.21 L1145.50,621.28 L1146.50,621.36 L1147.50,621.43 L1148.50,621.51 L1149.50,621.58 L1150.50,621.65 L1151.50,621.73 L1152.50,621.80 L1153.50,621.87 L1154.50,621.94 L1155.50,622.01 L1156.50,622.07 L1157.50,622.14 L1158.50,622.21 L1159.50,622.27 L1160.50,622.34 L1161.50,622.40 L1162.50,622.47 L1163.50,622.53 L1164.50,622.59 L1165.50,622.65 L1166.50,622.72 L1167.50,622.78 L1168.50,622.84 L1169.50,622.90 L1170.50,622.95 L1171.50,623.01 L1172.50,623.07 L1173.50,623.13 L1174.50,623.18 L1175.50,623.24 L1176.50,623.29 L1177.50,623.35 L1178.50,623.40 L1179.50,623.46 L1180.50,623.51 L1181.50,623.56 L1182.50,623.61 L1183.50,623.66 L1184.50,623.71 L1185.50,623.76 L1186.50,623.81 L1187.50,623.86 L1188.50,623.91 L1189.50,623.96 L1190.50,624.01 L1191.50,624.05 L1192.50,624.10 L1193.50,624.15 L1194.50,624.19 L1195.50,624.24 L1196.50,624.28 L1197.50,624.33 L1198.50,624.37 L1199.50,624.41 L1200.50,624.46 L1201.50,624.50 L1202.50,624.54 L1203.50,624.58 L1204.50,624.62 L1205.50,624.66 L1206.50,624.70 L1207.50,624.74 L1208.50,624.78 L1209.50,624.82 L1210.50,624.86 L1211.50,624.90 L1212.50,624.94 L1213.50,624.97 L1214.50,625.01 L1215.50,625.05 L1216.50,625.08 L1217.50,625.12 L1218.50,625.15 L1219.50,625.19 L1220.50,625.22 L1221.50,625.26 L1222.50,625.29 L1223.50,625.33 L1224.50,625.36 L1225.50,625.39 L1226.50,625.42" fill="none" stroke="#f4474c" stroke-width="1.0" stroke-linejoin="round" stroke-linecap="round" opacity="0.85"/>
<path d="M883.50,628.50 L884.50,628.16 L885.50,627.83 L886.50,627.49 L887.50,627.17 L888.50,626.84 L889.50,626.52 L890.50,626.21 L891.50,625.90 L892.50,625.59 L893.50,625.28 L894.50,624.98 L895.50,624.68 L896.50,624.39 L897.50,624.10 L898.50,623.81 L899.50,623.52 L900.50,623.24 L901.50,622.97 L902.50,622.69 L903.50,622.42 L904.50,622.15 L905.50,621.89 L906.50,621.62 L907.50,621.37 L908.50,621.11 L909.50,620.86 L910.50,620.61 L911.50,620.36 L912.50,620.12 L913.50,619.88 L914.50,619.64 L915.50,619.40 L916.50,619.17 L917.50,618.94 L918.50,618.71 L919.50,618.49 L920.50,618.27 L921.50,618.05 L922.50,617.83 L923.50,617.61 L924.50,617.40 L925.50,617.19 L926.50,616.99 L927.50,616.78 L928.50,616.58 L929.50,616.38 L930.50,616.18 L931.50,615.99 L932.50,615.79 L933.50,615.60 L934.50,615.42 L935.50,615.23 L936.50,615.05 L937.50,614.86 L938.50,614.68 L939.50,614.51 L940.50,614.33 L941.50,614.16 L942.50,613.99 L943.50,613.82 L944.50,613.65 L945.50,613.48 L946.50,613.32 L947.50,613.16 L948.50,613.00 L949.50,612.84 L950.50,612.68 L951.50,612.53 L952.50,612.38 L953.50,612.23 L954.50,612.08 L955.50,611.93 L956.50,611.79 L957.50,611.64 L958.50,611.50 L959.50,611.36 L960.50,611.22 L961.50,611.08 L962.50,610.95 L963.50,610.81 L964.50,610.68 L965.50,610.55 L966.50,610.42 L967.50,610.29 L968.50,610.17 L969.50,610.04 L970.50,610.24 L971.50,610.43 L972.50,610.62 L973.50,610.80 L974.50,610.99 L975.50,611.17 L976.50,611.35 L977.50,611.53 L978.50,611.71 L979.50,611.89 L980.50,612.06 L981.50,612.23 L982.50,612.40 L983.50,612.57 L984.50,612.74 L985.50,612.90 L986.50,613.07 L987.50,613.23 L988.50,613.39 L989.50,613.55 L990.50,613.70 L991.50,613.86 L992.50,614.01 L993.50,614.16 L994.50,614.31 L995.50,614.46 L996.50,614.61 L997.50,614.76 L998.50,614.90 L999.50,615.04 L1000.50,615.18 L1001.50,615.32 L1002.50,615.46 L1003.50,615.60 L1004.50,615.73 L1005.50,615.87 L1006.50,616.00 L1007.50,616.13 L1008.50,616.26 L1009.50,616.39 L1010.50,616.51 L1011.50,616.64 L1012.50,616.76 L1013.50,616.89 L1014.50,617.01 L1015.50,617.13 L1016.50,617.25 L1017.50,617.36 L1018.50,617.48 L1019.50,617.60 L1020.50,617.71 L1021.50,617.82 L1022.50,617.94 L1023.50,618.05 L1024.50,618.16 L1025.50,618.26 L1026.50,618.37 L1027.50,618.48 L1028.50,618.58 L1029.50,618.69 L1030.50,618.79 L1031.50,618.89 L1032.50,618.99 L1033.50,619.09 L1034.50,619.19 L1035.50,619.29 L1036.50,619.38 L1037.50,619.48 L1038.50,619.57 L1039.50,619.67 L1040.50,619.76 L1041.50,619.85 L1042.50,619.94 L1043.50,620.03 L1044.50,620.12 L1045.50,620.21 L1046.50,620.29 L1047.50,620.38 L1048.50,620.46 L1049.50,620.55 L1050.50,620.63 L1051.50,620.71 L1052.50,620.80 L1053.50,620.88 L1054.50,620.96 L1055.50,621.04 L1056.50,621.11 L1057.50,621.19 L1058.50,621.27 L1059.50,621.34 L1060.50,621.42 L1061.50,621.49 L1062.50,621.57 L1063.50,621.64 L1064.50,621.71 L1065.50,621.78 L1066.50,621.85 L1067.50,621.92 L1068.50,621.99 L1069.50,622.06 L1070.50,622.13 L1071.50,622.19 L1072.50,622.26 L1073.50,622.32 L1074.50,622.39 L1075.50,622.45 L1076.50,622.52 L1077.50,622.58 L1078.50,622.64 L1079.50,622.70 L1080.50,622.76 L1081.50,622.82 L1082.50,622.88 L1083.50,622.94 L1084.50,623.00 L1085.50,623.06 L1086.50,623.11 L1087.50,623.17 L1088.50,623.23 L1089.50,623.28 L1090.50,623.34 L1091.50,623.39 L1092.50,623.44 L1093.50,623.50 L1094.50,623.55 L1095.50,623.60 L1096.50,623.65 L1097.50,623.70 L1098.50,623.75 L1099.50,623.80 L1100.50,623.85 L1101.50,623.90 L1102.50,623.95 L1103.50,624.00 L1104.50,624.04 L1105.50,624.09 L1106.50,624.14 L1107.50,624.18 L1108.50,624.23 L1109.50,624.27 L1110.50,624.32 L1111.50,624.36 L1112.50,624.40 L1113.50,624.45 L1114.50,624.49 L1115.50,624.53 L1116.50,624.57 L1117.50,624.61 L1118.50,624.65 L1119.50,624.69 L1120.50,624.73 L1121.50,624.77 L1122.50,624.81 L1123.50,624.85 L1124.50,624.89 L1125.50,624.93 L1126.50,624.96 L1127.50,625.00 L1128.50,625.04 L1129.50,625.07 L1130.50,625.11 L1131.50,625.15 L1132.50,625.18 L1133.50,625.22 L1134.50,625.25 L1135.50,625.28 L1136.50,625.32 L1137.50,625.35 L1138.50,625.38 L1139.50,625.42 L1140.50,625.45 L1141.50,625.48 L1142.50,625.51 L1143.50,625.54 L1144.50,625.57 L1145.50,625.61 L1146.50,625.64 L1147.50,625.67 L1148.50,625.70 L1149.50,625.72 L1150.50,625.75 L1151.50,625.78 L1152.50,625.81 L1153.50,625.84 L1154.50,625.87 L1155.50,625.89 L1156.50,625.92 L1157.50,625.95 L1158.50,625.98 L1159.50,626.00 L1160.50,626.03 L1161.50,626.05 L1162.50,626.08 L1163.50,626.11 L1164.50,626.13 L1165.50,626.16 L1166.50,626.18 L1167.50,626.20 L1168.50,626.23 L1169.50,626.25 L1170.50,626.28 L1171.50,626.30 L1172.50,626.32 L1173.50,626.34 L1174.50,626.37 L1175.50,626.39 L1176.50,626.41 L1177.50,626.43 L1178.50,626.45 L1179.50,626.48 L1180.50,626.50 L1181.50,626.52 L1182.50,626.54 L1183.50,626.56 L1184.50,626.58 L1185.50,626.60 L1186.50,626.62 L1187.50,626.64 L1188.50,626.66 L1189.50,626.68 L1190.50,626.70 L1191.50,626.72 L1192.50,626.74 L1193.50,626.75 L1194.50,626.77 L1195.50,626.79 L1196.50,626.81 L1197.50,626.83 L1198.50,626.84 L1199.50,626.86 L1200.50,626.88 L1201.50,626.89 L1202.50,626.91 L1203.50,626.93 L1204.50,626.94 L1205.50,626.96 L1206.50,626.98 L1207.50,626.99 L1208.50,627.01 L1209.50,627.02 L1210.50,627.04 L1211.50,627.06 L1212.50,627.07 L1213.50,627.09 L1214.50,627.10 L1215.50,627.11 L1216.50,627.13 L1217.50,627.14 L1218.50,627.16 L1219.50,627.17 L1220.50,627.19 L1221.50,627.20 L1222.50,627.21 L1223.50,627.23 L1224.50,627.24 L1225.50,627.25 L1226.50,627.27" fill="none" stroke="#f4474c" stroke-width="1.0" stroke-linejoin="round" stroke-linecap="round" opacity="0.85"/>
<path d="M883.50,628.50 L884.50,628.40 L885.50,628.30 L886.50,628.20 L887.50,628.11 L888.50,628.01 L889.50,627.92 L890.50,627.82 L891.50,627.73 L892.50,627.64 L893.50,627.54 L894.50,627.45 L895.50,627.36 L896.50,627.27 L897.50,627.19 L898.50,627.10 L899.50,627.01 L900.50,626.92 L901.50,626.84 L902.50,626.76 L903.50,626.67 L904.50,626.59 L905.50,626.51 L906.50,626.42 L907.50,626.34 L908.50,626.26 L909.50,626.18 L910.50,626.11 L911.50,626.03 L912.50,625.95 L913.50,625.87 L914.50,625.80 L915.50,625.72 L916.50,625.65 L917.50,625.58 L918.50,625.50 L919.50,625.43 L920.50,625.36 L921.50,625.29 L922.50,625.22 L923.50,625.15 L924.50,625.08 L925.50,625.01 L926.50,624.94 L927.50,624.87 L928.50,624.81 L929.50,624.74 L930.50,624.68 L931.50,624.61 L932.50,624.55 L933.50,624.48 L934.50,624.42 L935.50,624.36 L936.50,624.29 L937.50,624.23 L938.50,624.17 L939.50,624.11 L940.50,624.05 L941.50,623.99 L942.50,623.93 L943.50,623.88 L944.50,623.82 L945.50,623.76 L946.50,623.70 L947.50,623.65 L948.50,623.59 L949.50,623.54 L950.50,623.48 L951.50,623.43 L952.50,623.37 L953.50,623.32 L954.50,623.27 L955.50,623.22 L956.50,623.16 L957.50,623.11 L958.50,623.06 L959.50,623.01 L960.50,622.96 L961.50,622.91 L962.50,622.86 L963.50,622.82 L964.50,622.77 L965.50,622.72 L966.50,622.67 L967.50,622.63 L968.50,622.58 L969.50,622.53 L970.50,622.60 L971.50,622.66 L972.50,622.72 L973.50,622.78 L974.50,622.84 L975.50,622.90 L976.50,622.96 L977.50,623.02 L978.50,623.07 L979.50,623.13 L980.50,623.19 L981.50,623.24 L982.50,623.30 L983.50,623.35 L984.50,623.40 L985.50,623.46 L986.50,623.51 L987.50,623.56 L988.50,623.61 L989.50,623.67 L990.50,623.72 L991.50,623.77 L992.50,623.82 L993.50,623.87 L994.50,623.91 L995.50,623.96 L996.50,624.01 L997.50,624.06 L998.50,624.10 L999.50,624.15 L1000.50,624.19 L1001.50,624.24 L1002.50,624.28 L1003.50,624.33 L1004.50,624.37 L1005.50,624.42 L1006.50,624.46 L1007.50,624.50 L1008.50,624.54 L1009.50,624.58 L1010.50,624.62 L1011.50,624.67 L1012.50,624.71 L1013.50,624.75 L1014.50,624.78 L1015.50,624.82 L1016.50,624.86 L1017.50,624.90 L1018.50,624.94 L1019.50,624.98 L1020.50,625.01 L1021.50,625.05 L1022.50,625.08 L1023.50,625.12 L1024.50,625.16 L1025.50,625.19 L1026.50,625.23 L1027.50,625.26 L1028.50,625.29 L1029.50,625.33 L1030.50,625.36 L1031.50,625.39 L1032.50,625.43 L1033.50,625.46 L1034.50,625.49 L1035.50,625.52 L1036.50,625.55 L1037.50,625.58 L1038.50,625.61 L1039.50,625.64 L1040.50,625.67 L1041.50,625.70 L1042.50,625.73 L1043.50,625.76 L1044.50,625.79 L1045.50,625.82 L1046.50,625.85 L1047.50,625.87 L1048.50,625.90 L1049.50,625.93 L1050.50,625.96 L1051.50,625.98 L1052.50,626.01 L1053.50,626.04 L1054.50,626.06 L1055.50,626.09 L1056.50,626.11 L1057.50,626.14 L1058.50,626.16 L1059.50,626.19 L1060.50,626.21 L1061.50,626.23 L1062.50,626.26 L1063.50,626.28 L1064.50,626.30 L1065.50,626.33 L1066.50,626.35 L1067.50,626.37 L1068.50,626.40 L1069.50,626.42 L1070.50,626.44 L1071.50,626.46 L1072.50,626.48 L1073.50,626.50 L1074.50,626.52 L1075.50,626.54 L1076.50,626.57 L1077.50,626.59 L1078.50,626.61 L1079.50,626.63 L1080.50,626.65 L1081.50,626.66 L1082.50,626.68 L1083.50,626.70 L1084.50,626.72 L1085.50,626.74 L1086.50,626.76 L1087.50,626.78 L1088.50,626.80 L1089.50,626.81 L1090.50,626.83 L1091.50,626.85 L1092.50,626.87 L1093.50,626.88 L1094.50,626.90 L1095.50,626.92 L1096.50,626.93 L1097.50,626.95 L1098.50,626.97 L1099.50,626.98 L1100.50,627.00 L1101.50,627.01 L1102.50,627.03 L1103.50,627.04 L1104.50,627.06 L1105.50,627.07 L1106.50,627.09 L1107.50,627.10 L1108.50,627.12 L1109.50,627.13 L1110.50,627.15 L1111.50,627.16 L1112.50,627.18 L1113.50,627.19 L1114.50,627.20 L1115.50,627.22 L1116.50,627.23 L1117.50,627.24 L1118.50,627.26 L1119.50,627.27 L1120.50,627.28 L1121.50,627.30 L1122.50,627.31 L1123.50,627.32 L1124.50,627.33 L1125.50,627.35 L1126.50,627.36 L1127.50,627.37 L1128.50,627.38 L1129.50,627.39 L1130.50,627.40 L1131.50,627.42 L1132.50,627.43 L1133.50,627.44 L1134.50,627.45 L1135.50,627.46 L1136.50,627.47 L1137.50,627.48 L1138.50,627.49 L1139.50,627.50 L1140.50,627.51 L1141.50,627.52 L1142.50,627.53 L1143.50,627.54 L1144.50,627.55 L1145.50,627.56 L1146.50,627.57 L1147.50,627.58 L1148.50,627.59 L1149.50,627.60 L1150.50,627.61 L1151.50,627.62 L1152.50,627.63 L1153.50,627.64 L1154.50,627.65 L1155.50,627.66 L1156.50,627.67 L1157.50,627.68 L1158.50,627.68 L1159.50,627.69 L1160.50,627.70 L1161.50,627.71 L1162.50,627.72 L1163.50,627.73 L1164.50,627.73 L1165.50,627.74 L1166.50,627.75 L1167.50,627.76 L1168.50,627.77 L1169.50,627.77 L1170.50,627.78 L1171.50,627.79 L1172.50,627.80 L1173.50,627.80 L1174.50,627.81 L1175.50,627.82 L1176.50,627.82 L1177.50,627.83 L1178.50,627.84 L1179.50,627.85 L1180.50,627.85 L1181.50,627.86 L1182.50,627.87 L1183.50,627.87 L1184.50,627.88 L1185.50,627.89 L1186.50,627.89 L1187.50,627.90 L1188.50,627.90 L1189.50,627.91 L1190.50,627.92 L1191.50,627.92 L1192.50,627.93 L1193.50,627.94 L1194.50,627.94 L1195.50,627.95 L1196.50,627.95 L1197.50,627.96 L1198.50,627.96 L1199.50,627.97 L1200.50,627.98 L1201.50,627.98 L1202.50,627.99 L1203.50,627.99 L1204.50,628.00 L1205.50,628.00 L1206.50,628.01 L1207.50,628.01 L1208.50,628.02 L1209.50,628.02 L1210.50,628.03 L1211.50,628.03 L1212.50,628.04 L1213.50,628.04 L1214.50,628.05 L1215.50,628.05 L1216.50,628.06 L1217.50,628.06 L1218.50,628.07 L1219.50,628.07 L1220.50,628.08 L1221.50,628.08 L1222.50,628.08 L1223.50,628.09 L1224.50,628.09 L1225.50,628.10 L1226.50,628.10" fill="none" stroke="#f4474c" stroke-width="1.0" stroke-linejoin="round" stroke-linecap="round" opacity="0.85"/>
<path d="M883.50,628.50 L884.50,628.47 L885.50,628.44 L886.50,628.41 L887.50,628.38 L888.50,628.35 L889.50,628.32 L890.50,628.29 L891.50,628.26 L892.50,628.23 L893.50,628.20 L894.50,628.18 L895.50,628.15 L896.50,628.12 L897.50,628.09 L898.50,628.06 L899.50,628.04 L900.50,628.01 L901.50,627.98 L902.50,627.96 L903.50,627.93 L904.50,627.90 L905.50,627.88 L906.50,627.85 L907.50,627.83 L908.50,627.80 L909.50,627.77 L910.50,627.75 L911.50,627.72 L912.50,627.70 L913.50,627.68 L914.50,627.65 L915.50,627.63 L916.50,627.60 L917.50,627.58 L918.50,627.56 L919.50,627.53 L920.50,627.51 L921.50,627.49 L922.50,627.46 L923.50,627.44 L924.50,627.42 L925.50,627.40 L926.50,627.37 L927.50,627.35 L928.50,627.33 L929.50,627.31 L930.50,627.29 L931.50,627.27 L932.50,627.24 L933.50,627.22 L934.50,627.20 L935.50,627.18 L936.50,627.16 L937.50,627.14 L938.50,627.12 L939.50,627.10 L940.50,627.08 L941.50,627.06 L942.50,627.04 L943.50,627.02 L944.50,627.00 L945.50,626.98 L946.50,626.96 L947.50,626.94 L948.50,626.93 L949.50,626.91 L950.50,626.89 L951.50,626.87 L952.50,626.85 L953.50,626.83 L954.50,626.82 L955.50,626.80 L956.50,626.78 L957.50,626.76 L958.50,626.75 L959.50,626.73 L960.50,626.71 L961.50,626.70 L962.50,626.68 L963.50,626.66 L964.50,626.65 L965.50,626.63 L966.50,626.61 L967.50,626.60 L968.50,626.58 L969.50,626.56 L970.50,626.58 L971.50,626.60 L972.50,626.62 L973.50,626.64 L974.50,626.66 L975.50,626.68 L976.50,626.70 L977.50,626.72 L978.50,626.74 L979.50,626.76 L980.50,626.78 L981.50,626.79 L982.50,626.81 L983.50,626.83 L984.50,626.85 L985.50,626.86 L986.50,626.88 L987.50,626.90 L988.50,626.92 L989.50,626.93 L990.50,626.95 L991.50,626.96 L992.50,626.98 L993.50,627.00 L994.50,627.01 L995.50,627.03 L996.50,627.04 L997.50,627.06 L998.50,627.07 L999.50,627.09 L1000.50,627.10 L1001.50,627.12 L1002.50,627.13 L1003.50,627.15 L1004.50,627.16 L1005.50,627.17 L1006.50,627.19 L1007.50,627.20 L1008.50,627.22 L1009.50,627.23 L1010.50,627.24 L1011.50,627.26 L1012.50,627.27 L1013.50,627.28 L1014.50,627.29 L1015.50,627.31 L1016.50,627.32 L1017.50,627.33 L1018.50,627.34 L1019.50,627.36 L1020.50,627.37 L1021.50,627.38 L1022.50,627.39 L1023.50,627.40 L1024.50,627.42 L1025.50,627.43 L1026.50,627.44 L1027.50,627.45 L1028.50,627.46 L1029.50,627.47 L1030.50,627.48 L1031.50,627.49 L1032.50,627.50 L1033.50,627.51 L1034.50,627.52 L1035.50,627.53 L1036.50,627.54 L1037.50,627.55 L1038.50,627.56 L1039.50,627.57 L1040.50,627.58 L1041.50,627.59 L1042.50,627.60 L1043.50,627.61 L1044.50,627.62 L1045.50,627.63 L1046.50,627.64 L1047.50,627.65 L1048.50,627.66 L1049.50,627.67 L1050.50,627.67 L1051.50,627.68 L1052.50,627.69 L1053.50,627.70 L1054.50,627.71 L1055.50,627.72 L1056.50,627.73 L1057.50,627.73 L1058.50,627.74 L1059.50,627.75 L1060.50,627.76 L1061.50,627.77 L1062.50,627.77 L1063.50,627.78 L1064.50,627.79 L1065.50,627.80 L1066.50,627.80 L1067.50,627.81 L1068.50,627.82 L1069.50,627.82 L1070.50,627.83 L1071.50,627.84 L1072.50,627.85 L1073.50,627.85 L1074.50,627.86 L1075.50,627.87 L1076.50,627.87 L1077.50,627.88 L1078.50,627.89 L1079.50,627.89 L1080.50,627.90 L1081.50,627.90 L1082.50,627.91 L1083.50,627.92 L1084.50,627.92 L1085.50,627.93 L1086.50,627.94 L1087.50,627.94 L1088.50,627.95 L1089.50,627.95 L1090.50,627.96 L1091.50,627.96 L1092.50,627.97 L1093.50,627.98 L1094.50,627.98 L1095.50,627.99 L1096.50,627.99 L1097.50,628.00 L1098.50,628.00 L1099.50,628.01 L1100.50,628.01 L1101.50,628.02 L1102.50,628.02 L1103.50,628.03 L1104.50,628.03 L1105.50,628.04 L1106.50,628.04 L1107.50,628.05 L1108.50,628.05 L1109.50,628.06 L1110.50,628.06 L1111.50,628.07 L1112.50,628.07 L1113.50,628.07 L1114.50,628.08 L1115.50,628.08 L1116.50,628.09 L1117.50,628.09 L1118.50,628.10 L1119.50,628.10 L1120.50,628.11 L1121.50,628.11 L1122.50,628.11 L1123.50,628.12 L1124.50,628.12 L1125.50,628.13 L1126.50,628.13 L1127.50,628.13 L1128.50,628.14 L1129.50,628.14 L1130.50,628.14 L1131.50,628.15 L1132.50,628.15 L1133.50,628.16 L1134.50,628.16 L1135.50,628.16 L1136.50,628.17 L1137.50,628.17 L1138.50,628.17 L1139.50,628.18 L1140.50,628.18 L1141.50,628.18 L1142.50,628.19 L1143.50,628.19 L1144.50,628.19 L1145.50,628.20 L1146.50,628.20 L1147.50,628.20 L1148.50,628.21 L1149.50,628.21 L1150.50,628.21 L1151.50,628.22 L1152.50,628.22 L1153.50,628.22 L1154.50,628.22 L1155.50,628.23 L1156.50,628.23 L1157.50,628.23 L1158.50,628.24 L1159.50,628.24 L1160.50,628.24 L1161.50,628.24 L1162.50,628.25 L1163.50,628.25 L1164.50,628.25 L1165.50,628.25 L1166.50,628.26 L1167.50,628.26 L1168.50,628.26 L1169.50,628.26 L1170.50,628.27 L1171.50,628.27 L1172.50,628.27 L1173.50,628.27 L1174.50,628.28 L1175.50,628.28 L1176.50,628.28 L1177.50,628.28 L1178.50,628.29 L1179.50,628.29 L1180.50,628.29 L1181.50,628.29 L1182.50,628.29 L1183.50,628.30 L1184.50,628.30 L1185.50,628.30 L1186.50,628.30 L1187.50,628.30 L1188.50,628.31 L1189.50,628.31 L1190.50,628.31 L1191.50,628.31 L1192.50,628.31 L1193.50,628.32 L1194.50,628.32 L1195.50,628.32 L1196.50,628.32 L1197.50,628.32 L1198.50,628.33 L1199.50,628.33 L1200.50,628.33 L1201.50,628.33 L1202.50,628.33 L1203.50,628.34 L1204.50,628.34 L1205.50,628.34 L1206.50,628.34 L1207.50,628.34 L1208.50,628.34 L1209.50,628.35 L1210.50,628.35 L1211.50,628.35 L1212.50,628.35 L1213.50,628.35 L1214.50,628.35 L1215.50,628.35 L1216.50,628.36 L1217.50,628.36 L1218.50,628.36 L1219.50,628.36 L1220.50,628.36 L1221.50,628.36 L1222.50,628.37 L1223.50,628.37 L1224.50,628.37 L1225.50,628.37 L1226.50,628.37" fill="none" stroke="#f4474c" stroke-width="1.0" stroke-linejoin="round" stroke-linecap="round" opacity="0.85"/>
</g>
<line x1="872.75" y1="504.50" x2="872.75" y2="647.35" stroke="#a4a4a4" stroke-width="1.3"/>
<line x1="872.15" y1="646.75" x2="1249.50" y2="646.75" stroke="#a4a4a4" stroke-width="1.3"/>
<line x1="1233.50" y1="512.00" x2="1233.50" y2="641.00" stroke="#f8f8f8" stroke-width="1"/>
<text font-size="15.6" fill="#5e5e5e" stroke="#5e5e5e" stroke-width="0.3" textLength="26.40" lengthAdjust="spacing" transform="translate(831.40 515.00) scale(1 1.12)">100</text>
<text font-size="15.6" fill="#5e5e5e" stroke="#5e5e5e" stroke-width="0.3" textLength="18.40" lengthAdjust="spacing" transform="translate(839.40 539.50) scale(1 1.12)">80</text>
<text font-size="15.6" fill="#5e5e5e" stroke="#5e5e5e" stroke-width="0.3" textLength="18.40" lengthAdjust="spacing" transform="translate(839.40 564.50) scale(1 1.12)">60</text>
<text font-size="15.6" fill="#5e5e5e" stroke="#5e5e5e" stroke-width="0.3" textLength="18.40" lengthAdjust="spacing" transform="translate(839.40 589.50) scale(1 1.12)">40</text>
<text font-size="15.6" fill="#5e5e5e" stroke="#5e5e5e" stroke-width="0.3" textLength="18.40" lengthAdjust="spacing" transform="translate(839.40 612.00) scale(1 1.12)">20</text>
<text font-size="15.6" fill="#5e5e5e" stroke="#5e5e5e" stroke-width="0.3" textLength="8.80" lengthAdjust="spacing" transform="translate(849.00 636.40) scale(1 1.12)">0</text>
<text font-size="15.6" fill="#5e5e5e" stroke="#5e5e5e" stroke-width="0.3" textLength="26.65" lengthAdjust="spacing" transform="translate(911.15 663.75) scale(1 1.12)">200</text>
<text font-size="15.6" fill="#5e5e5e" stroke="#5e5e5e" stroke-width="0.3" textLength="27.65" lengthAdjust="spacing" transform="translate(969.65 663.75) scale(1 1.12)">400</text>
<text font-size="15.6" fill="#5e5e5e" stroke="#5e5e5e" stroke-width="0.3" textLength="26.90" lengthAdjust="spacing" transform="translate(1034.15 663.75) scale(1 1.12)">600</text>
<text font-size="15.6" fill="#5e5e5e" stroke="#5e5e5e" stroke-width="0.3" textLength="27.15" lengthAdjust="spacing" transform="translate(1096.40 663.75) scale(1 1.12)">800</text>
<text font-size="15.6" fill="#5e5e5e" stroke="#5e5e5e" stroke-width="0.3" textLength="34.65" lengthAdjust="spacing" transform="translate(1155.90 663.75) scale(1 1.12)">1000</text>
<text font-size="15.6" fill="#444444" font-weight="bold" stroke="#444444" stroke-width="0.3" textLength="69.00" lengthAdjust="spacing" transform="translate(1021.20 700.50) scale(1 1.19)">TIME(S)</text>
<text font-size="15.4" fill="#444444" font-weight="bold" stroke="#444444" stroke-width="0.3" textLength="138.50" lengthAdjust="spacing" transform="translate(823.20 644.20) rotate(-90) scale(1 1.2)">RESPONSE (RU)</text>
</svg>
</body>
</html>
